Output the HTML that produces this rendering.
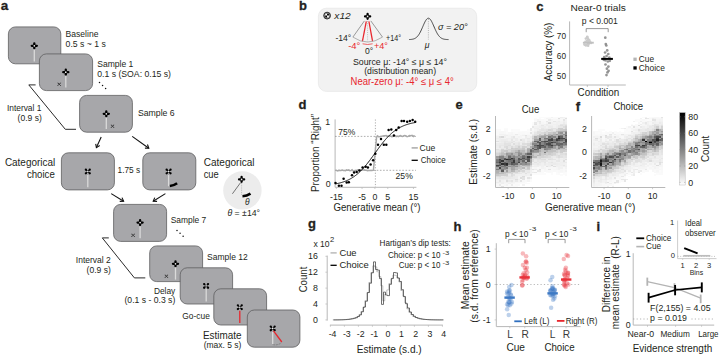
<!DOCTYPE html>
<html><head><meta charset="utf-8"><style>
html,body{margin:0;padding:0;background:#fff;width:720px;height:355px;overflow:hidden}
svg{display:block;font-family:"Liberation Sans",sans-serif}
text{stroke:#231f20;stroke-width:0;paint-order:stroke}
text[fill="#e8262d"]{stroke:#e8262d}
</style></head><body>
<svg width="720" height="355" viewBox="0 0 720 355" font-family="Liberation Sans, sans-serif" fill="#231f20"><path d="M28.8,84.9 L35.6,84.9 M28.8,84.9 L65.3,129.3 L76,129.3" stroke="#2a2a2a" stroke-width="1.0" fill="none" />
<path d="M102.3,237.9 L108.8,237.9 M102.3,237.9 L134.4,277.9 L145.3,277.9" stroke="#2a2a2a" stroke-width="1.0" fill="none" />
<rect x="8.40" y="26.90" width="52.40" height="36.90" rx="7" ry="7" fill="#a7a7aa" stroke="#5e5e60" stroke-width="0.8"/>
<path d="M31.75,45.80 L36.85,45.80 M34.30,43.35 L34.30,48.25" stroke="#000" stroke-width="2.3" stroke-linecap="round"/>
<circle cx="34.30" cy="45.80" r="0.85" fill="#f2f2f2"/>
<line x1="34.30" y1="49.60" x2="34.30" y2="61.50" stroke="#dadada" stroke-width="1.3" />
<rect x="39.40" y="53.90" width="53.20" height="36.70" rx="7" ry="7" fill="#a7a7aa" stroke="#5e5e60" stroke-width="0.8"/>
<path d="M63.25,72.20 L68.35,72.20 M65.80,69.75 L65.80,74.65" stroke="#000" stroke-width="2.3" stroke-linecap="round"/>
<circle cx="65.80" cy="72.20" r="0.85" fill="#f2f2f2"/>
<line x1="65.80" y1="75.80" x2="65.80" y2="87.50" stroke="#dadada" stroke-width="1.3" />
<path d="M57.95,82.95 L60.45,85.45 M57.95,85.45 L60.45,82.95" stroke="#222" stroke-width="0.75"/>
<circle cx="60.45" cy="85.45" r="0.45" fill="#222"/>
<circle cx="57.95" cy="85.45" r="0.45" fill="#222"/>
<circle cx="60.45" cy="82.95" r="0.45" fill="#222"/>
<circle cx="57.95" cy="82.95" r="0.45" fill="#222"/>
<rect x="79.60" y="95.40" width="52.80" height="36.80" rx="7" ry="7" fill="#a7a7aa" stroke="#5e5e60" stroke-width="0.8"/>
<path d="M103.75,113.80 L108.85,113.80 M106.30,111.35 L106.30,116.25" stroke="#000" stroke-width="2.3" stroke-linecap="round"/>
<circle cx="106.30" cy="113.80" r="0.85" fill="#f2f2f2"/>
<line x1="106.30" y1="117.40" x2="106.30" y2="129.00" stroke="#dadada" stroke-width="1.3" />
<path d="M111.25,124.95 L113.75,127.45 M111.25,127.45 L113.75,124.95" stroke="#222" stroke-width="0.75"/>
<circle cx="113.75" cy="127.45" r="0.45" fill="#222"/>
<circle cx="111.25" cy="127.45" r="0.45" fill="#222"/>
<circle cx="113.75" cy="124.95" r="0.45" fill="#222"/>
<circle cx="111.25" cy="124.95" r="0.45" fill="#222"/>
<rect x="61.40" y="152.80" width="53.00" height="37.10" rx="7" ry="7" fill="#a7a7aa" stroke="#5e5e60" stroke-width="0.8"/>
<path d="M85.85,169.65 L89.75,173.35 M85.85,173.35 L89.75,169.65" stroke="#000" stroke-width="1.15"/>
<circle cx="89.75" cy="173.35" r="1.15" fill="#000"/>
<circle cx="85.85" cy="173.35" r="1.15" fill="#000"/>
<circle cx="89.75" cy="169.65" r="1.15" fill="#000"/>
<circle cx="85.85" cy="169.65" r="1.15" fill="#000"/>
<circle cx="87.80" cy="171.50" r="0.8" fill="#f2f2f2"/>
<line x1="87.80" y1="175.00" x2="87.80" y2="187.20" stroke="#dadada" stroke-width="1.3" />
<rect x="142.80" y="152.80" width="53.00" height="37.10" rx="7" ry="7" fill="#a7a7aa" stroke="#5e5e60" stroke-width="0.8"/>
<path d="M166.65,169.65 L170.55,173.35 M166.65,173.35 L170.55,169.65" stroke="#000" stroke-width="1.15"/>
<circle cx="170.55" cy="173.35" r="1.15" fill="#000"/>
<circle cx="166.65" cy="173.35" r="1.15" fill="#000"/>
<circle cx="170.55" cy="169.65" r="1.15" fill="#000"/>
<circle cx="166.65" cy="169.65" r="1.15" fill="#000"/>
<circle cx="168.60" cy="171.50" r="0.8" fill="#f2f2f2"/>
<line x1="168.60" y1="175.00" x2="168.60" y2="186.20" stroke="#dadada" stroke-width="1.3" />
<path d="M169.86,185.94 A14.5,14.5 0 0 0 177.12,183.23" stroke="#000" stroke-width="2.6" fill="none" />
<rect x="113.60" y="204.40" width="53.00" height="37.00" rx="7" ry="7" fill="#a7a7aa" stroke="#5e5e60" stroke-width="0.8"/>
<path d="M137.55,222.60 L142.65,222.60 M140.10,220.15 L140.10,225.05" stroke="#000" stroke-width="2.3" stroke-linecap="round"/>
<circle cx="140.10" cy="222.60" r="0.85" fill="#f2f2f2"/>
<line x1="140.10" y1="226.20" x2="140.10" y2="238.20" stroke="#dadada" stroke-width="1.3" />
<path d="M131.85,234.05 L134.35,236.55 M131.85,236.55 L134.35,234.05" stroke="#222" stroke-width="0.75"/>
<circle cx="134.35" cy="236.55" r="0.45" fill="#222"/>
<circle cx="131.85" cy="236.55" r="0.45" fill="#222"/>
<circle cx="134.35" cy="234.05" r="0.45" fill="#222"/>
<circle cx="131.85" cy="234.05" r="0.45" fill="#222"/>
<rect x="149.70" y="245.90" width="52.90" height="35.70" rx="7" ry="7" fill="#a7a7aa" stroke="#5e5e60" stroke-width="0.8"/>
<path d="M172.95,263.80 L178.05,263.80 M175.50,261.35 L175.50,266.25" stroke="#000" stroke-width="2.3" stroke-linecap="round"/>
<circle cx="175.50" cy="263.80" r="0.85" fill="#f2f2f2"/>
<line x1="175.50" y1="267.30" x2="175.50" y2="279.60" stroke="#dadada" stroke-width="1.3" />
<path d="M165.15,274.95 L167.65,277.45 M165.15,277.45 L167.65,274.95" stroke="#222" stroke-width="0.75"/>
<circle cx="167.65" cy="277.45" r="0.45" fill="#222"/>
<circle cx="165.15" cy="277.45" r="0.45" fill="#222"/>
<circle cx="167.65" cy="274.95" r="0.45" fill="#222"/>
<circle cx="165.15" cy="274.95" r="0.45" fill="#222"/>
<rect x="180.20" y="267.80" width="52.40" height="36.20" rx="7" ry="7" fill="#a7a7aa" stroke="#5e5e60" stroke-width="0.8"/>
<path d="M204.15,284.05 L208.05,287.75 M204.15,287.75 L208.05,284.05" stroke="#000" stroke-width="1.15"/>
<circle cx="208.05" cy="287.75" r="1.15" fill="#000"/>
<circle cx="204.15" cy="287.75" r="1.15" fill="#000"/>
<circle cx="208.05" cy="284.05" r="1.15" fill="#000"/>
<circle cx="204.15" cy="284.05" r="1.15" fill="#000"/>
<circle cx="206.10" cy="285.90" r="0.8" fill="#f2f2f2"/>
<line x1="206.20" y1="289.10" x2="206.20" y2="301.50" stroke="#dadada" stroke-width="1.3" />
<rect x="213.80" y="288.80" width="52.80" height="36.20" rx="7" ry="7" fill="#a7a7aa" stroke="#5e5e60" stroke-width="0.8"/>
<path d="M237.85,305.35 L241.75,309.05 M237.85,309.05 L241.75,305.35" stroke="#000" stroke-width="1.15"/>
<circle cx="241.75" cy="309.05" r="1.15" fill="#000"/>
<circle cx="237.85" cy="309.05" r="1.15" fill="#000"/>
<circle cx="241.75" cy="305.35" r="1.15" fill="#000"/>
<circle cx="237.85" cy="305.35" r="1.15" fill="#000"/>
<circle cx="239.80" cy="307.20" r="0.8" fill="#f2f2f2"/>
<line x1="239.80" y1="310.70" x2="239.80" y2="323.00" stroke="#e8262d" stroke-width="1.3" />
<rect x="247.30" y="310.00" width="52.60" height="37.20" rx="7" ry="7" fill="#a7a7aa" stroke="#5e5e60" stroke-width="0.8"/>
<path d="M270.75,326.55 L274.65,330.25 M270.75,330.25 L274.65,326.55" stroke="#000" stroke-width="1.15"/>
<circle cx="274.65" cy="330.25" r="1.15" fill="#000"/>
<circle cx="270.75" cy="330.25" r="1.15" fill="#000"/>
<circle cx="274.65" cy="326.55" r="1.15" fill="#000"/>
<circle cx="270.75" cy="326.55" r="1.15" fill="#000"/>
<circle cx="272.70" cy="328.40" r="0.8" fill="#f2f2f2"/>
<line x1="272.70" y1="331.90" x2="272.70" y2="344.30" stroke="#dadada" stroke-width="1.3" />
<line x1="273.50" y1="330.80" x2="281.80" y2="342.00" stroke="#e8262d" stroke-width="1.3" />
<path d="M272.7,344.6 Q277,345.6 280.8,343.2" stroke="#333" stroke-width="0.5" fill="none" stroke-dasharray="0.8,0.8"/>
<line x1="101.20" y1="137.00" x2="96.40" y2="147.60" stroke="#111" stroke-width="1.1" />
<path d="M95.72,143.78 L96.40,147.60 L99.72,145.59" stroke="#111" stroke-width="1.1" fill="none" />
<line x1="132.20" y1="136.40" x2="148.80" y2="148.20" stroke="#111" stroke-width="1.1" />
<path d="M144.92,148.14 L148.80,148.20 L147.47,144.55" stroke="#111" stroke-width="1.1" fill="none" />
<line x1="111.20" y1="193.60" x2="123.60" y2="201.20" stroke="#111" stroke-width="1.1" />
<path d="M119.72,201.40 L123.60,201.20 L122.02,197.65" stroke="#111" stroke-width="1.1" fill="none" />
<line x1="165.40" y1="193.60" x2="153.20" y2="201.20" stroke="#111" stroke-width="1.1" />
<path d="M154.75,197.64 L153.20,201.20 L157.08,201.38" stroke="#111" stroke-width="1.1" fill="none" />
<circle cx="99.50" cy="82.50" r="0.75" fill="#111"/>
<circle cx="102.55" cy="85.45" r="0.75" fill="#111"/>
<circle cx="105.60" cy="88.40" r="0.75" fill="#111"/>
<circle cx="177.00" cy="230.40" r="0.75" fill="#111"/>
<circle cx="180.05" cy="233.35" r="0.75" fill="#111"/>
<circle cx="183.10" cy="236.30" r="0.75" fill="#111"/>
<circle cx="242.4" cy="190.4" r="19.2" fill="#ececec"/>
<path d="M239.05,179.40 L244.15,179.40 M241.60,176.95 L241.60,181.85" stroke="#000" stroke-width="2.3" stroke-linecap="round"/>
<circle cx="241.60" cy="179.40" r="0.85" fill="#f2f2f2"/>
<path d="M241.6,183 L241.6,195.6" stroke="#b0b0b0" stroke-width="0.8" fill="none" stroke-dasharray="1,0.8"/>
<line x1="240.60" y1="182.60" x2="232.40" y2="193.80" stroke="#222" stroke-width="0.6" />
<path d="M242.48,196.18 A16.8,16.8 0 0 0 250.50,193.65" stroke="#000" stroke-width="2.6" fill="none" />
<text x="245.00" y="205.00" font-size="8.4" font-style="italic" >θ</text>
<text x="0.80" y="10.10" font-size="13.5" font-weight="bold" style="stroke-width:0.3px" >a</text>
<text x="65.60" y="37.00" font-size="8.6" textLength="32.80" lengthAdjust="spacingAndGlyphs" >Baseline</text>
<text x="65.60" y="47.20" font-size="8.6" textLength="40.20" lengthAdjust="spacingAndGlyphs" >0.5 s ~ 1 s</text>
<text x="97.20" y="66.70" font-size="8.6" textLength="36.20" lengthAdjust="spacingAndGlyphs" >Sample 1</text>
<text x="97.20" y="76.60" font-size="8.6" textLength="73.80" lengthAdjust="spacingAndGlyphs" >0.1 s (SOA: 0.15 s)</text>
<text x="137.90" y="116.10" font-size="8.6" textLength="36.80" lengthAdjust="spacingAndGlyphs" >Sample 6</text>
<text x="41.40" y="111.10" font-size="8.6" text-anchor="end" textLength="34.50" lengthAdjust="spacingAndGlyphs" >Interval 1</text>
<text x="41.80" y="120.80" font-size="8.6" text-anchor="end" textLength="24.20" lengthAdjust="spacingAndGlyphs" >(0.9 s)</text>
<text x="4.90" y="166.20" font-size="10" textLength="50.30" lengthAdjust="spacingAndGlyphs" >Categorical</text>
<text x="54.80" y="177.60" font-size="10" text-anchor="end" textLength="27.90" lengthAdjust="spacingAndGlyphs" >choice</text>
<text x="117.60" y="172.70" font-size="8.6" textLength="22.60" lengthAdjust="spacingAndGlyphs" >1.75 s</text>
<text x="203.70" y="166.40" font-size="10" textLength="50.80" lengthAdjust="spacingAndGlyphs" >Categorical</text>
<text x="203.70" y="178.00" font-size="10" textLength="15.00" lengthAdjust="spacingAndGlyphs" >cue</text>
<text x="227.4" y="216.1" font-size="8.6" textLength="32.7" lengthAdjust="spacingAndGlyphs"><tspan font-style="italic">θ</tspan> = ±14°</text>
<text x="170.70" y="223.30" font-size="8.6" textLength="35.60" lengthAdjust="spacingAndGlyphs" >Sample 7</text>
<text x="110.80" y="262.70" font-size="8.6" text-anchor="end" textLength="35.00" lengthAdjust="spacingAndGlyphs" >Interval 2</text>
<text x="110.80" y="272.60" font-size="8.6" text-anchor="end" textLength="24.20" lengthAdjust="spacingAndGlyphs" >(0.9 s)</text>
<text x="207.00" y="259.60" font-size="8.6" textLength="40.70" lengthAdjust="spacingAndGlyphs" >Sample 12</text>
<text x="175.30" y="294.20" font-size="8.6" text-anchor="end" textLength="21.40" lengthAdjust="spacingAndGlyphs" >Delay</text>
<text x="175.30" y="302.80" font-size="8.6" text-anchor="end" textLength="50.80" lengthAdjust="spacingAndGlyphs" >(0.1 s - 0.3 s)</text>
<text x="182.30" y="318.50" font-size="8.6" textLength="27.50" lengthAdjust="spacingAndGlyphs" >Go-cue</text>
<text x="203.00" y="339.30" font-size="10.4" textLength="38.50" lengthAdjust="spacingAndGlyphs" >Estimate</text>
<text x="203.70" y="347.60" font-size="8.6" textLength="37.70" lengthAdjust="spacingAndGlyphs" >(max. 5 s)</text>
<text x="298.90" y="10.20" font-size="13" font-weight="bold" style="stroke-width:0.3px" >b</text>
<rect x="318.4" y="8.2" width="158.3" height="83.2" rx="8" ry="8" fill="#f2f2f2" stroke="#e2e2e2" stroke-width="0.6"/>
<circle cx="327.1" cy="15.6" r="3.4" fill="#8a8a8a" stroke="#222" stroke-width="0.9"/>
<rect x="325.35" y="13.85" width="1.75" height="1.75" fill="#fff"/>
<rect x="327.1" y="13.85" width="1.75" height="1.75" fill="#000"/>
<rect x="325.35" y="15.6" width="1.75" height="1.75" fill="#000"/>
<rect x="327.1" y="15.6" width="1.75" height="1.75" fill="#fff"/>
<text x="334.30" y="18.80" font-size="9.6" font-style="italic" textLength="16.40" lengthAdjust="spacingAndGlyphs" >x12</text>
<path d="M365.05,16.40 L370.15,16.40 M367.60,13.95 L367.60,18.85" stroke="#000" stroke-width="2.3" stroke-linecap="round"/>
<circle cx="367.60" cy="16.40" r="0.85" fill="#f2f2f2"/>
<line x1="364.40" y1="20.90" x2="352.90" y2="37.10" stroke="#8f8f8f" stroke-width="0.9" />
<line x1="370.80" y1="20.90" x2="382.50" y2="37.10" stroke="#8f8f8f" stroke-width="0.9" />
<line x1="366.30" y1="21.30" x2="362.40" y2="41.30" stroke="#e8262d" stroke-width="1.25" />
<line x1="368.90" y1="21.30" x2="372.60" y2="41.30" stroke="#e8262d" stroke-width="1.25" />
<path d="M367.6,21 L367.6,41.5" stroke="#999" stroke-width="0.6" fill="none" stroke-dasharray="1,1.2"/>
<path d="M352.9,37.1 Q367.6,47.0 382.5,37.1" stroke="#a8a8a8" stroke-width="0.9" fill="none" />
<path d="M362.6,43.8 Q367.6,45.2 372.6,43.8" stroke="#e8262d" stroke-width="0.7" fill="none" />
<text x="335.50" y="41.20" font-size="8.4" textLength="15.80" lengthAdjust="spacingAndGlyphs" >-14°</text>
<text x="386.10" y="41.20" font-size="8.4" textLength="14.90" lengthAdjust="spacingAndGlyphs" >+14°</text>
<text x="348.20" y="49.40" font-size="8.6" fill="#e8262d" textLength="12.20" lengthAdjust="spacingAndGlyphs" >-4°</text>
<text x="373.90" y="49.40" font-size="8.6" fill="#e8262d" textLength="14.00" lengthAdjust="spacingAndGlyphs" >+4°</text>
<text x="365.00" y="53.60" font-size="8.4" textLength="8.20" lengthAdjust="spacingAndGlyphs" >0°</text>
<path d="M409.00,39.55 L409.49,39.53 L409.99,39.50 L410.48,39.47 L410.98,39.43 L411.47,39.38 L411.96,39.31 L412.46,39.23 L412.95,39.12 L413.44,39.00 L413.94,38.84 L414.43,38.65 L414.93,38.42 L415.42,38.14 L415.91,37.82 L416.41,37.44 L416.90,37.00 L417.39,36.50 L417.89,35.93 L418.38,35.28 L418.88,34.56 L419.37,33.77 L419.86,32.91 L420.36,31.97 L420.85,30.98 L421.34,29.93 L421.84,28.83 L422.33,27.70 L422.82,26.56 L423.32,25.42 L423.81,24.30 L424.31,23.22 L424.80,22.19 L425.29,21.25 L425.79,20.41 L426.28,19.68 L426.77,19.08 L427.27,18.63 L427.76,18.34 L428.26,18.21 L428.75,18.24 L429.24,18.44 L429.74,18.80 L430.23,19.31 L430.73,19.97 L431.22,20.75 L431.71,21.63 L432.21,22.61 L432.70,23.66 L433.19,24.76 L433.69,25.90 L434.18,27.04 L434.68,28.18 L435.17,29.29 L435.66,30.37 L436.16,31.40 L436.65,32.37 L437.14,33.28 L437.64,34.11 L438.13,34.87 L438.62,35.56 L439.12,36.17 L439.61,36.72 L440.11,37.19 L440.60,37.61 L441.09,37.96 L441.59,38.26 L442.08,38.52 L442.57,38.73 L443.07,38.91 L443.56,39.05 L444.06,39.17 L444.55,39.27 L445.04,39.34 L445.54,39.40 L446.03,39.45 L446.52,39.49 L447.02,39.51 L447.51,39.54 L448.01,39.55 L448.50,39.57" stroke="#333" stroke-width="0.9" fill="none" />
<path d="M428.4,19 L428.4,39.5" stroke="#888" stroke-width="0.6" fill="none" stroke-dasharray="1,1.2"/>
<text x="424.70" y="47.90" font-size="8.6" font-style="italic" >μ</text>
<text x="437.90" y="29.90" font-size="9.8" font-style="italic" textLength="29.80" lengthAdjust="spacingAndGlyphs" >σ = 20°</text>
<text x="352.90" y="64.60" font-size="8.8" textLength="94.10" lengthAdjust="spacingAndGlyphs" >Source μ: -14° ≤ μ ≤ 14°</text>
<text x="364.20" y="74.20" font-size="8.8" textLength="71.90" lengthAdjust="spacingAndGlyphs" >(distribution mean)</text>
<text x="350.60" y="85.20" font-size="10" fill="#e8262d" textLength="103.10" lengthAdjust="spacingAndGlyphs" >Near-zero μ: -4° ≤ μ ≤ 4°</text>
<text x="536.20" y="10.90" font-size="13" font-weight="bold" style="stroke-width:0.3px" >c</text>
<text x="570.50" y="11.00" font-size="9.6" textLength="55.30" lengthAdjust="spacingAndGlyphs" >Near-0 trials</text>
<text x="581.80" y="24.00" font-size="8.8" textLength="36.00" lengthAdjust="spacingAndGlyphs" >p &lt; 0.001</text>
<path d="M586.2,32.2 L586.2,28.6 L608.2,28.6 L608.2,32.2" stroke="#555" stroke-width="0.6" fill="none" />
<line x1="569.60" y1="21.40" x2="569.60" y2="85.00" stroke="#b8b8b8" stroke-width="1.0" />
<line x1="569.60" y1="85.00" x2="625.80" y2="85.00" stroke="#b8b8b8" stroke-width="1.0" />
<line x1="587.30" y1="85.00" x2="587.30" y2="86.80" stroke="#b8b8b8" stroke-width="1.0" />
<line x1="608.00" y1="85.00" x2="608.00" y2="86.80" stroke="#b8b8b8" stroke-width="1.0" />
<text x="566.00" y="39.20" font-size="8.8" text-anchor="end" textLength="9.20" lengthAdjust="spacingAndGlyphs" >70</text>
<text x="566.00" y="59.10" font-size="8.8" text-anchor="end" textLength="9.20" lengthAdjust="spacingAndGlyphs" >60</text>
<text x="566.00" y="78.90" font-size="8.8" text-anchor="end" textLength="9.20" lengthAdjust="spacingAndGlyphs" >50</text>
<text transform="translate(551.60,52.00) rotate(-90)" x="0" y="0" font-size="10" text-anchor="middle" textLength="58.60" lengthAdjust="spacingAndGlyphs">Accuracy (%)</text>
<text x="577.60" y="96.30" font-size="10" textLength="41.70" lengthAdjust="spacingAndGlyphs" >Condition</text>
<circle cx="588.15" cy="45.75" r="1.3" fill="#cbcbcb"/>
<circle cx="586.51" cy="45.08" r="1.3" fill="#cbcbcb"/>
<circle cx="587.59" cy="41.82" r="1.3" fill="#cbcbcb"/>
<circle cx="591.04" cy="42.91" r="1.3" fill="#cbcbcb"/>
<circle cx="587.93" cy="44.40" r="1.3" fill="#cbcbcb"/>
<circle cx="589.80" cy="42.42" r="1.3" fill="#cbcbcb"/>
<circle cx="588.94" cy="39.97" r="1.3" fill="#cbcbcb"/>
<circle cx="587.41" cy="41.36" r="1.3" fill="#cbcbcb"/>
<circle cx="585.87" cy="38.58" r="1.3" fill="#cbcbcb"/>
<circle cx="585.40" cy="41.88" r="1.3" fill="#cbcbcb"/>
<circle cx="587.72" cy="41.67" r="1.3" fill="#cbcbcb"/>
<circle cx="588.11" cy="39.03" r="1.3" fill="#cbcbcb"/>
<circle cx="587.87" cy="43.12" r="1.3" fill="#cbcbcb"/>
<circle cx="589.20" cy="40.30" r="1.3" fill="#cbcbcb"/>
<circle cx="587.36" cy="37.26" r="1.3" fill="#cbcbcb"/>
<circle cx="587.19" cy="36.79" r="1.3" fill="#cbcbcb"/>
<circle cx="585.73" cy="45.36" r="1.3" fill="#cbcbcb"/>
<circle cx="584.48" cy="44.58" r="1.3" fill="#cbcbcb"/>
<circle cx="588.52" cy="41.69" r="1.3" fill="#cbcbcb"/>
<circle cx="588.73" cy="43.87" r="1.3" fill="#cbcbcb"/>
<circle cx="589.67" cy="41.90" r="1.3" fill="#cbcbcb"/>
<circle cx="587.05" cy="40.93" r="1.3" fill="#cbcbcb"/>
<line x1="582.90" y1="42.70" x2="593.80" y2="42.70" stroke="#c0c0c0" stroke-width="1.9" />
<circle cx="605.30" cy="37.70" r="1.35" fill="#8a8a8a" fill-opacity="0.9"/>
<circle cx="605.80" cy="44.10" r="1.35" fill="#8a8a8a" fill-opacity="0.9"/>
<circle cx="606.30" cy="45.50" r="1.35" fill="#8a8a8a" fill-opacity="0.9"/>
<circle cx="607.20" cy="50.40" r="1.35" fill="#8a8a8a" fill-opacity="0.9"/>
<circle cx="605.10" cy="52.50" r="1.35" fill="#8a8a8a" fill-opacity="0.9"/>
<circle cx="608.30" cy="54.00" r="1.35" fill="#8a8a8a" fill-opacity="0.9"/>
<circle cx="606.60" cy="56.00" r="1.35" fill="#8a8a8a" fill-opacity="0.9"/>
<circle cx="604.20" cy="57.20" r="1.35" fill="#8a8a8a" fill-opacity="0.9"/>
<circle cx="609.30" cy="57.50" r="1.35" fill="#8a8a8a" fill-opacity="0.9"/>
<circle cx="605.30" cy="60.30" r="1.35" fill="#8a8a8a" fill-opacity="0.9"/>
<circle cx="607.80" cy="61.50" r="1.35" fill="#8a8a8a" fill-opacity="0.9"/>
<circle cx="605.50" cy="64.50" r="1.35" fill="#8a8a8a" fill-opacity="0.9"/>
<circle cx="608.40" cy="66.60" r="1.35" fill="#8a8a8a" fill-opacity="0.9"/>
<circle cx="606.90" cy="68.70" r="1.35" fill="#8a8a8a" fill-opacity="0.9"/>
<circle cx="608.60" cy="70.80" r="1.35" fill="#8a8a8a" fill-opacity="0.9"/>
<circle cx="607.50" cy="72.40" r="1.35" fill="#8a8a8a" fill-opacity="0.9"/>
<circle cx="606.50" cy="75.10" r="1.35" fill="#8a8a8a" fill-opacity="0.9"/>
<circle cx="603.80" cy="59.80" r="1.35" fill="#8a8a8a" fill-opacity="0.9"/>
<circle cx="609.80" cy="60.80" r="1.35" fill="#8a8a8a" fill-opacity="0.9"/>
<line x1="601.20" y1="58.90" x2="612.90" y2="58.90" stroke="#000" stroke-width="2.0" />
<rect x="633.4" y="57.6" width="3.3" height="3.3" fill="#b5b5b5"/>
<rect x="633.4" y="66.3" width="3.3" height="3.3" fill="#000"/>
<text x="638.80" y="61.90" font-size="8.8" textLength="15.30" lengthAdjust="spacingAndGlyphs" >Cue</text>
<text x="638.80" y="70.90" font-size="8.8" textLength="26.20" lengthAdjust="spacingAndGlyphs" >Choice</text>
<text x="298.40" y="109.30" font-size="13" font-weight="bold" style="stroke-width:0.3px" >d</text>
<line x1="335.10" y1="119.40" x2="335.10" y2="187.30" stroke="#b8b8b8" stroke-width="1.0" />
<line x1="335.10" y1="187.30" x2="416.40" y2="187.30" stroke="#b8b8b8" stroke-width="1.0" />
<line x1="336.35" y1="187.30" x2="336.35" y2="189.00" stroke="#b8b8b8" stroke-width="0.7" />
<line x1="362.05" y1="187.30" x2="362.05" y2="189.00" stroke="#b8b8b8" stroke-width="0.7" />
<line x1="374.90" y1="187.30" x2="374.90" y2="189.00" stroke="#b8b8b8" stroke-width="0.7" />
<line x1="387.75" y1="187.30" x2="387.75" y2="189.00" stroke="#b8b8b8" stroke-width="0.7" />
<line x1="413.45" y1="187.30" x2="413.45" y2="189.00" stroke="#b8b8b8" stroke-width="0.7" />
<text x="330.10" y="124.70" font-size="8.8" text-anchor="end" >1</text>
<text x="330.60" y="186.50" font-size="8.8" text-anchor="end" >0</text>
<text x="336.35" y="199.90" font-size="8.8" text-anchor="middle" >-15</text>
<text x="362.05" y="199.90" font-size="8.8" text-anchor="middle" >-5</text>
<text x="374.90" y="199.90" font-size="8.8" text-anchor="middle" >0</text>
<text x="387.75" y="199.90" font-size="8.8" text-anchor="middle" >5</text>
<text x="413.45" y="199.90" font-size="8.8" text-anchor="middle" >15</text>
<text x="333.40" y="210.80" font-size="10" textLength="87.20" lengthAdjust="spacingAndGlyphs" >Generative mean (°)</text>
<text transform="translate(319.20,153.00) rotate(-90)" x="0" y="0" font-size="10" text-anchor="middle" textLength="78.00" lengthAdjust="spacingAndGlyphs">Proportion “Right”</text>
<path d="M335.1,136.4 L416,136.4" stroke="#777" stroke-width="0.6" fill="none" stroke-dasharray="1.6,1.6"/>
<path d="M335.1,170.3 L416,170.3" stroke="#777" stroke-width="0.6" fill="none" stroke-dasharray="1.6,1.6"/>
<path d="M375.4,119.5 L375.4,187" stroke="#777" stroke-width="0.6" fill="none" stroke-dasharray="1.2,1.6"/>
<text x="338.30" y="135.10" font-size="9.2" textLength="16.90" lengthAdjust="spacingAndGlyphs" >75%</text>
<text x="395.60" y="179.00" font-size="9.2" textLength="17.20" lengthAdjust="spacingAndGlyphs" >25%</text>
<path d="M335.60,170.34 L336.70,170.47 L337.80,170.91 L338.90,170.36 L340.00,170.41 L341.10,170.50 L342.20,170.02 L343.30,170.41 L344.40,170.56 L345.50,170.75 L346.60,169.91 L347.70,170.16 L348.80,169.91 L349.90,170.77 L351.00,170.63 L352.10,169.85 L353.20,170.98 L354.30,170.96 L355.40,170.58 L356.50,170.54 L357.60,169.99 L358.70,169.82 L359.80,170.43 L360.90,169.87 L362.00,170.03 L363.10,170.09 L364.20,169.84 L365.30,170.36 L366.40,170.33 L367.50,170.81 L368.60,170.42 L369.70,170.57 L370.80,170.40 L371.90,170.59 L373.00,170.35 L373.4,170.2 L376.6,137.2 L377.40,135.83 L378.50,136.70 L379.60,136.69 L380.70,136.51 L381.80,136.35 L382.90,135.88 L384.00,135.78 L385.10,135.85 L386.20,135.58 L387.30,136.42 L388.40,135.98 L389.50,136.52 L390.60,135.96 L391.70,136.65 L392.80,136.52 L393.90,135.50 L395.00,135.75 L396.10,136.59 L397.20,136.06 L398.30,136.68 L399.40,135.98 L400.50,135.59 L401.60,136.26 L402.70,136.43 L403.80,135.82 L404.90,135.60 L406.00,135.90 L407.10,136.66 L408.20,136.41 L409.30,135.64 L410.40,135.80 L411.50,135.62 L412.60,135.57 L413.70,136.46 L414.80,135.71" stroke="#a9a9a9" stroke-width="1.5" fill="none" />
<path d="M335.50,183.92 L336.50,183.72 L337.50,183.52 L338.50,183.29 L339.50,183.05 L340.50,182.78 L341.50,182.50 L342.50,182.20 L343.50,181.87 L344.50,181.51 L345.50,181.13 L346.50,180.72 L347.50,180.29 L348.50,179.82 L349.50,179.31 L350.50,178.77 L351.50,178.20 L352.50,177.59 L353.50,176.94 L354.50,176.24 L355.50,175.51 L356.50,174.73 L357.50,173.91 L358.50,173.04 L359.50,172.13 L360.50,171.17 L361.50,170.17 L362.50,169.12 L363.50,168.03 L364.50,166.90 L365.50,165.73 L366.50,164.51 L367.50,163.27 L368.50,161.99 L369.50,160.68 L370.50,159.35 L371.50,158.00 L372.50,156.63 L373.50,155.24 L374.50,153.86 L375.50,152.47 L376.50,151.08 L377.50,149.70 L378.50,148.33 L379.50,146.98 L380.50,145.65 L381.50,144.35 L382.50,143.08 L383.50,141.84 L384.50,140.64 L385.50,139.47 L386.50,138.35 L387.50,137.27 L388.50,136.23 L389.50,135.23 L390.50,134.29 L391.50,133.38 L392.50,132.53 L393.50,131.71 L394.50,130.94 L395.50,130.22 L396.50,129.53 L397.50,128.89 L398.50,128.28 L399.50,127.72 L400.50,127.18 L401.50,126.69 L402.50,126.22 L403.50,125.79 L404.50,125.39 L405.50,125.01 L406.50,124.66 L407.50,124.34 L408.50,124.04 L409.50,123.76 L410.50,123.50 L411.50,123.26 L412.50,123.04 L413.50,122.84 L414.50,122.65 L415.50,122.47" stroke="#000" stroke-width="0.9" fill="none" />
<circle cx="335.5" cy="183" r="1.25" fill="#000"/>
<circle cx="338.9" cy="185.8" r="1.25" fill="#000"/>
<circle cx="341.5" cy="185.8" r="1.25" fill="#000"/>
<circle cx="343.6" cy="178.8" r="1.25" fill="#000"/>
<circle cx="346.7" cy="182.6" r="1.25" fill="#000"/>
<circle cx="348.8" cy="182.2" r="1.25" fill="#000"/>
<circle cx="352" cy="175.2" r="1.25" fill="#000"/>
<circle cx="354.1" cy="172.5" r="1.25" fill="#000"/>
<circle cx="356.7" cy="172" r="1.25" fill="#000"/>
<circle cx="359.4" cy="170.4" r="1.25" fill="#000"/>
<circle cx="362.6" cy="167.4" r="1.25" fill="#000"/>
<circle cx="365.7" cy="166.8" r="1.25" fill="#000"/>
<circle cx="367.9" cy="167.4" r="1.25" fill="#000"/>
<circle cx="370.6" cy="164.6" r="1.25" fill="#000"/>
<circle cx="373.1" cy="160.2" r="1.25" fill="#000"/>
<circle cx="375.3" cy="153.7" r="1.25" fill="#000"/>
<circle cx="378" cy="144.8" r="1.25" fill="#000"/>
<circle cx="381" cy="139" r="1.25" fill="#000"/>
<circle cx="383.8" cy="144.8" r="1.25" fill="#000"/>
<circle cx="386.3" cy="144.8" r="1.25" fill="#000"/>
<circle cx="388.6" cy="130.1" r="1.25" fill="#000"/>
<circle cx="391.3" cy="129.4" r="1.25" fill="#000"/>
<circle cx="393.9" cy="135.4" r="1.25" fill="#000"/>
<circle cx="396.2" cy="130.1" r="1.25" fill="#000"/>
<circle cx="398.7" cy="127.6" r="1.25" fill="#000"/>
<circle cx="401.6" cy="120.9" r="1.25" fill="#000"/>
<circle cx="404" cy="120.9" r="1.25" fill="#000"/>
<circle cx="407.2" cy="121.8" r="1.25" fill="#000"/>
<circle cx="409.9" cy="120.9" r="1.25" fill="#000"/>
<circle cx="412.6" cy="120" r="1.25" fill="#000"/>
<circle cx="415.2" cy="121.8" r="1.25" fill="#000"/>
<line x1="411.60" y1="147.90" x2="417.80" y2="147.90" stroke="#a9a9a9" stroke-width="1.5" />
<line x1="411.60" y1="160.30" x2="417.80" y2="160.30" stroke="#000" stroke-width="1.3" />
<text x="419.60" y="150.80" font-size="8.8" textLength="15.80" lengthAdjust="spacingAndGlyphs" >Cue</text>
<text x="420.80" y="163.20" font-size="8.8" textLength="24.80" lengthAdjust="spacingAndGlyphs" >Choice</text>
<text x="455.60" y="109.30" font-size="13" font-weight="bold" style="stroke-width:0.3px" >e</text>
<text x="521.70" y="112.90" font-size="10" textLength="17.60" lengthAdjust="spacingAndGlyphs" >Cue</text>
<g shape-rendering="crispEdges" filter="url(#hb)"><rect x="496.40" y="129.31" width="2.42" height="1.46" fill="rgb(250,250,250)"/><rect x="496.40" y="130.72" width="2.42" height="1.46" fill="rgb(249,249,249)"/><rect x="496.40" y="132.13" width="2.42" height="1.46" fill="rgb(249,249,249)"/><rect x="496.40" y="133.54" width="2.42" height="1.46" fill="rgb(249,249,249)"/><rect x="496.40" y="134.96" width="2.42" height="1.46" fill="rgb(246,246,246)"/><rect x="496.40" y="136.37" width="2.42" height="1.46" fill="rgb(241,241,241)"/><rect x="496.40" y="137.78" width="2.42" height="1.46" fill="rgb(238,238,238)"/><rect x="496.40" y="139.19" width="2.42" height="1.46" fill="rgb(241,241,241)"/><rect x="496.40" y="140.60" width="2.42" height="1.46" fill="rgb(226,226,226)"/><rect x="496.40" y="142.02" width="2.42" height="1.46" fill="rgb(243,243,243)"/><rect x="496.40" y="143.43" width="2.42" height="1.46" fill="rgb(236,236,236)"/><rect x="496.40" y="144.84" width="2.42" height="1.46" fill="rgb(235,235,235)"/><rect x="496.40" y="146.25" width="2.42" height="1.46" fill="rgb(237,237,237)"/><rect x="496.40" y="147.66" width="2.42" height="1.46" fill="rgb(239,239,239)"/><rect x="496.40" y="149.08" width="2.42" height="1.46" fill="rgb(224,224,224)"/><rect x="496.40" y="150.49" width="2.42" height="1.46" fill="rgb(229,229,229)"/><rect x="496.40" y="151.90" width="2.42" height="1.46" fill="rgb(222,222,222)"/><rect x="496.40" y="153.31" width="2.42" height="1.46" fill="rgb(213,213,213)"/><rect x="496.40" y="154.72" width="2.42" height="1.46" fill="rgb(213,213,213)"/><rect x="496.40" y="156.14" width="2.42" height="1.46" fill="rgb(154,154,154)"/><rect x="496.40" y="157.55" width="2.42" height="1.46" fill="rgb(162,162,162)"/><rect x="496.40" y="158.96" width="2.42" height="1.46" fill="rgb(124,124,124)"/><rect x="496.40" y="160.37" width="2.42" height="1.46" fill="rgb(117,117,117)"/><rect x="496.40" y="161.78" width="2.42" height="1.46" fill="rgb(102,102,102)"/><rect x="496.40" y="163.20" width="2.42" height="1.46" fill="rgb(142,142,142)"/><rect x="496.40" y="164.61" width="2.42" height="1.46" fill="rgb(66,66,66)"/><rect x="496.40" y="166.02" width="2.42" height="1.46" fill="rgb(108,108,108)"/><rect x="496.40" y="167.43" width="2.42" height="1.46" fill="rgb(166,166,166)"/><rect x="496.40" y="168.84" width="2.42" height="1.46" fill="rgb(126,126,126)"/><rect x="496.40" y="170.26" width="2.42" height="1.46" fill="rgb(176,176,176)"/><rect x="496.40" y="171.67" width="2.42" height="1.46" fill="rgb(177,177,177)"/><rect x="496.40" y="173.08" width="2.42" height="1.46" fill="rgb(184,184,184)"/><rect x="496.40" y="174.49" width="2.42" height="1.46" fill="rgb(200,200,200)"/><rect x="496.40" y="175.90" width="2.42" height="1.46" fill="rgb(221,221,221)"/><rect x="496.40" y="177.32" width="2.42" height="1.46" fill="rgb(231,231,231)"/><rect x="496.40" y="178.73" width="2.42" height="1.46" fill="rgb(239,239,239)"/><rect x="496.40" y="180.14" width="2.42" height="1.46" fill="rgb(243,243,243)"/><rect x="496.40" y="181.55" width="2.42" height="1.46" fill="rgb(236,236,236)"/><rect x="496.40" y="182.96" width="2.42" height="1.46" fill="rgb(244,244,244)"/><rect x="496.40" y="184.38" width="2.42" height="1.46" fill="rgb(247,247,247)"/><rect x="496.40" y="185.79" width="2.42" height="1.46" fill="rgb(248,248,248)"/><rect x="498.77" y="129.31" width="2.42" height="1.46" fill="rgb(250,250,250)"/><rect x="498.77" y="130.72" width="2.42" height="1.46" fill="rgb(248,248,248)"/><rect x="498.77" y="132.13" width="2.42" height="1.46" fill="rgb(247,247,247)"/><rect x="498.77" y="133.54" width="2.42" height="1.46" fill="rgb(242,242,242)"/><rect x="498.77" y="134.96" width="2.42" height="1.46" fill="rgb(246,246,246)"/><rect x="498.77" y="136.37" width="2.42" height="1.46" fill="rgb(225,225,225)"/><rect x="498.77" y="137.78" width="2.42" height="1.46" fill="rgb(238,238,238)"/><rect x="498.77" y="139.19" width="2.42" height="1.46" fill="rgb(238,238,238)"/><rect x="498.77" y="140.60" width="2.42" height="1.46" fill="rgb(237,237,237)"/><rect x="498.77" y="142.02" width="2.42" height="1.46" fill="rgb(240,240,240)"/><rect x="498.77" y="143.43" width="2.42" height="1.46" fill="rgb(234,234,234)"/><rect x="498.77" y="144.84" width="2.42" height="1.46" fill="rgb(230,230,230)"/><rect x="498.77" y="146.25" width="2.42" height="1.46" fill="rgb(227,227,227)"/><rect x="498.77" y="147.66" width="2.42" height="1.46" fill="rgb(238,238,238)"/><rect x="498.77" y="149.08" width="2.42" height="1.46" fill="rgb(233,233,233)"/><rect x="498.77" y="150.49" width="2.42" height="1.46" fill="rgb(226,226,226)"/><rect x="498.77" y="151.90" width="2.42" height="1.46" fill="rgb(216,216,216)"/><rect x="498.77" y="153.31" width="2.42" height="1.46" fill="rgb(203,203,203)"/><rect x="498.77" y="154.72" width="2.42" height="1.46" fill="rgb(184,184,184)"/><rect x="498.77" y="156.14" width="2.42" height="1.46" fill="rgb(131,131,131)"/><rect x="498.77" y="157.55" width="2.42" height="1.46" fill="rgb(136,136,136)"/><rect x="498.77" y="158.96" width="2.42" height="1.46" fill="rgb(71,71,71)"/><rect x="498.77" y="160.37" width="2.42" height="1.46" fill="rgb(85,85,85)"/><rect x="498.77" y="161.78" width="2.42" height="1.46" fill="rgb(56,56,56)"/><rect x="498.77" y="163.20" width="2.42" height="1.46" fill="rgb(103,103,103)"/><rect x="498.77" y="164.61" width="2.42" height="1.46" fill="rgb(81,81,81)"/><rect x="498.77" y="166.02" width="2.42" height="1.46" fill="rgb(145,145,145)"/><rect x="498.77" y="167.43" width="2.42" height="1.46" fill="rgb(69,69,69)"/><rect x="498.77" y="168.84" width="2.42" height="1.46" fill="rgb(152,152,152)"/><rect x="498.77" y="170.26" width="2.42" height="1.46" fill="rgb(185,185,185)"/><rect x="498.77" y="171.67" width="2.42" height="1.46" fill="rgb(202,202,202)"/><rect x="498.77" y="173.08" width="2.42" height="1.46" fill="rgb(186,186,186)"/><rect x="498.77" y="174.49" width="2.42" height="1.46" fill="rgb(206,206,206)"/><rect x="498.77" y="175.90" width="2.42" height="1.46" fill="rgb(217,217,217)"/><rect x="498.77" y="177.32" width="2.42" height="1.46" fill="rgb(228,228,228)"/><rect x="498.77" y="178.73" width="2.42" height="1.46" fill="rgb(235,235,235)"/><rect x="498.77" y="180.14" width="2.42" height="1.46" fill="rgb(226,226,226)"/><rect x="498.77" y="181.55" width="2.42" height="1.46" fill="rgb(238,238,238)"/><rect x="498.77" y="182.96" width="2.42" height="1.46" fill="rgb(244,244,244)"/><rect x="498.77" y="184.38" width="2.42" height="1.46" fill="rgb(233,233,233)"/><rect x="498.77" y="185.79" width="2.42" height="1.46" fill="rgb(247,247,247)"/><rect x="501.13" y="130.72" width="2.42" height="1.46" fill="rgb(247,247,247)"/><rect x="501.13" y="132.13" width="2.42" height="1.46" fill="rgb(247,247,247)"/><rect x="501.13" y="133.54" width="2.42" height="1.46" fill="rgb(242,242,242)"/><rect x="501.13" y="134.96" width="2.42" height="1.46" fill="rgb(246,246,246)"/><rect x="501.13" y="136.37" width="2.42" height="1.46" fill="rgb(217,217,217)"/><rect x="501.13" y="137.78" width="2.42" height="1.46" fill="rgb(242,242,242)"/><rect x="501.13" y="139.19" width="2.42" height="1.46" fill="rgb(236,236,236)"/><rect x="501.13" y="140.60" width="2.42" height="1.46" fill="rgb(235,235,235)"/><rect x="501.13" y="142.02" width="2.42" height="1.46" fill="rgb(237,237,237)"/><rect x="501.13" y="143.43" width="2.42" height="1.46" fill="rgb(234,234,234)"/><rect x="501.13" y="144.84" width="2.42" height="1.46" fill="rgb(231,231,231)"/><rect x="501.13" y="146.25" width="2.42" height="1.46" fill="rgb(236,236,236)"/><rect x="501.13" y="147.66" width="2.42" height="1.46" fill="rgb(232,232,232)"/><rect x="501.13" y="149.08" width="2.42" height="1.46" fill="rgb(212,212,212)"/><rect x="501.13" y="150.49" width="2.42" height="1.46" fill="rgb(207,207,207)"/><rect x="501.13" y="151.90" width="2.42" height="1.46" fill="rgb(198,198,198)"/><rect x="501.13" y="153.31" width="2.42" height="1.46" fill="rgb(191,191,191)"/><rect x="501.13" y="154.72" width="2.42" height="1.46" fill="rgb(168,168,168)"/><rect x="501.13" y="156.14" width="2.42" height="1.46" fill="rgb(131,131,131)"/><rect x="501.13" y="157.55" width="2.42" height="1.46" fill="rgb(129,129,129)"/><rect x="501.13" y="158.96" width="2.42" height="1.46" fill="rgb(132,132,132)"/><rect x="501.13" y="160.37" width="2.42" height="1.46" fill="rgb(53,53,53)"/><rect x="501.13" y="161.78" width="2.42" height="1.46" fill="rgb(130,130,130)"/><rect x="501.13" y="163.20" width="2.42" height="1.46" fill="rgb(47,47,47)"/><rect x="501.13" y="164.61" width="2.42" height="1.46" fill="rgb(144,144,144)"/><rect x="501.13" y="166.02" width="2.42" height="1.46" fill="rgb(117,117,117)"/><rect x="501.13" y="167.43" width="2.42" height="1.46" fill="rgb(151,151,151)"/><rect x="501.13" y="168.84" width="2.42" height="1.46" fill="rgb(122,122,122)"/><rect x="501.13" y="170.26" width="2.42" height="1.46" fill="rgb(91,91,91)"/><rect x="501.13" y="171.67" width="2.42" height="1.46" fill="rgb(184,184,184)"/><rect x="501.13" y="173.08" width="2.42" height="1.46" fill="rgb(188,188,188)"/><rect x="501.13" y="174.49" width="2.42" height="1.46" fill="rgb(208,208,208)"/><rect x="501.13" y="175.90" width="2.42" height="1.46" fill="rgb(234,234,234)"/><rect x="501.13" y="177.32" width="2.42" height="1.46" fill="rgb(229,229,229)"/><rect x="501.13" y="178.73" width="2.42" height="1.46" fill="rgb(236,236,236)"/><rect x="501.13" y="180.14" width="2.42" height="1.46" fill="rgb(241,241,241)"/><rect x="501.13" y="181.55" width="2.42" height="1.46" fill="rgb(239,239,239)"/><rect x="501.13" y="182.96" width="2.42" height="1.46" fill="rgb(238,238,238)"/><rect x="501.13" y="184.38" width="2.42" height="1.46" fill="rgb(249,249,249)"/><rect x="501.13" y="185.79" width="2.42" height="1.46" fill="rgb(225,225,225)"/><rect x="503.50" y="127.90" width="2.42" height="1.46" fill="rgb(251,251,251)"/><rect x="503.50" y="129.31" width="2.42" height="1.46" fill="rgb(250,250,250)"/><rect x="503.50" y="130.72" width="2.42" height="1.46" fill="rgb(248,248,248)"/><rect x="503.50" y="132.13" width="2.42" height="1.46" fill="rgb(248,248,248)"/><rect x="503.50" y="133.54" width="2.42" height="1.46" fill="rgb(243,243,243)"/><rect x="503.50" y="134.96" width="2.42" height="1.46" fill="rgb(240,240,240)"/><rect x="503.50" y="136.37" width="2.42" height="1.46" fill="rgb(239,239,239)"/><rect x="503.50" y="137.78" width="2.42" height="1.46" fill="rgb(242,242,242)"/><rect x="503.50" y="139.19" width="2.42" height="1.46" fill="rgb(236,236,236)"/><rect x="503.50" y="140.60" width="2.42" height="1.46" fill="rgb(231,231,231)"/><rect x="503.50" y="142.02" width="2.42" height="1.46" fill="rgb(230,230,230)"/><rect x="503.50" y="143.43" width="2.42" height="1.46" fill="rgb(226,226,226)"/><rect x="503.50" y="144.84" width="2.42" height="1.46" fill="rgb(227,227,227)"/><rect x="503.50" y="146.25" width="2.42" height="1.46" fill="rgb(222,222,222)"/><rect x="503.50" y="147.66" width="2.42" height="1.46" fill="rgb(234,234,234)"/><rect x="503.50" y="149.08" width="2.42" height="1.46" fill="rgb(228,228,228)"/><rect x="503.50" y="150.49" width="2.42" height="1.46" fill="rgb(203,203,203)"/><rect x="503.50" y="151.90" width="2.42" height="1.46" fill="rgb(216,216,216)"/><rect x="503.50" y="153.31" width="2.42" height="1.46" fill="rgb(191,191,191)"/><rect x="503.50" y="154.72" width="2.42" height="1.46" fill="rgb(198,198,198)"/><rect x="503.50" y="156.14" width="2.42" height="1.46" fill="rgb(171,171,171)"/><rect x="503.50" y="157.55" width="2.42" height="1.46" fill="rgb(91,91,91)"/><rect x="503.50" y="158.96" width="2.42" height="1.46" fill="rgb(70,70,70)"/><rect x="503.50" y="160.37" width="2.42" height="1.46" fill="rgb(138,138,138)"/><rect x="503.50" y="161.78" width="2.42" height="1.46" fill="rgb(98,98,98)"/><rect x="503.50" y="163.20" width="2.42" height="1.46" fill="rgb(60,60,60)"/><rect x="503.50" y="164.61" width="2.42" height="1.46" fill="rgb(84,84,84)"/><rect x="503.50" y="166.02" width="2.42" height="1.46" fill="rgb(123,123,123)"/><rect x="503.50" y="167.43" width="2.42" height="1.46" fill="rgb(137,137,137)"/><rect x="503.50" y="168.84" width="2.42" height="1.46" fill="rgb(155,155,155)"/><rect x="503.50" y="170.26" width="2.42" height="1.46" fill="rgb(203,203,203)"/><rect x="503.50" y="171.67" width="2.42" height="1.46" fill="rgb(191,191,191)"/><rect x="503.50" y="173.08" width="2.42" height="1.46" fill="rgb(201,201,201)"/><rect x="503.50" y="174.49" width="2.42" height="1.46" fill="rgb(207,207,207)"/><rect x="503.50" y="175.90" width="2.42" height="1.46" fill="rgb(229,229,229)"/><rect x="503.50" y="177.32" width="2.42" height="1.46" fill="rgb(231,231,231)"/><rect x="503.50" y="178.73" width="2.42" height="1.46" fill="rgb(237,237,237)"/><rect x="503.50" y="180.14" width="2.42" height="1.46" fill="rgb(244,244,244)"/><rect x="503.50" y="181.55" width="2.42" height="1.46" fill="rgb(243,243,243)"/><rect x="503.50" y="182.96" width="2.42" height="1.46" fill="rgb(245,245,245)"/><rect x="503.50" y="184.38" width="2.42" height="1.46" fill="rgb(247,247,247)"/><rect x="503.50" y="185.79" width="2.42" height="1.46" fill="rgb(249,249,249)"/><rect x="505.87" y="127.90" width="2.42" height="1.46" fill="rgb(251,251,251)"/><rect x="505.87" y="129.31" width="2.42" height="1.46" fill="rgb(250,250,250)"/><rect x="505.87" y="130.72" width="2.42" height="1.46" fill="rgb(250,250,250)"/><rect x="505.87" y="132.13" width="2.42" height="1.46" fill="rgb(250,250,250)"/><rect x="505.87" y="133.54" width="2.42" height="1.46" fill="rgb(246,246,246)"/><rect x="505.87" y="134.96" width="2.42" height="1.46" fill="rgb(239,239,239)"/><rect x="505.87" y="136.37" width="2.42" height="1.46" fill="rgb(245,245,245)"/><rect x="505.87" y="137.78" width="2.42" height="1.46" fill="rgb(238,238,238)"/><rect x="505.87" y="139.19" width="2.42" height="1.46" fill="rgb(237,237,237)"/><rect x="505.87" y="140.60" width="2.42" height="1.46" fill="rgb(232,232,232)"/><rect x="505.87" y="142.02" width="2.42" height="1.46" fill="rgb(234,234,234)"/><rect x="505.87" y="143.43" width="2.42" height="1.46" fill="rgb(227,227,227)"/><rect x="505.87" y="144.84" width="2.42" height="1.46" fill="rgb(227,227,227)"/><rect x="505.87" y="146.25" width="2.42" height="1.46" fill="rgb(218,218,218)"/><rect x="505.87" y="147.66" width="2.42" height="1.46" fill="rgb(216,216,216)"/><rect x="505.87" y="149.08" width="2.42" height="1.46" fill="rgb(221,221,221)"/><rect x="505.87" y="150.49" width="2.42" height="1.46" fill="rgb(200,200,200)"/><rect x="505.87" y="151.90" width="2.42" height="1.46" fill="rgb(191,191,191)"/><rect x="505.87" y="153.31" width="2.42" height="1.46" fill="rgb(156,156,156)"/><rect x="505.87" y="154.72" width="2.42" height="1.46" fill="rgb(164,164,164)"/><rect x="505.87" y="156.14" width="2.42" height="1.46" fill="rgb(169,169,169)"/><rect x="505.87" y="157.55" width="2.42" height="1.46" fill="rgb(143,143,143)"/><rect x="505.87" y="158.96" width="2.42" height="1.46" fill="rgb(47,47,47)"/><rect x="505.87" y="160.37" width="2.42" height="1.46" fill="rgb(124,124,124)"/><rect x="505.87" y="161.78" width="2.42" height="1.46" fill="rgb(120,120,120)"/><rect x="505.87" y="163.20" width="2.42" height="1.46" fill="rgb(42,42,42)"/><rect x="505.87" y="164.61" width="2.42" height="1.46" fill="rgb(65,65,65)"/><rect x="505.87" y="166.02" width="2.42" height="1.46" fill="rgb(150,150,150)"/><rect x="505.87" y="167.43" width="2.42" height="1.46" fill="rgb(122,122,122)"/><rect x="505.87" y="168.84" width="2.42" height="1.46" fill="rgb(175,175,175)"/><rect x="505.87" y="170.26" width="2.42" height="1.46" fill="rgb(157,157,157)"/><rect x="505.87" y="171.67" width="2.42" height="1.46" fill="rgb(186,186,186)"/><rect x="505.87" y="173.08" width="2.42" height="1.46" fill="rgb(214,214,214)"/><rect x="505.87" y="174.49" width="2.42" height="1.46" fill="rgb(208,208,208)"/><rect x="505.87" y="175.90" width="2.42" height="1.46" fill="rgb(221,221,221)"/><rect x="505.87" y="177.32" width="2.42" height="1.46" fill="rgb(232,232,232)"/><rect x="505.87" y="178.73" width="2.42" height="1.46" fill="rgb(233,233,233)"/><rect x="505.87" y="180.14" width="2.42" height="1.46" fill="rgb(220,220,220)"/><rect x="505.87" y="181.55" width="2.42" height="1.46" fill="rgb(240,240,240)"/><rect x="505.87" y="182.96" width="2.42" height="1.46" fill="rgb(246,246,246)"/><rect x="505.87" y="184.38" width="2.42" height="1.46" fill="rgb(243,243,243)"/><rect x="505.87" y="185.79" width="2.42" height="1.46" fill="rgb(249,249,249)"/><rect x="508.23" y="132.13" width="2.42" height="1.46" fill="rgb(247,247,247)"/><rect x="508.23" y="133.54" width="2.42" height="1.46" fill="rgb(246,246,246)"/><rect x="508.23" y="134.96" width="2.42" height="1.46" fill="rgb(244,244,244)"/><rect x="508.23" y="136.37" width="2.42" height="1.46" fill="rgb(244,244,244)"/><rect x="508.23" y="137.78" width="2.42" height="1.46" fill="rgb(239,239,239)"/><rect x="508.23" y="139.19" width="2.42" height="1.46" fill="rgb(241,241,241)"/><rect x="508.23" y="140.60" width="2.42" height="1.46" fill="rgb(235,235,235)"/><rect x="508.23" y="142.02" width="2.42" height="1.46" fill="rgb(232,232,232)"/><rect x="508.23" y="143.43" width="2.42" height="1.46" fill="rgb(227,227,227)"/><rect x="508.23" y="144.84" width="2.42" height="1.46" fill="rgb(222,222,222)"/><rect x="508.23" y="146.25" width="2.42" height="1.46" fill="rgb(230,230,230)"/><rect x="508.23" y="147.66" width="2.42" height="1.46" fill="rgb(231,231,231)"/><rect x="508.23" y="149.08" width="2.42" height="1.46" fill="rgb(214,214,214)"/><rect x="508.23" y="150.49" width="2.42" height="1.46" fill="rgb(216,216,216)"/><rect x="508.23" y="151.90" width="2.42" height="1.46" fill="rgb(192,192,192)"/><rect x="508.23" y="153.31" width="2.42" height="1.46" fill="rgb(166,166,166)"/><rect x="508.23" y="154.72" width="2.42" height="1.46" fill="rgb(138,138,138)"/><rect x="508.23" y="156.14" width="2.42" height="1.46" fill="rgb(107,107,107)"/><rect x="508.23" y="157.55" width="2.42" height="1.46" fill="rgb(108,108,108)"/><rect x="508.23" y="158.96" width="2.42" height="1.46" fill="rgb(65,65,65)"/><rect x="508.23" y="160.37" width="2.42" height="1.46" fill="rgb(111,111,111)"/><rect x="508.23" y="161.78" width="2.42" height="1.46" fill="rgb(124,124,124)"/><rect x="508.23" y="163.20" width="2.42" height="1.46" fill="rgb(120,120,120)"/><rect x="508.23" y="164.61" width="2.42" height="1.46" fill="rgb(168,168,168)"/><rect x="508.23" y="166.02" width="2.42" height="1.46" fill="rgb(143,143,143)"/><rect x="508.23" y="167.43" width="2.42" height="1.46" fill="rgb(189,189,189)"/><rect x="508.23" y="168.84" width="2.42" height="1.46" fill="rgb(198,198,198)"/><rect x="508.23" y="170.26" width="2.42" height="1.46" fill="rgb(203,203,203)"/><rect x="508.23" y="171.67" width="2.42" height="1.46" fill="rgb(201,201,201)"/><rect x="508.23" y="173.08" width="2.42" height="1.46" fill="rgb(222,222,222)"/><rect x="508.23" y="174.49" width="2.42" height="1.46" fill="rgb(235,235,235)"/><rect x="508.23" y="175.90" width="2.42" height="1.46" fill="rgb(230,230,230)"/><rect x="508.23" y="177.32" width="2.42" height="1.46" fill="rgb(232,232,232)"/><rect x="508.23" y="178.73" width="2.42" height="1.46" fill="rgb(240,240,240)"/><rect x="508.23" y="180.14" width="2.42" height="1.46" fill="rgb(234,234,234)"/><rect x="508.23" y="181.55" width="2.42" height="1.46" fill="rgb(243,243,243)"/><rect x="508.23" y="182.96" width="2.42" height="1.46" fill="rgb(240,240,240)"/><rect x="508.23" y="184.38" width="2.42" height="1.46" fill="rgb(250,250,250)"/><rect x="508.23" y="185.79" width="2.42" height="1.46" fill="rgb(249,249,249)"/><rect x="510.60" y="129.31" width="2.42" height="1.46" fill="rgb(250,250,250)"/><rect x="510.60" y="130.72" width="2.42" height="1.46" fill="rgb(251,251,251)"/><rect x="510.60" y="132.13" width="2.42" height="1.46" fill="rgb(246,246,246)"/><rect x="510.60" y="133.54" width="2.42" height="1.46" fill="rgb(245,245,245)"/><rect x="510.60" y="134.96" width="2.42" height="1.46" fill="rgb(246,246,246)"/><rect x="510.60" y="136.37" width="2.42" height="1.46" fill="rgb(237,237,237)"/><rect x="510.60" y="137.78" width="2.42" height="1.46" fill="rgb(236,236,236)"/><rect x="510.60" y="139.19" width="2.42" height="1.46" fill="rgb(230,230,230)"/><rect x="510.60" y="140.60" width="2.42" height="1.46" fill="rgb(233,233,233)"/><rect x="510.60" y="142.02" width="2.42" height="1.46" fill="rgb(226,226,226)"/><rect x="510.60" y="143.43" width="2.42" height="1.46" fill="rgb(237,237,237)"/><rect x="510.60" y="144.84" width="2.42" height="1.46" fill="rgb(233,233,233)"/><rect x="510.60" y="146.25" width="2.42" height="1.46" fill="rgb(218,218,218)"/><rect x="510.60" y="147.66" width="2.42" height="1.46" fill="rgb(203,203,203)"/><rect x="510.60" y="149.08" width="2.42" height="1.46" fill="rgb(210,210,210)"/><rect x="510.60" y="150.49" width="2.42" height="1.46" fill="rgb(202,202,202)"/><rect x="510.60" y="151.90" width="2.42" height="1.46" fill="rgb(187,187,187)"/><rect x="510.60" y="153.31" width="2.42" height="1.46" fill="rgb(147,147,147)"/><rect x="510.60" y="154.72" width="2.42" height="1.46" fill="rgb(158,158,158)"/><rect x="510.60" y="156.14" width="2.42" height="1.46" fill="rgb(146,146,146)"/><rect x="510.60" y="157.55" width="2.42" height="1.46" fill="rgb(57,57,57)"/><rect x="510.60" y="158.96" width="2.42" height="1.46" fill="rgb(97,97,97)"/><rect x="510.60" y="160.37" width="2.42" height="1.46" fill="rgb(109,109,109)"/><rect x="510.60" y="161.78" width="2.42" height="1.46" fill="rgb(76,76,76)"/><rect x="510.60" y="163.20" width="2.42" height="1.46" fill="rgb(87,87,87)"/><rect x="510.60" y="164.61" width="2.42" height="1.46" fill="rgb(151,151,151)"/><rect x="510.60" y="166.02" width="2.42" height="1.46" fill="rgb(152,152,152)"/><rect x="510.60" y="167.43" width="2.42" height="1.46" fill="rgb(166,166,166)"/><rect x="510.60" y="168.84" width="2.42" height="1.46" fill="rgb(163,163,163)"/><rect x="510.60" y="170.26" width="2.42" height="1.46" fill="rgb(179,179,179)"/><rect x="510.60" y="171.67" width="2.42" height="1.46" fill="rgb(212,212,212)"/><rect x="510.60" y="173.08" width="2.42" height="1.46" fill="rgb(211,211,211)"/><rect x="510.60" y="174.49" width="2.42" height="1.46" fill="rgb(220,220,220)"/><rect x="510.60" y="175.90" width="2.42" height="1.46" fill="rgb(225,225,225)"/><rect x="510.60" y="177.32" width="2.42" height="1.46" fill="rgb(234,234,234)"/><rect x="510.60" y="178.73" width="2.42" height="1.46" fill="rgb(240,240,240)"/><rect x="510.60" y="180.14" width="2.42" height="1.46" fill="rgb(228,228,228)"/><rect x="510.60" y="181.55" width="2.42" height="1.46" fill="rgb(239,239,239)"/><rect x="510.60" y="182.96" width="2.42" height="1.46" fill="rgb(245,245,245)"/><rect x="510.60" y="184.38" width="2.42" height="1.46" fill="rgb(236,236,236)"/><rect x="510.60" y="185.79" width="2.42" height="1.46" fill="rgb(249,249,249)"/><rect x="512.97" y="129.31" width="2.42" height="1.46" fill="rgb(251,251,251)"/><rect x="512.97" y="130.72" width="2.42" height="1.46" fill="rgb(251,251,251)"/><rect x="512.97" y="132.13" width="2.42" height="1.46" fill="rgb(249,249,249)"/><rect x="512.97" y="133.54" width="2.42" height="1.46" fill="rgb(247,247,247)"/><rect x="512.97" y="134.96" width="2.42" height="1.46" fill="rgb(246,246,246)"/><rect x="512.97" y="136.37" width="2.42" height="1.46" fill="rgb(230,230,230)"/><rect x="512.97" y="137.78" width="2.42" height="1.46" fill="rgb(236,236,236)"/><rect x="512.97" y="139.19" width="2.42" height="1.46" fill="rgb(242,242,242)"/><rect x="512.97" y="140.60" width="2.42" height="1.46" fill="rgb(228,228,228)"/><rect x="512.97" y="142.02" width="2.42" height="1.46" fill="rgb(237,237,237)"/><rect x="512.97" y="143.43" width="2.42" height="1.46" fill="rgb(222,222,222)"/><rect x="512.97" y="144.84" width="2.42" height="1.46" fill="rgb(234,234,234)"/><rect x="512.97" y="146.25" width="2.42" height="1.46" fill="rgb(228,228,228)"/><rect x="512.97" y="147.66" width="2.42" height="1.46" fill="rgb(210,210,210)"/><rect x="512.97" y="149.08" width="2.42" height="1.46" fill="rgb(209,209,209)"/><rect x="512.97" y="150.49" width="2.42" height="1.46" fill="rgb(200,200,200)"/><rect x="512.97" y="151.90" width="2.42" height="1.46" fill="rgb(194,194,194)"/><rect x="512.97" y="153.31" width="2.42" height="1.46" fill="rgb(181,181,181)"/><rect x="512.97" y="154.72" width="2.42" height="1.46" fill="rgb(152,152,152)"/><rect x="512.97" y="156.14" width="2.42" height="1.46" fill="rgb(130,130,130)"/><rect x="512.97" y="157.55" width="2.42" height="1.46" fill="rgb(96,96,96)"/><rect x="512.97" y="158.96" width="2.42" height="1.46" fill="rgb(92,92,92)"/><rect x="512.97" y="160.37" width="2.42" height="1.46" fill="rgb(58,58,58)"/><rect x="512.97" y="161.78" width="2.42" height="1.46" fill="rgb(61,61,61)"/><rect x="512.97" y="163.20" width="2.42" height="1.46" fill="rgb(99,99,99)"/><rect x="512.97" y="164.61" width="2.42" height="1.46" fill="rgb(133,133,133)"/><rect x="512.97" y="166.02" width="2.42" height="1.46" fill="rgb(155,155,155)"/><rect x="512.97" y="167.43" width="2.42" height="1.46" fill="rgb(169,169,169)"/><rect x="512.97" y="168.84" width="2.42" height="1.46" fill="rgb(166,166,166)"/><rect x="512.97" y="170.26" width="2.42" height="1.46" fill="rgb(183,183,183)"/><rect x="512.97" y="171.67" width="2.42" height="1.46" fill="rgb(214,214,214)"/><rect x="512.97" y="173.08" width="2.42" height="1.46" fill="rgb(232,232,232)"/><rect x="512.97" y="174.49" width="2.42" height="1.46" fill="rgb(225,225,225)"/><rect x="512.97" y="175.90" width="2.42" height="1.46" fill="rgb(235,235,235)"/><rect x="512.97" y="177.32" width="2.42" height="1.46" fill="rgb(235,235,235)"/><rect x="512.97" y="178.73" width="2.42" height="1.46" fill="rgb(239,239,239)"/><rect x="512.97" y="180.14" width="2.42" height="1.46" fill="rgb(242,242,242)"/><rect x="512.97" y="181.55" width="2.42" height="1.46" fill="rgb(243,243,243)"/><rect x="512.97" y="182.96" width="2.42" height="1.46" fill="rgb(246,246,246)"/><rect x="512.97" y="184.38" width="2.42" height="1.46" fill="rgb(251,251,251)"/><rect x="512.97" y="185.79" width="2.42" height="1.46" fill="rgb(249,249,249)"/><rect x="515.33" y="129.31" width="2.42" height="1.46" fill="rgb(251,251,251)"/><rect x="515.33" y="130.72" width="2.42" height="1.46" fill="rgb(251,251,251)"/><rect x="515.33" y="132.13" width="2.42" height="1.46" fill="rgb(250,250,250)"/><rect x="515.33" y="133.54" width="2.42" height="1.46" fill="rgb(235,235,235)"/><rect x="515.33" y="134.96" width="2.42" height="1.46" fill="rgb(245,245,245)"/><rect x="515.33" y="136.37" width="2.42" height="1.46" fill="rgb(245,245,245)"/><rect x="515.33" y="137.78" width="2.42" height="1.46" fill="rgb(236,236,236)"/><rect x="515.33" y="139.19" width="2.42" height="1.46" fill="rgb(236,236,236)"/><rect x="515.33" y="140.60" width="2.42" height="1.46" fill="rgb(240,240,240)"/><rect x="515.33" y="142.02" width="2.42" height="1.46" fill="rgb(235,235,235)"/><rect x="515.33" y="143.43" width="2.42" height="1.46" fill="rgb(233,233,233)"/><rect x="515.33" y="144.84" width="2.42" height="1.46" fill="rgb(224,224,224)"/><rect x="515.33" y="146.25" width="2.42" height="1.46" fill="rgb(222,222,222)"/><rect x="515.33" y="147.66" width="2.42" height="1.46" fill="rgb(205,205,205)"/><rect x="515.33" y="149.08" width="2.42" height="1.46" fill="rgb(206,206,206)"/><rect x="515.33" y="150.49" width="2.42" height="1.46" fill="rgb(189,189,189)"/><rect x="515.33" y="151.90" width="2.42" height="1.46" fill="rgb(163,163,163)"/><rect x="515.33" y="153.31" width="2.42" height="1.46" fill="rgb(181,181,181)"/><rect x="515.33" y="154.72" width="2.42" height="1.46" fill="rgb(182,182,182)"/><rect x="515.33" y="156.14" width="2.42" height="1.46" fill="rgb(149,149,149)"/><rect x="515.33" y="157.55" width="2.42" height="1.46" fill="rgb(154,154,154)"/><rect x="515.33" y="158.96" width="2.42" height="1.46" fill="rgb(144,144,144)"/><rect x="515.33" y="160.37" width="2.42" height="1.46" fill="rgb(134,134,134)"/><rect x="515.33" y="161.78" width="2.42" height="1.46" fill="rgb(127,127,127)"/><rect x="515.33" y="163.20" width="2.42" height="1.46" fill="rgb(103,103,103)"/><rect x="515.33" y="164.61" width="2.42" height="1.46" fill="rgb(164,164,164)"/><rect x="515.33" y="166.02" width="2.42" height="1.46" fill="rgb(145,145,145)"/><rect x="515.33" y="167.43" width="2.42" height="1.46" fill="rgb(189,189,189)"/><rect x="515.33" y="168.84" width="2.42" height="1.46" fill="rgb(186,186,186)"/><rect x="515.33" y="170.26" width="2.42" height="1.46" fill="rgb(211,211,211)"/><rect x="515.33" y="171.67" width="2.42" height="1.46" fill="rgb(213,213,213)"/><rect x="515.33" y="173.08" width="2.42" height="1.46" fill="rgb(226,226,226)"/><rect x="515.33" y="174.49" width="2.42" height="1.46" fill="rgb(239,239,239)"/><rect x="515.33" y="175.90" width="2.42" height="1.46" fill="rgb(237,237,237)"/><rect x="515.33" y="177.32" width="2.42" height="1.46" fill="rgb(237,237,237)"/><rect x="515.33" y="178.73" width="2.42" height="1.46" fill="rgb(222,222,222)"/><rect x="515.33" y="180.14" width="2.42" height="1.46" fill="rgb(233,233,233)"/><rect x="515.33" y="181.55" width="2.42" height="1.46" fill="rgb(247,247,247)"/><rect x="515.33" y="182.96" width="2.42" height="1.46" fill="rgb(250,250,250)"/><rect x="515.33" y="184.38" width="2.42" height="1.46" fill="rgb(249,249,249)"/><rect x="515.33" y="185.79" width="2.42" height="1.46" fill="rgb(250,250,250)"/><rect x="517.70" y="129.31" width="2.42" height="1.46" fill="rgb(251,251,251)"/><rect x="517.70" y="130.72" width="2.42" height="1.46" fill="rgb(250,250,250)"/><rect x="517.70" y="132.13" width="2.42" height="1.46" fill="rgb(248,248,248)"/><rect x="517.70" y="133.54" width="2.42" height="1.46" fill="rgb(246,246,246)"/><rect x="517.70" y="134.96" width="2.42" height="1.46" fill="rgb(248,248,248)"/><rect x="517.70" y="136.37" width="2.42" height="1.46" fill="rgb(242,242,242)"/><rect x="517.70" y="137.78" width="2.42" height="1.46" fill="rgb(244,244,244)"/><rect x="517.70" y="139.19" width="2.42" height="1.46" fill="rgb(242,242,242)"/><rect x="517.70" y="140.60" width="2.42" height="1.46" fill="rgb(238,238,238)"/><rect x="517.70" y="142.02" width="2.42" height="1.46" fill="rgb(231,231,231)"/><rect x="517.70" y="143.43" width="2.42" height="1.46" fill="rgb(227,227,227)"/><rect x="517.70" y="144.84" width="2.42" height="1.46" fill="rgb(222,222,222)"/><rect x="517.70" y="146.25" width="2.42" height="1.46" fill="rgb(208,208,208)"/><rect x="517.70" y="147.66" width="2.42" height="1.46" fill="rgb(209,209,209)"/><rect x="517.70" y="149.08" width="2.42" height="1.46" fill="rgb(203,203,203)"/><rect x="517.70" y="150.49" width="2.42" height="1.46" fill="rgb(165,165,165)"/><rect x="517.70" y="151.90" width="2.42" height="1.46" fill="rgb(151,151,151)"/><rect x="517.70" y="153.31" width="2.42" height="1.46" fill="rgb(144,144,144)"/><rect x="517.70" y="154.72" width="2.42" height="1.46" fill="rgb(130,130,130)"/><rect x="517.70" y="156.14" width="2.42" height="1.46" fill="rgb(153,153,153)"/><rect x="517.70" y="157.55" width="2.42" height="1.46" fill="rgb(89,89,89)"/><rect x="517.70" y="158.96" width="2.42" height="1.46" fill="rgb(88,88,88)"/><rect x="517.70" y="160.37" width="2.42" height="1.46" fill="rgb(107,107,107)"/><rect x="517.70" y="161.78" width="2.42" height="1.46" fill="rgb(70,70,70)"/><rect x="517.70" y="163.20" width="2.42" height="1.46" fill="rgb(164,164,164)"/><rect x="517.70" y="164.61" width="2.42" height="1.46" fill="rgb(178,178,178)"/><rect x="517.70" y="166.02" width="2.42" height="1.46" fill="rgb(184,184,184)"/><rect x="517.70" y="167.43" width="2.42" height="1.46" fill="rgb(196,196,196)"/><rect x="517.70" y="168.84" width="2.42" height="1.46" fill="rgb(213,213,213)"/><rect x="517.70" y="170.26" width="2.42" height="1.46" fill="rgb(203,203,203)"/><rect x="517.70" y="171.67" width="2.42" height="1.46" fill="rgb(230,230,230)"/><rect x="517.70" y="173.08" width="2.42" height="1.46" fill="rgb(230,230,230)"/><rect x="517.70" y="174.49" width="2.42" height="1.46" fill="rgb(240,240,240)"/><rect x="517.70" y="175.90" width="2.42" height="1.46" fill="rgb(243,243,243)"/><rect x="517.70" y="177.32" width="2.42" height="1.46" fill="rgb(245,245,245)"/><rect x="517.70" y="178.73" width="2.42" height="1.46" fill="rgb(241,241,241)"/><rect x="517.70" y="180.14" width="2.42" height="1.46" fill="rgb(245,245,245)"/><rect x="517.70" y="181.55" width="2.42" height="1.46" fill="rgb(247,247,247)"/><rect x="517.70" y="182.96" width="2.42" height="1.46" fill="rgb(251,251,251)"/><rect x="517.70" y="184.38" width="2.42" height="1.46" fill="rgb(249,249,249)"/><rect x="520.07" y="130.72" width="2.42" height="1.46" fill="rgb(251,251,251)"/><rect x="520.07" y="132.13" width="2.42" height="1.46" fill="rgb(249,249,249)"/><rect x="520.07" y="133.54" width="2.42" height="1.46" fill="rgb(249,249,249)"/><rect x="520.07" y="134.96" width="2.42" height="1.46" fill="rgb(245,245,245)"/><rect x="520.07" y="136.37" width="2.42" height="1.46" fill="rgb(245,245,245)"/><rect x="520.07" y="137.78" width="2.42" height="1.46" fill="rgb(245,245,245)"/><rect x="520.07" y="139.19" width="2.42" height="1.46" fill="rgb(222,222,222)"/><rect x="520.07" y="140.60" width="2.42" height="1.46" fill="rgb(242,242,242)"/><rect x="520.07" y="142.02" width="2.42" height="1.46" fill="rgb(237,237,237)"/><rect x="520.07" y="143.43" width="2.42" height="1.46" fill="rgb(238,238,238)"/><rect x="520.07" y="144.84" width="2.42" height="1.46" fill="rgb(228,228,228)"/><rect x="520.07" y="146.25" width="2.42" height="1.46" fill="rgb(224,224,224)"/><rect x="520.07" y="147.66" width="2.42" height="1.46" fill="rgb(211,211,211)"/><rect x="520.07" y="149.08" width="2.42" height="1.46" fill="rgb(204,204,204)"/><rect x="520.07" y="150.49" width="2.42" height="1.46" fill="rgb(189,189,189)"/><rect x="520.07" y="151.90" width="2.42" height="1.46" fill="rgb(172,172,172)"/><rect x="520.07" y="153.31" width="2.42" height="1.46" fill="rgb(145,145,145)"/><rect x="520.07" y="154.72" width="2.42" height="1.46" fill="rgb(169,169,169)"/><rect x="520.07" y="156.14" width="2.42" height="1.46" fill="rgb(140,140,140)"/><rect x="520.07" y="157.55" width="2.42" height="1.46" fill="rgb(131,131,131)"/><rect x="520.07" y="158.96" width="2.42" height="1.46" fill="rgb(82,82,82)"/><rect x="520.07" y="160.37" width="2.42" height="1.46" fill="rgb(145,145,145)"/><rect x="520.07" y="161.78" width="2.42" height="1.46" fill="rgb(161,161,161)"/><rect x="520.07" y="163.20" width="2.42" height="1.46" fill="rgb(136,136,136)"/><rect x="520.07" y="164.61" width="2.42" height="1.46" fill="rgb(198,198,198)"/><rect x="520.07" y="166.02" width="2.42" height="1.46" fill="rgb(192,192,192)"/><rect x="520.07" y="167.43" width="2.42" height="1.46" fill="rgb(200,200,200)"/><rect x="520.07" y="168.84" width="2.42" height="1.46" fill="rgb(202,202,202)"/><rect x="520.07" y="170.26" width="2.42" height="1.46" fill="rgb(219,219,219)"/><rect x="520.07" y="171.67" width="2.42" height="1.46" fill="rgb(236,236,236)"/><rect x="520.07" y="173.08" width="2.42" height="1.46" fill="rgb(231,231,231)"/><rect x="520.07" y="174.49" width="2.42" height="1.46" fill="rgb(240,240,240)"/><rect x="520.07" y="175.90" width="2.42" height="1.46" fill="rgb(241,241,241)"/><rect x="520.07" y="177.32" width="2.42" height="1.46" fill="rgb(221,221,221)"/><rect x="520.07" y="178.73" width="2.42" height="1.46" fill="rgb(248,248,248)"/><rect x="520.07" y="180.14" width="2.42" height="1.46" fill="rgb(227,227,227)"/><rect x="520.07" y="181.55" width="2.42" height="1.46" fill="rgb(248,248,248)"/><rect x="520.07" y="182.96" width="2.42" height="1.46" fill="rgb(250,250,250)"/><rect x="522.43" y="130.72" width="2.42" height="1.46" fill="rgb(250,250,250)"/><rect x="522.43" y="132.13" width="2.42" height="1.46" fill="rgb(249,249,249)"/><rect x="522.43" y="133.54" width="2.42" height="1.46" fill="rgb(247,247,247)"/><rect x="522.43" y="134.96" width="2.42" height="1.46" fill="rgb(241,241,241)"/><rect x="522.43" y="136.37" width="2.42" height="1.46" fill="rgb(248,248,248)"/><rect x="522.43" y="137.78" width="2.42" height="1.46" fill="rgb(241,241,241)"/><rect x="522.43" y="139.19" width="2.42" height="1.46" fill="rgb(234,234,234)"/><rect x="522.43" y="140.60" width="2.42" height="1.46" fill="rgb(234,234,234)"/><rect x="522.43" y="142.02" width="2.42" height="1.46" fill="rgb(232,232,232)"/><rect x="522.43" y="143.43" width="2.42" height="1.46" fill="rgb(221,221,221)"/><rect x="522.43" y="144.84" width="2.42" height="1.46" fill="rgb(227,227,227)"/><rect x="522.43" y="146.25" width="2.42" height="1.46" fill="rgb(208,208,208)"/><rect x="522.43" y="147.66" width="2.42" height="1.46" fill="rgb(200,200,200)"/><rect x="522.43" y="149.08" width="2.42" height="1.46" fill="rgb(198,198,198)"/><rect x="522.43" y="150.49" width="2.42" height="1.46" fill="rgb(184,184,184)"/><rect x="522.43" y="151.90" width="2.42" height="1.46" fill="rgb(187,187,187)"/><rect x="522.43" y="153.31" width="2.42" height="1.46" fill="rgb(176,176,176)"/><rect x="522.43" y="154.72" width="2.42" height="1.46" fill="rgb(125,125,125)"/><rect x="522.43" y="156.14" width="2.42" height="1.46" fill="rgb(109,109,109)"/><rect x="522.43" y="157.55" width="2.42" height="1.46" fill="rgb(83,83,83)"/><rect x="522.43" y="158.96" width="2.42" height="1.46" fill="rgb(122,122,122)"/><rect x="522.43" y="160.37" width="2.42" height="1.46" fill="rgb(103,103,103)"/><rect x="522.43" y="161.78" width="2.42" height="1.46" fill="rgb(136,136,136)"/><rect x="522.43" y="163.20" width="2.42" height="1.46" fill="rgb(146,146,146)"/><rect x="522.43" y="164.61" width="2.42" height="1.46" fill="rgb(169,169,169)"/><rect x="522.43" y="166.02" width="2.42" height="1.46" fill="rgb(207,207,207)"/><rect x="522.43" y="167.43" width="2.42" height="1.46" fill="rgb(186,186,186)"/><rect x="522.43" y="168.84" width="2.42" height="1.46" fill="rgb(227,227,227)"/><rect x="522.43" y="170.26" width="2.42" height="1.46" fill="rgb(214,214,214)"/><rect x="522.43" y="171.67" width="2.42" height="1.46" fill="rgb(227,227,227)"/><rect x="522.43" y="173.08" width="2.42" height="1.46" fill="rgb(239,239,239)"/><rect x="522.43" y="174.49" width="2.42" height="1.46" fill="rgb(240,240,240)"/><rect x="522.43" y="175.90" width="2.42" height="1.46" fill="rgb(219,219,219)"/><rect x="522.43" y="177.32" width="2.42" height="1.46" fill="rgb(227,227,227)"/><rect x="522.43" y="178.73" width="2.42" height="1.46" fill="rgb(226,226,226)"/><rect x="522.43" y="180.14" width="2.42" height="1.46" fill="rgb(247,247,247)"/><rect x="522.43" y="181.55" width="2.42" height="1.46" fill="rgb(248,248,248)"/><rect x="522.43" y="182.96" width="2.42" height="1.46" fill="rgb(251,251,251)"/><rect x="522.43" y="184.38" width="2.42" height="1.46" fill="rgb(243,243,243)"/><rect x="524.80" y="130.72" width="2.42" height="1.46" fill="rgb(250,250,250)"/><rect x="524.80" y="132.13" width="2.42" height="1.46" fill="rgb(250,250,250)"/><rect x="524.80" y="133.54" width="2.42" height="1.46" fill="rgb(249,249,249)"/><rect x="524.80" y="134.96" width="2.42" height="1.46" fill="rgb(228,228,228)"/><rect x="524.80" y="136.37" width="2.42" height="1.46" fill="rgb(237,237,237)"/><rect x="524.80" y="137.78" width="2.42" height="1.46" fill="rgb(238,238,238)"/><rect x="524.80" y="139.19" width="2.42" height="1.46" fill="rgb(242,242,242)"/><rect x="524.80" y="140.60" width="2.42" height="1.46" fill="rgb(241,241,241)"/><rect x="524.80" y="142.02" width="2.42" height="1.46" fill="rgb(240,240,240)"/><rect x="524.80" y="143.43" width="2.42" height="1.46" fill="rgb(222,222,222)"/><rect x="524.80" y="144.84" width="2.42" height="1.46" fill="rgb(232,232,232)"/><rect x="524.80" y="146.25" width="2.42" height="1.46" fill="rgb(211,211,211)"/><rect x="524.80" y="147.66" width="2.42" height="1.46" fill="rgb(224,224,224)"/><rect x="524.80" y="149.08" width="2.42" height="1.46" fill="rgb(214,214,214)"/><rect x="524.80" y="150.49" width="2.42" height="1.46" fill="rgb(207,207,207)"/><rect x="524.80" y="151.90" width="2.42" height="1.46" fill="rgb(194,194,194)"/><rect x="524.80" y="153.31" width="2.42" height="1.46" fill="rgb(133,133,133)"/><rect x="524.80" y="154.72" width="2.42" height="1.46" fill="rgb(151,151,151)"/><rect x="524.80" y="156.14" width="2.42" height="1.46" fill="rgb(127,127,127)"/><rect x="524.80" y="157.55" width="2.42" height="1.46" fill="rgb(125,125,125)"/><rect x="524.80" y="158.96" width="2.42" height="1.46" fill="rgb(102,102,102)"/><rect x="524.80" y="160.37" width="2.42" height="1.46" fill="rgb(176,176,176)"/><rect x="524.80" y="161.78" width="2.42" height="1.46" fill="rgb(96,96,96)"/><rect x="524.80" y="163.20" width="2.42" height="1.46" fill="rgb(136,136,136)"/><rect x="524.80" y="164.61" width="2.42" height="1.46" fill="rgb(178,178,178)"/><rect x="524.80" y="166.02" width="2.42" height="1.46" fill="rgb(199,199,199)"/><rect x="524.80" y="167.43" width="2.42" height="1.46" fill="rgb(220,220,220)"/><rect x="524.80" y="168.84" width="2.42" height="1.46" fill="rgb(214,214,214)"/><rect x="524.80" y="170.26" width="2.42" height="1.46" fill="rgb(234,234,234)"/><rect x="524.80" y="171.67" width="2.42" height="1.46" fill="rgb(236,236,236)"/><rect x="524.80" y="173.08" width="2.42" height="1.46" fill="rgb(224,224,224)"/><rect x="524.80" y="174.49" width="2.42" height="1.46" fill="rgb(238,238,238)"/><rect x="524.80" y="175.90" width="2.42" height="1.46" fill="rgb(245,245,245)"/><rect x="524.80" y="177.32" width="2.42" height="1.46" fill="rgb(248,248,248)"/><rect x="524.80" y="178.73" width="2.42" height="1.46" fill="rgb(250,250,250)"/><rect x="524.80" y="180.14" width="2.42" height="1.46" fill="rgb(248,248,248)"/><rect x="524.80" y="181.55" width="2.42" height="1.46" fill="rgb(251,251,251)"/><rect x="524.80" y="182.96" width="2.42" height="1.46" fill="rgb(250,250,250)"/><rect x="527.17" y="129.31" width="2.42" height="1.46" fill="rgb(251,251,251)"/><rect x="527.17" y="130.72" width="2.42" height="1.46" fill="rgb(251,251,251)"/><rect x="527.17" y="132.13" width="2.42" height="1.46" fill="rgb(249,249,249)"/><rect x="527.17" y="133.54" width="2.42" height="1.46" fill="rgb(248,248,248)"/><rect x="527.17" y="134.96" width="2.42" height="1.46" fill="rgb(243,243,243)"/><rect x="527.17" y="136.37" width="2.42" height="1.46" fill="rgb(243,243,243)"/><rect x="527.17" y="137.78" width="2.42" height="1.46" fill="rgb(232,232,232)"/><rect x="527.17" y="139.19" width="2.42" height="1.46" fill="rgb(236,236,236)"/><rect x="527.17" y="140.60" width="2.42" height="1.46" fill="rgb(230,230,230)"/><rect x="527.17" y="142.02" width="2.42" height="1.46" fill="rgb(233,233,233)"/><rect x="527.17" y="143.43" width="2.42" height="1.46" fill="rgb(217,217,217)"/><rect x="527.17" y="144.84" width="2.42" height="1.46" fill="rgb(213,213,213)"/><rect x="527.17" y="146.25" width="2.42" height="1.46" fill="rgb(222,222,222)"/><rect x="527.17" y="147.66" width="2.42" height="1.46" fill="rgb(182,182,182)"/><rect x="527.17" y="149.08" width="2.42" height="1.46" fill="rgb(172,172,172)"/><rect x="527.17" y="150.49" width="2.42" height="1.46" fill="rgb(170,170,170)"/><rect x="527.17" y="151.90" width="2.42" height="1.46" fill="rgb(153,153,153)"/><rect x="527.17" y="153.31" width="2.42" height="1.46" fill="rgb(100,100,100)"/><rect x="527.17" y="154.72" width="2.42" height="1.46" fill="rgb(153,153,153)"/><rect x="527.17" y="156.14" width="2.42" height="1.46" fill="rgb(58,58,58)"/><rect x="527.17" y="157.55" width="2.42" height="1.46" fill="rgb(95,95,95)"/><rect x="527.17" y="158.96" width="2.42" height="1.46" fill="rgb(86,86,86)"/><rect x="527.17" y="160.37" width="2.42" height="1.46" fill="rgb(86,86,86)"/><rect x="527.17" y="161.78" width="2.42" height="1.46" fill="rgb(170,170,170)"/><rect x="527.17" y="163.20" width="2.42" height="1.46" fill="rgb(152,152,152)"/><rect x="527.17" y="164.61" width="2.42" height="1.46" fill="rgb(175,175,175)"/><rect x="527.17" y="166.02" width="2.42" height="1.46" fill="rgb(196,196,196)"/><rect x="527.17" y="167.43" width="2.42" height="1.46" fill="rgb(201,201,201)"/><rect x="527.17" y="168.84" width="2.42" height="1.46" fill="rgb(209,209,209)"/><rect x="527.17" y="170.26" width="2.42" height="1.46" fill="rgb(233,233,233)"/><rect x="527.17" y="171.67" width="2.42" height="1.46" fill="rgb(230,230,230)"/><rect x="527.17" y="173.08" width="2.42" height="1.46" fill="rgb(238,238,238)"/><rect x="527.17" y="174.49" width="2.42" height="1.46" fill="rgb(240,240,240)"/><rect x="527.17" y="175.90" width="2.42" height="1.46" fill="rgb(246,246,246)"/><rect x="527.17" y="177.32" width="2.42" height="1.46" fill="rgb(227,227,227)"/><rect x="527.17" y="178.73" width="2.42" height="1.46" fill="rgb(245,245,245)"/><rect x="527.17" y="180.14" width="2.42" height="1.46" fill="rgb(243,243,243)"/><rect x="527.17" y="182.96" width="2.42" height="1.46" fill="rgb(250,250,250)"/><rect x="529.53" y="127.90" width="2.42" height="1.46" fill="rgb(234,234,234)"/><rect x="529.53" y="129.31" width="2.42" height="1.46" fill="rgb(233,233,233)"/><rect x="529.53" y="130.72" width="2.42" height="1.46" fill="rgb(249,249,249)"/><rect x="529.53" y="132.13" width="2.42" height="1.46" fill="rgb(228,228,228)"/><rect x="529.53" y="133.54" width="2.42" height="1.46" fill="rgb(246,246,246)"/><rect x="529.53" y="134.96" width="2.42" height="1.46" fill="rgb(245,245,245)"/><rect x="529.53" y="136.37" width="2.42" height="1.46" fill="rgb(237,237,237)"/><rect x="529.53" y="137.78" width="2.42" height="1.46" fill="rgb(239,239,239)"/><rect x="529.53" y="139.19" width="2.42" height="1.46" fill="rgb(239,239,239)"/><rect x="529.53" y="140.60" width="2.42" height="1.46" fill="rgb(233,233,233)"/><rect x="529.53" y="142.02" width="2.42" height="1.46" fill="rgb(214,214,214)"/><rect x="529.53" y="143.43" width="2.42" height="1.46" fill="rgb(198,198,198)"/><rect x="529.53" y="144.84" width="2.42" height="1.46" fill="rgb(213,213,213)"/><rect x="529.53" y="146.25" width="2.42" height="1.46" fill="rgb(177,177,177)"/><rect x="529.53" y="147.66" width="2.42" height="1.46" fill="rgb(187,187,187)"/><rect x="529.53" y="149.08" width="2.42" height="1.46" fill="rgb(119,119,119)"/><rect x="529.53" y="150.49" width="2.42" height="1.46" fill="rgb(100,100,100)"/><rect x="529.53" y="151.90" width="2.42" height="1.46" fill="rgb(122,122,122)"/><rect x="529.53" y="153.31" width="2.42" height="1.46" fill="rgb(91,91,91)"/><rect x="529.53" y="154.72" width="2.42" height="1.46" fill="rgb(157,157,157)"/><rect x="529.53" y="156.14" width="2.42" height="1.46" fill="rgb(98,98,98)"/><rect x="529.53" y="157.55" width="2.42" height="1.46" fill="rgb(139,139,139)"/><rect x="529.53" y="158.96" width="2.42" height="1.46" fill="rgb(172,172,172)"/><rect x="529.53" y="160.37" width="2.42" height="1.46" fill="rgb(165,165,165)"/><rect x="529.53" y="161.78" width="2.42" height="1.46" fill="rgb(169,169,169)"/><rect x="529.53" y="163.20" width="2.42" height="1.46" fill="rgb(183,183,183)"/><rect x="529.53" y="164.61" width="2.42" height="1.46" fill="rgb(210,210,210)"/><rect x="529.53" y="166.02" width="2.42" height="1.46" fill="rgb(221,221,221)"/><rect x="529.53" y="167.43" width="2.42" height="1.46" fill="rgb(235,235,235)"/><rect x="529.53" y="168.84" width="2.42" height="1.46" fill="rgb(236,236,236)"/><rect x="529.53" y="170.26" width="2.42" height="1.46" fill="rgb(240,240,240)"/><rect x="529.53" y="171.67" width="2.42" height="1.46" fill="rgb(241,241,241)"/><rect x="529.53" y="173.08" width="2.42" height="1.46" fill="rgb(241,241,241)"/><rect x="529.53" y="174.49" width="2.42" height="1.46" fill="rgb(224,224,224)"/><rect x="529.53" y="175.90" width="2.42" height="1.46" fill="rgb(250,250,250)"/><rect x="529.53" y="177.32" width="2.42" height="1.46" fill="rgb(239,239,239)"/><rect x="529.53" y="178.73" width="2.42" height="1.46" fill="rgb(250,250,250)"/><rect x="529.53" y="180.14" width="2.42" height="1.46" fill="rgb(251,251,251)"/><rect x="531.90" y="122.25" width="2.42" height="1.46" fill="rgb(251,251,251)"/><rect x="531.90" y="123.66" width="2.42" height="1.46" fill="rgb(250,250,250)"/><rect x="531.90" y="125.07" width="2.42" height="1.46" fill="rgb(249,249,249)"/><rect x="531.90" y="126.48" width="2.42" height="1.46" fill="rgb(231,231,231)"/><rect x="531.90" y="127.90" width="2.42" height="1.46" fill="rgb(247,247,247)"/><rect x="531.90" y="129.31" width="2.42" height="1.46" fill="rgb(248,248,248)"/><rect x="531.90" y="130.72" width="2.42" height="1.46" fill="rgb(244,244,244)"/><rect x="531.90" y="132.13" width="2.42" height="1.46" fill="rgb(243,243,243)"/><rect x="531.90" y="133.54" width="2.42" height="1.46" fill="rgb(236,236,236)"/><rect x="531.90" y="134.96" width="2.42" height="1.46" fill="rgb(227,227,227)"/><rect x="531.90" y="136.37" width="2.42" height="1.46" fill="rgb(215,215,215)"/><rect x="531.90" y="137.78" width="2.42" height="1.46" fill="rgb(203,203,203)"/><rect x="531.90" y="139.19" width="2.42" height="1.46" fill="rgb(217,217,217)"/><rect x="531.90" y="140.60" width="2.42" height="1.46" fill="rgb(182,182,182)"/><rect x="531.90" y="142.02" width="2.42" height="1.46" fill="rgb(164,164,164)"/><rect x="531.90" y="143.43" width="2.42" height="1.46" fill="rgb(137,137,137)"/><rect x="531.90" y="144.84" width="2.42" height="1.46" fill="rgb(170,170,170)"/><rect x="531.90" y="146.25" width="2.42" height="1.46" fill="rgb(154,154,154)"/><rect x="531.90" y="147.66" width="2.42" height="1.46" fill="rgb(94,94,94)"/><rect x="531.90" y="149.08" width="2.42" height="1.46" fill="rgb(150,150,150)"/><rect x="531.90" y="150.49" width="2.42" height="1.46" fill="rgb(128,128,128)"/><rect x="531.90" y="151.90" width="2.42" height="1.46" fill="rgb(152,152,152)"/><rect x="531.90" y="153.31" width="2.42" height="1.46" fill="rgb(189,189,189)"/><rect x="531.90" y="154.72" width="2.42" height="1.46" fill="rgb(180,180,180)"/><rect x="531.90" y="156.14" width="2.42" height="1.46" fill="rgb(185,185,185)"/><rect x="531.90" y="157.55" width="2.42" height="1.46" fill="rgb(222,222,222)"/><rect x="531.90" y="158.96" width="2.42" height="1.46" fill="rgb(217,217,217)"/><rect x="531.90" y="160.37" width="2.42" height="1.46" fill="rgb(223,223,223)"/><rect x="531.90" y="161.78" width="2.42" height="1.46" fill="rgb(238,238,238)"/><rect x="531.90" y="163.20" width="2.42" height="1.46" fill="rgb(234,234,234)"/><rect x="531.90" y="164.61" width="2.42" height="1.46" fill="rgb(244,244,244)"/><rect x="531.90" y="166.02" width="2.42" height="1.46" fill="rgb(239,239,239)"/><rect x="531.90" y="167.43" width="2.42" height="1.46" fill="rgb(248,248,248)"/><rect x="531.90" y="168.84" width="2.42" height="1.46" fill="rgb(228,228,228)"/><rect x="531.90" y="170.26" width="2.42" height="1.46" fill="rgb(247,247,247)"/><rect x="531.90" y="171.67" width="2.42" height="1.46" fill="rgb(235,235,235)"/><rect x="531.90" y="173.08" width="2.42" height="1.46" fill="rgb(251,251,251)"/><rect x="534.27" y="118.01" width="2.42" height="1.46" fill="rgb(251,251,251)"/><rect x="534.27" y="119.42" width="2.42" height="1.46" fill="rgb(249,249,249)"/><rect x="534.27" y="120.84" width="2.42" height="1.46" fill="rgb(250,250,250)"/><rect x="534.27" y="122.25" width="2.42" height="1.46" fill="rgb(231,231,231)"/><rect x="534.27" y="123.66" width="2.42" height="1.46" fill="rgb(228,228,228)"/><rect x="534.27" y="125.07" width="2.42" height="1.46" fill="rgb(246,246,246)"/><rect x="534.27" y="126.48" width="2.42" height="1.46" fill="rgb(242,242,242)"/><rect x="534.27" y="127.90" width="2.42" height="1.46" fill="rgb(239,239,239)"/><rect x="534.27" y="129.31" width="2.42" height="1.46" fill="rgb(243,243,243)"/><rect x="534.27" y="130.72" width="2.42" height="1.46" fill="rgb(238,238,238)"/><rect x="534.27" y="132.13" width="2.42" height="1.46" fill="rgb(231,231,231)"/><rect x="534.27" y="133.54" width="2.42" height="1.46" fill="rgb(227,227,227)"/><rect x="534.27" y="134.96" width="2.42" height="1.46" fill="rgb(219,219,219)"/><rect x="534.27" y="136.37" width="2.42" height="1.46" fill="rgb(179,179,179)"/><rect x="534.27" y="137.78" width="2.42" height="1.46" fill="rgb(180,180,180)"/><rect x="534.27" y="139.19" width="2.42" height="1.46" fill="rgb(160,160,160)"/><rect x="534.27" y="140.60" width="2.42" height="1.46" fill="rgb(107,107,107)"/><rect x="534.27" y="142.02" width="2.42" height="1.46" fill="rgb(161,161,161)"/><rect x="534.27" y="143.43" width="2.42" height="1.46" fill="rgb(134,134,134)"/><rect x="534.27" y="144.84" width="2.42" height="1.46" fill="rgb(100,100,100)"/><rect x="534.27" y="146.25" width="2.42" height="1.46" fill="rgb(125,125,125)"/><rect x="534.27" y="147.66" width="2.42" height="1.46" fill="rgb(151,151,151)"/><rect x="534.27" y="149.08" width="2.42" height="1.46" fill="rgb(92,92,92)"/><rect x="534.27" y="150.49" width="2.42" height="1.46" fill="rgb(146,146,146)"/><rect x="534.27" y="151.90" width="2.42" height="1.46" fill="rgb(157,157,157)"/><rect x="534.27" y="153.31" width="2.42" height="1.46" fill="rgb(203,203,203)"/><rect x="534.27" y="154.72" width="2.42" height="1.46" fill="rgb(205,205,205)"/><rect x="534.27" y="156.14" width="2.42" height="1.46" fill="rgb(188,188,188)"/><rect x="534.27" y="157.55" width="2.42" height="1.46" fill="rgb(219,219,219)"/><rect x="534.27" y="158.96" width="2.42" height="1.46" fill="rgb(231,231,231)"/><rect x="534.27" y="160.37" width="2.42" height="1.46" fill="rgb(236,236,236)"/><rect x="534.27" y="161.78" width="2.42" height="1.46" fill="rgb(227,227,227)"/><rect x="534.27" y="163.20" width="2.42" height="1.46" fill="rgb(236,236,236)"/><rect x="534.27" y="164.61" width="2.42" height="1.46" fill="rgb(240,240,240)"/><rect x="534.27" y="166.02" width="2.42" height="1.46" fill="rgb(239,239,239)"/><rect x="534.27" y="167.43" width="2.42" height="1.46" fill="rgb(246,246,246)"/><rect x="534.27" y="168.84" width="2.42" height="1.46" fill="rgb(237,237,237)"/><rect x="534.27" y="170.26" width="2.42" height="1.46" fill="rgb(250,250,250)"/><rect x="534.27" y="171.67" width="2.42" height="1.46" fill="rgb(230,230,230)"/><rect x="534.27" y="173.08" width="2.42" height="1.46" fill="rgb(251,251,251)"/><rect x="536.63" y="119.42" width="2.42" height="1.46" fill="rgb(244,244,244)"/><rect x="536.63" y="120.84" width="2.42" height="1.46" fill="rgb(237,237,237)"/><rect x="536.63" y="122.25" width="2.42" height="1.46" fill="rgb(246,246,246)"/><rect x="536.63" y="123.66" width="2.42" height="1.46" fill="rgb(247,247,247)"/><rect x="536.63" y="125.07" width="2.42" height="1.46" fill="rgb(244,244,244)"/><rect x="536.63" y="126.48" width="2.42" height="1.46" fill="rgb(242,242,242)"/><rect x="536.63" y="127.90" width="2.42" height="1.46" fill="rgb(237,237,237)"/><rect x="536.63" y="129.31" width="2.42" height="1.46" fill="rgb(238,238,238)"/><rect x="536.63" y="130.72" width="2.42" height="1.46" fill="rgb(224,224,224)"/><rect x="536.63" y="132.13" width="2.42" height="1.46" fill="rgb(222,222,222)"/><rect x="536.63" y="133.54" width="2.42" height="1.46" fill="rgb(228,228,228)"/><rect x="536.63" y="134.96" width="2.42" height="1.46" fill="rgb(203,203,203)"/><rect x="536.63" y="136.37" width="2.42" height="1.46" fill="rgb(195,195,195)"/><rect x="536.63" y="137.78" width="2.42" height="1.46" fill="rgb(191,191,191)"/><rect x="536.63" y="139.19" width="2.42" height="1.46" fill="rgb(159,159,159)"/><rect x="536.63" y="140.60" width="2.42" height="1.46" fill="rgb(101,101,101)"/><rect x="536.63" y="142.02" width="2.42" height="1.46" fill="rgb(90,90,90)"/><rect x="536.63" y="143.43" width="2.42" height="1.46" fill="rgb(149,149,149)"/><rect x="536.63" y="144.84" width="2.42" height="1.46" fill="rgb(67,67,67)"/><rect x="536.63" y="146.25" width="2.42" height="1.46" fill="rgb(99,99,99)"/><rect x="536.63" y="147.66" width="2.42" height="1.46" fill="rgb(95,95,95)"/><rect x="536.63" y="149.08" width="2.42" height="1.46" fill="rgb(113,113,113)"/><rect x="536.63" y="150.49" width="2.42" height="1.46" fill="rgb(141,141,141)"/><rect x="536.63" y="151.90" width="2.42" height="1.46" fill="rgb(164,164,164)"/><rect x="536.63" y="153.31" width="2.42" height="1.46" fill="rgb(208,208,208)"/><rect x="536.63" y="154.72" width="2.42" height="1.46" fill="rgb(184,184,184)"/><rect x="536.63" y="156.14" width="2.42" height="1.46" fill="rgb(216,216,216)"/><rect x="536.63" y="157.55" width="2.42" height="1.46" fill="rgb(222,222,222)"/><rect x="536.63" y="158.96" width="2.42" height="1.46" fill="rgb(225,225,225)"/><rect x="536.63" y="160.37" width="2.42" height="1.46" fill="rgb(230,230,230)"/><rect x="536.63" y="161.78" width="2.42" height="1.46" fill="rgb(236,236,236)"/><rect x="536.63" y="163.20" width="2.42" height="1.46" fill="rgb(232,232,232)"/><rect x="536.63" y="164.61" width="2.42" height="1.46" fill="rgb(237,237,237)"/><rect x="536.63" y="166.02" width="2.42" height="1.46" fill="rgb(239,239,239)"/><rect x="536.63" y="167.43" width="2.42" height="1.46" fill="rgb(249,249,249)"/><rect x="536.63" y="168.84" width="2.42" height="1.46" fill="rgb(245,245,245)"/><rect x="536.63" y="170.26" width="2.42" height="1.46" fill="rgb(232,232,232)"/><rect x="536.63" y="171.67" width="2.42" height="1.46" fill="rgb(251,251,251)"/><rect x="536.63" y="173.08" width="2.42" height="1.46" fill="rgb(251,251,251)"/><rect x="539.00" y="116.60" width="2.42" height="1.46" fill="rgb(251,251,251)"/><rect x="539.00" y="118.01" width="2.42" height="1.46" fill="rgb(251,251,251)"/><rect x="539.00" y="119.42" width="2.42" height="1.46" fill="rgb(248,248,248)"/><rect x="539.00" y="120.84" width="2.42" height="1.46" fill="rgb(231,231,231)"/><rect x="539.00" y="122.25" width="2.42" height="1.46" fill="rgb(236,236,236)"/><rect x="539.00" y="123.66" width="2.42" height="1.46" fill="rgb(243,243,243)"/><rect x="539.00" y="125.07" width="2.42" height="1.46" fill="rgb(241,241,241)"/><rect x="539.00" y="126.48" width="2.42" height="1.46" fill="rgb(239,239,239)"/><rect x="539.00" y="127.90" width="2.42" height="1.46" fill="rgb(243,243,243)"/><rect x="539.00" y="129.31" width="2.42" height="1.46" fill="rgb(232,232,232)"/><rect x="539.00" y="130.72" width="2.42" height="1.46" fill="rgb(225,225,225)"/><rect x="539.00" y="132.13" width="2.42" height="1.46" fill="rgb(222,222,222)"/><rect x="539.00" y="133.54" width="2.42" height="1.46" fill="rgb(205,205,205)"/><rect x="539.00" y="134.96" width="2.42" height="1.46" fill="rgb(192,192,192)"/><rect x="539.00" y="136.37" width="2.42" height="1.46" fill="rgb(173,173,173)"/><rect x="539.00" y="137.78" width="2.42" height="1.46" fill="rgb(88,88,88)"/><rect x="539.00" y="139.19" width="2.42" height="1.46" fill="rgb(99,99,99)"/><rect x="539.00" y="140.60" width="2.42" height="1.46" fill="rgb(162,162,162)"/><rect x="539.00" y="142.02" width="2.42" height="1.46" fill="rgb(79,79,79)"/><rect x="539.00" y="143.43" width="2.42" height="1.46" fill="rgb(89,89,89)"/><rect x="539.00" y="144.84" width="2.42" height="1.46" fill="rgb(75,75,75)"/><rect x="539.00" y="146.25" width="2.42" height="1.46" fill="rgb(77,77,77)"/><rect x="539.00" y="147.66" width="2.42" height="1.46" fill="rgb(83,83,83)"/><rect x="539.00" y="149.08" width="2.42" height="1.46" fill="rgb(180,180,180)"/><rect x="539.00" y="150.49" width="2.42" height="1.46" fill="rgb(170,170,170)"/><rect x="539.00" y="151.90" width="2.42" height="1.46" fill="rgb(191,191,191)"/><rect x="539.00" y="153.31" width="2.42" height="1.46" fill="rgb(185,185,185)"/><rect x="539.00" y="154.72" width="2.42" height="1.46" fill="rgb(188,188,188)"/><rect x="539.00" y="156.14" width="2.42" height="1.46" fill="rgb(213,213,213)"/><rect x="539.00" y="157.55" width="2.42" height="1.46" fill="rgb(217,217,217)"/><rect x="539.00" y="158.96" width="2.42" height="1.46" fill="rgb(226,226,226)"/><rect x="539.00" y="160.37" width="2.42" height="1.46" fill="rgb(233,233,233)"/><rect x="539.00" y="161.78" width="2.42" height="1.46" fill="rgb(230,230,230)"/><rect x="539.00" y="163.20" width="2.42" height="1.46" fill="rgb(236,236,236)"/><rect x="539.00" y="164.61" width="2.42" height="1.46" fill="rgb(239,239,239)"/><rect x="539.00" y="166.02" width="2.42" height="1.46" fill="rgb(245,245,245)"/><rect x="539.00" y="167.43" width="2.42" height="1.46" fill="rgb(247,247,247)"/><rect x="539.00" y="168.84" width="2.42" height="1.46" fill="rgb(223,223,223)"/><rect x="539.00" y="170.26" width="2.42" height="1.46" fill="rgb(232,232,232)"/><rect x="539.00" y="171.67" width="2.42" height="1.46" fill="rgb(249,249,249)"/><rect x="539.00" y="173.08" width="2.42" height="1.46" fill="rgb(251,251,251)"/><rect x="541.37" y="116.60" width="2.42" height="1.46" fill="rgb(251,251,251)"/><rect x="541.37" y="119.42" width="2.42" height="1.46" fill="rgb(249,249,249)"/><rect x="541.37" y="120.84" width="2.42" height="1.46" fill="rgb(248,248,248)"/><rect x="541.37" y="122.25" width="2.42" height="1.46" fill="rgb(246,246,246)"/><rect x="541.37" y="123.66" width="2.42" height="1.46" fill="rgb(242,242,242)"/><rect x="541.37" y="125.07" width="2.42" height="1.46" fill="rgb(231,231,231)"/><rect x="541.37" y="126.48" width="2.42" height="1.46" fill="rgb(237,237,237)"/><rect x="541.37" y="127.90" width="2.42" height="1.46" fill="rgb(231,231,231)"/><rect x="541.37" y="129.31" width="2.42" height="1.46" fill="rgb(228,228,228)"/><rect x="541.37" y="130.72" width="2.42" height="1.46" fill="rgb(234,234,234)"/><rect x="541.37" y="132.13" width="2.42" height="1.46" fill="rgb(219,219,219)"/><rect x="541.37" y="133.54" width="2.42" height="1.46" fill="rgb(222,222,222)"/><rect x="541.37" y="134.96" width="2.42" height="1.46" fill="rgb(186,186,186)"/><rect x="541.37" y="136.37" width="2.42" height="1.46" fill="rgb(161,161,161)"/><rect x="541.37" y="137.78" width="2.42" height="1.46" fill="rgb(182,182,182)"/><rect x="541.37" y="139.19" width="2.42" height="1.46" fill="rgb(174,174,174)"/><rect x="541.37" y="140.60" width="2.42" height="1.46" fill="rgb(94,94,94)"/><rect x="541.37" y="142.02" width="2.42" height="1.46" fill="rgb(132,132,132)"/><rect x="541.37" y="143.43" width="2.42" height="1.46" fill="rgb(135,135,135)"/><rect x="541.37" y="144.84" width="2.42" height="1.46" fill="rgb(75,75,75)"/><rect x="541.37" y="146.25" width="2.42" height="1.46" fill="rgb(104,104,104)"/><rect x="541.37" y="147.66" width="2.42" height="1.46" fill="rgb(175,175,175)"/><rect x="541.37" y="149.08" width="2.42" height="1.46" fill="rgb(186,186,186)"/><rect x="541.37" y="150.49" width="2.42" height="1.46" fill="rgb(192,192,192)"/><rect x="541.37" y="151.90" width="2.42" height="1.46" fill="rgb(200,200,200)"/><rect x="541.37" y="153.31" width="2.42" height="1.46" fill="rgb(203,203,203)"/><rect x="541.37" y="154.72" width="2.42" height="1.46" fill="rgb(208,208,208)"/><rect x="541.37" y="156.14" width="2.42" height="1.46" fill="rgb(211,211,211)"/><rect x="541.37" y="157.55" width="2.42" height="1.46" fill="rgb(229,229,229)"/><rect x="541.37" y="158.96" width="2.42" height="1.46" fill="rgb(223,223,223)"/><rect x="541.37" y="160.37" width="2.42" height="1.46" fill="rgb(230,230,230)"/><rect x="541.37" y="161.78" width="2.42" height="1.46" fill="rgb(237,237,237)"/><rect x="541.37" y="163.20" width="2.42" height="1.46" fill="rgb(240,240,240)"/><rect x="541.37" y="164.61" width="2.42" height="1.46" fill="rgb(240,240,240)"/><rect x="541.37" y="166.02" width="2.42" height="1.46" fill="rgb(240,240,240)"/><rect x="541.37" y="167.43" width="2.42" height="1.46" fill="rgb(242,242,242)"/><rect x="541.37" y="168.84" width="2.42" height="1.46" fill="rgb(248,248,248)"/><rect x="541.37" y="170.26" width="2.42" height="1.46" fill="rgb(250,250,250)"/><rect x="541.37" y="171.67" width="2.42" height="1.46" fill="rgb(250,250,250)"/><rect x="541.37" y="173.08" width="2.42" height="1.46" fill="rgb(251,251,251)"/><rect x="543.73" y="116.60" width="2.42" height="1.46" fill="rgb(251,251,251)"/><rect x="543.73" y="118.01" width="2.42" height="1.46" fill="rgb(251,251,251)"/><rect x="543.73" y="119.42" width="2.42" height="1.46" fill="rgb(250,250,250)"/><rect x="543.73" y="120.84" width="2.42" height="1.46" fill="rgb(248,248,248)"/><rect x="543.73" y="122.25" width="2.42" height="1.46" fill="rgb(248,248,248)"/><rect x="543.73" y="123.66" width="2.42" height="1.46" fill="rgb(240,240,240)"/><rect x="543.73" y="125.07" width="2.42" height="1.46" fill="rgb(242,242,242)"/><rect x="543.73" y="126.48" width="2.42" height="1.46" fill="rgb(237,237,237)"/><rect x="543.73" y="127.90" width="2.42" height="1.46" fill="rgb(236,236,236)"/><rect x="543.73" y="129.31" width="2.42" height="1.46" fill="rgb(230,230,230)"/><rect x="543.73" y="130.72" width="2.42" height="1.46" fill="rgb(228,228,228)"/><rect x="543.73" y="132.13" width="2.42" height="1.46" fill="rgb(210,210,210)"/><rect x="543.73" y="133.54" width="2.42" height="1.46" fill="rgb(184,184,184)"/><rect x="543.73" y="134.96" width="2.42" height="1.46" fill="rgb(172,172,172)"/><rect x="543.73" y="136.37" width="2.42" height="1.46" fill="rgb(157,157,157)"/><rect x="543.73" y="137.78" width="2.42" height="1.46" fill="rgb(121,121,121)"/><rect x="543.73" y="139.19" width="2.42" height="1.46" fill="rgb(143,143,143)"/><rect x="543.73" y="140.60" width="2.42" height="1.46" fill="rgb(77,77,77)"/><rect x="543.73" y="142.02" width="2.42" height="1.46" fill="rgb(108,108,108)"/><rect x="543.73" y="143.43" width="2.42" height="1.46" fill="rgb(112,112,112)"/><rect x="543.73" y="144.84" width="2.42" height="1.46" fill="rgb(115,115,115)"/><rect x="543.73" y="146.25" width="2.42" height="1.46" fill="rgb(94,94,94)"/><rect x="543.73" y="147.66" width="2.42" height="1.46" fill="rgb(139,139,139)"/><rect x="543.73" y="149.08" width="2.42" height="1.46" fill="rgb(122,122,122)"/><rect x="543.73" y="150.49" width="2.42" height="1.46" fill="rgb(185,185,185)"/><rect x="543.73" y="151.90" width="2.42" height="1.46" fill="rgb(121,121,121)"/><rect x="543.73" y="153.31" width="2.42" height="1.46" fill="rgb(194,194,194)"/><rect x="543.73" y="154.72" width="2.42" height="1.46" fill="rgb(218,218,218)"/><rect x="543.73" y="156.14" width="2.42" height="1.46" fill="rgb(214,214,214)"/><rect x="543.73" y="157.55" width="2.42" height="1.46" fill="rgb(230,230,230)"/><rect x="543.73" y="158.96" width="2.42" height="1.46" fill="rgb(221,221,221)"/><rect x="543.73" y="160.37" width="2.42" height="1.46" fill="rgb(231,231,231)"/><rect x="543.73" y="161.78" width="2.42" height="1.46" fill="rgb(229,229,229)"/><rect x="543.73" y="163.20" width="2.42" height="1.46" fill="rgb(234,234,234)"/><rect x="543.73" y="164.61" width="2.42" height="1.46" fill="rgb(238,238,238)"/><rect x="543.73" y="166.02" width="2.42" height="1.46" fill="rgb(246,246,246)"/><rect x="543.73" y="167.43" width="2.42" height="1.46" fill="rgb(244,244,244)"/><rect x="543.73" y="168.84" width="2.42" height="1.46" fill="rgb(245,245,245)"/><rect x="543.73" y="170.26" width="2.42" height="1.46" fill="rgb(247,247,247)"/><rect x="543.73" y="173.08" width="2.42" height="1.46" fill="rgb(251,251,251)"/><rect x="546.10" y="116.60" width="2.42" height="1.46" fill="rgb(251,251,251)"/><rect x="546.10" y="118.01" width="2.42" height="1.46" fill="rgb(244,244,244)"/><rect x="546.10" y="119.42" width="2.42" height="1.46" fill="rgb(250,250,250)"/><rect x="546.10" y="120.84" width="2.42" height="1.46" fill="rgb(231,231,231)"/><rect x="546.10" y="122.25" width="2.42" height="1.46" fill="rgb(243,243,243)"/><rect x="546.10" y="123.66" width="2.42" height="1.46" fill="rgb(235,235,235)"/><rect x="546.10" y="125.07" width="2.42" height="1.46" fill="rgb(237,237,237)"/><rect x="546.10" y="126.48" width="2.42" height="1.46" fill="rgb(242,242,242)"/><rect x="546.10" y="127.90" width="2.42" height="1.46" fill="rgb(237,237,237)"/><rect x="546.10" y="129.31" width="2.42" height="1.46" fill="rgb(226,226,226)"/><rect x="546.10" y="130.72" width="2.42" height="1.46" fill="rgb(216,216,216)"/><rect x="546.10" y="132.13" width="2.42" height="1.46" fill="rgb(218,218,218)"/><rect x="546.10" y="133.54" width="2.42" height="1.46" fill="rgb(213,213,213)"/><rect x="546.10" y="134.96" width="2.42" height="1.46" fill="rgb(168,168,168)"/><rect x="546.10" y="136.37" width="2.42" height="1.46" fill="rgb(194,194,194)"/><rect x="546.10" y="137.78" width="2.42" height="1.46" fill="rgb(114,114,114)"/><rect x="546.10" y="139.19" width="2.42" height="1.46" fill="rgb(151,151,151)"/><rect x="546.10" y="140.60" width="2.42" height="1.46" fill="rgb(73,73,73)"/><rect x="546.10" y="142.02" width="2.42" height="1.46" fill="rgb(139,139,139)"/><rect x="546.10" y="143.43" width="2.42" height="1.46" fill="rgb(79,79,79)"/><rect x="546.10" y="144.84" width="2.42" height="1.46" fill="rgb(117,117,117)"/><rect x="546.10" y="146.25" width="2.42" height="1.46" fill="rgb(139,139,139)"/><rect x="546.10" y="147.66" width="2.42" height="1.46" fill="rgb(140,140,140)"/><rect x="546.10" y="149.08" width="2.42" height="1.46" fill="rgb(138,138,138)"/><rect x="546.10" y="150.49" width="2.42" height="1.46" fill="rgb(173,173,173)"/><rect x="546.10" y="151.90" width="2.42" height="1.46" fill="rgb(201,201,201)"/><rect x="546.10" y="153.31" width="2.42" height="1.46" fill="rgb(208,208,208)"/><rect x="546.10" y="154.72" width="2.42" height="1.46" fill="rgb(211,211,211)"/><rect x="546.10" y="156.14" width="2.42" height="1.46" fill="rgb(217,217,217)"/><rect x="546.10" y="157.55" width="2.42" height="1.46" fill="rgb(231,231,231)"/><rect x="546.10" y="158.96" width="2.42" height="1.46" fill="rgb(237,237,237)"/><rect x="546.10" y="160.37" width="2.42" height="1.46" fill="rgb(233,233,233)"/><rect x="546.10" y="161.78" width="2.42" height="1.46" fill="rgb(242,242,242)"/><rect x="546.10" y="163.20" width="2.42" height="1.46" fill="rgb(239,239,239)"/><rect x="546.10" y="164.61" width="2.42" height="1.46" fill="rgb(240,240,240)"/><rect x="546.10" y="166.02" width="2.42" height="1.46" fill="rgb(226,226,226)"/><rect x="546.10" y="167.43" width="2.42" height="1.46" fill="rgb(248,248,248)"/><rect x="546.10" y="168.84" width="2.42" height="1.46" fill="rgb(247,247,247)"/><rect x="546.10" y="170.26" width="2.42" height="1.46" fill="rgb(248,248,248)"/><rect x="546.10" y="171.67" width="2.42" height="1.46" fill="rgb(251,251,251)"/><rect x="548.47" y="116.60" width="2.42" height="1.46" fill="rgb(250,250,250)"/><rect x="548.47" y="118.01" width="2.42" height="1.46" fill="rgb(247,247,247)"/><rect x="548.47" y="119.42" width="2.42" height="1.46" fill="rgb(236,236,236)"/><rect x="548.47" y="120.84" width="2.42" height="1.46" fill="rgb(245,245,245)"/><rect x="548.47" y="122.25" width="2.42" height="1.46" fill="rgb(220,220,220)"/><rect x="548.47" y="123.66" width="2.42" height="1.46" fill="rgb(242,242,242)"/><rect x="548.47" y="125.07" width="2.42" height="1.46" fill="rgb(238,238,238)"/><rect x="548.47" y="126.48" width="2.42" height="1.46" fill="rgb(235,235,235)"/><rect x="548.47" y="127.90" width="2.42" height="1.46" fill="rgb(236,236,236)"/><rect x="548.47" y="129.31" width="2.42" height="1.46" fill="rgb(215,215,215)"/><rect x="548.47" y="130.72" width="2.42" height="1.46" fill="rgb(227,227,227)"/><rect x="548.47" y="132.13" width="2.42" height="1.46" fill="rgb(202,202,202)"/><rect x="548.47" y="133.54" width="2.42" height="1.46" fill="rgb(182,182,182)"/><rect x="548.47" y="134.96" width="2.42" height="1.46" fill="rgb(168,168,168)"/><rect x="548.47" y="136.37" width="2.42" height="1.46" fill="rgb(116,116,116)"/><rect x="548.47" y="137.78" width="2.42" height="1.46" fill="rgb(127,127,127)"/><rect x="548.47" y="139.19" width="2.42" height="1.46" fill="rgb(73,73,73)"/><rect x="548.47" y="140.60" width="2.42" height="1.46" fill="rgb(109,109,109)"/><rect x="548.47" y="142.02" width="2.42" height="1.46" fill="rgb(93,93,93)"/><rect x="548.47" y="143.43" width="2.42" height="1.46" fill="rgb(72,72,72)"/><rect x="548.47" y="144.84" width="2.42" height="1.46" fill="rgb(87,87,87)"/><rect x="548.47" y="146.25" width="2.42" height="1.46" fill="rgb(112,112,112)"/><rect x="548.47" y="147.66" width="2.42" height="1.46" fill="rgb(147,147,147)"/><rect x="548.47" y="149.08" width="2.42" height="1.46" fill="rgb(151,151,151)"/><rect x="548.47" y="150.49" width="2.42" height="1.46" fill="rgb(191,191,191)"/><rect x="548.47" y="151.90" width="2.42" height="1.46" fill="rgb(198,198,198)"/><rect x="548.47" y="153.31" width="2.42" height="1.46" fill="rgb(202,202,202)"/><rect x="548.47" y="154.72" width="2.42" height="1.46" fill="rgb(218,218,218)"/><rect x="548.47" y="156.14" width="2.42" height="1.46" fill="rgb(221,221,221)"/><rect x="548.47" y="157.55" width="2.42" height="1.46" fill="rgb(229,229,229)"/><rect x="548.47" y="158.96" width="2.42" height="1.46" fill="rgb(222,222,222)"/><rect x="548.47" y="160.37" width="2.42" height="1.46" fill="rgb(239,239,239)"/><rect x="548.47" y="161.78" width="2.42" height="1.46" fill="rgb(234,234,234)"/><rect x="548.47" y="163.20" width="2.42" height="1.46" fill="rgb(237,237,237)"/><rect x="548.47" y="164.61" width="2.42" height="1.46" fill="rgb(238,238,238)"/><rect x="548.47" y="166.02" width="2.42" height="1.46" fill="rgb(238,238,238)"/><rect x="548.47" y="167.43" width="2.42" height="1.46" fill="rgb(246,246,246)"/><rect x="548.47" y="168.84" width="2.42" height="1.46" fill="rgb(228,228,228)"/><rect x="548.47" y="170.26" width="2.42" height="1.46" fill="rgb(248,248,248)"/><rect x="548.47" y="171.67" width="2.42" height="1.46" fill="rgb(249,249,249)"/><rect x="550.83" y="116.60" width="2.42" height="1.46" fill="rgb(243,243,243)"/><rect x="550.83" y="118.01" width="2.42" height="1.46" fill="rgb(251,251,251)"/><rect x="550.83" y="119.42" width="2.42" height="1.46" fill="rgb(244,244,244)"/><rect x="550.83" y="120.84" width="2.42" height="1.46" fill="rgb(245,245,245)"/><rect x="550.83" y="122.25" width="2.42" height="1.46" fill="rgb(241,241,241)"/><rect x="550.83" y="123.66" width="2.42" height="1.46" fill="rgb(242,242,242)"/><rect x="550.83" y="125.07" width="2.42" height="1.46" fill="rgb(239,239,239)"/><rect x="550.83" y="126.48" width="2.42" height="1.46" fill="rgb(235,235,235)"/><rect x="550.83" y="127.90" width="2.42" height="1.46" fill="rgb(226,226,226)"/><rect x="550.83" y="129.31" width="2.42" height="1.46" fill="rgb(219,219,219)"/><rect x="550.83" y="130.72" width="2.42" height="1.46" fill="rgb(220,220,220)"/><rect x="550.83" y="132.13" width="2.42" height="1.46" fill="rgb(203,203,203)"/><rect x="550.83" y="133.54" width="2.42" height="1.46" fill="rgb(191,191,191)"/><rect x="550.83" y="134.96" width="2.42" height="1.46" fill="rgb(140,140,140)"/><rect x="550.83" y="136.37" width="2.42" height="1.46" fill="rgb(135,135,135)"/><rect x="550.83" y="137.78" width="2.42" height="1.46" fill="rgb(80,80,80)"/><rect x="550.83" y="139.19" width="2.42" height="1.46" fill="rgb(67,67,67)"/><rect x="550.83" y="140.60" width="2.42" height="1.46" fill="rgb(132,132,132)"/><rect x="550.83" y="142.02" width="2.42" height="1.46" fill="rgb(61,61,61)"/><rect x="550.83" y="143.43" width="2.42" height="1.46" fill="rgb(121,121,121)"/><rect x="550.83" y="144.84" width="2.42" height="1.46" fill="rgb(62,62,62)"/><rect x="550.83" y="146.25" width="2.42" height="1.46" fill="rgb(108,108,108)"/><rect x="550.83" y="147.66" width="2.42" height="1.46" fill="rgb(162,162,162)"/><rect x="550.83" y="149.08" width="2.42" height="1.46" fill="rgb(186,186,186)"/><rect x="550.83" y="150.49" width="2.42" height="1.46" fill="rgb(191,191,191)"/><rect x="550.83" y="151.90" width="2.42" height="1.46" fill="rgb(199,199,199)"/><rect x="550.83" y="153.31" width="2.42" height="1.46" fill="rgb(209,209,209)"/><rect x="550.83" y="154.72" width="2.42" height="1.46" fill="rgb(211,211,211)"/><rect x="550.83" y="156.14" width="2.42" height="1.46" fill="rgb(232,232,232)"/><rect x="550.83" y="157.55" width="2.42" height="1.46" fill="rgb(229,229,229)"/><rect x="550.83" y="158.96" width="2.42" height="1.46" fill="rgb(226,226,226)"/><rect x="550.83" y="160.37" width="2.42" height="1.46" fill="rgb(237,237,237)"/><rect x="550.83" y="161.78" width="2.42" height="1.46" fill="rgb(229,229,229)"/><rect x="550.83" y="163.20" width="2.42" height="1.46" fill="rgb(236,236,236)"/><rect x="550.83" y="164.61" width="2.42" height="1.46" fill="rgb(219,219,219)"/><rect x="550.83" y="166.02" width="2.42" height="1.46" fill="rgb(244,244,244)"/><rect x="550.83" y="167.43" width="2.42" height="1.46" fill="rgb(247,247,247)"/><rect x="550.83" y="168.84" width="2.42" height="1.46" fill="rgb(248,248,248)"/><rect x="550.83" y="170.26" width="2.42" height="1.46" fill="rgb(249,249,249)"/><rect x="550.83" y="171.67" width="2.42" height="1.46" fill="rgb(250,250,250)"/><rect x="550.83" y="173.08" width="2.42" height="1.46" fill="rgb(251,251,251)"/><rect x="553.20" y="116.60" width="2.42" height="1.46" fill="rgb(250,250,250)"/><rect x="553.20" y="118.01" width="2.42" height="1.46" fill="rgb(249,249,249)"/><rect x="553.20" y="119.42" width="2.42" height="1.46" fill="rgb(247,247,247)"/><rect x="553.20" y="120.84" width="2.42" height="1.46" fill="rgb(230,230,230)"/><rect x="553.20" y="122.25" width="2.42" height="1.46" fill="rgb(243,243,243)"/><rect x="553.20" y="123.66" width="2.42" height="1.46" fill="rgb(240,240,240)"/><rect x="553.20" y="125.07" width="2.42" height="1.46" fill="rgb(242,242,242)"/><rect x="553.20" y="126.48" width="2.42" height="1.46" fill="rgb(241,241,241)"/><rect x="553.20" y="127.90" width="2.42" height="1.46" fill="rgb(226,226,226)"/><rect x="553.20" y="129.31" width="2.42" height="1.46" fill="rgb(231,231,231)"/><rect x="553.20" y="130.72" width="2.42" height="1.46" fill="rgb(219,219,219)"/><rect x="553.20" y="132.13" width="2.42" height="1.46" fill="rgb(191,191,191)"/><rect x="553.20" y="133.54" width="2.42" height="1.46" fill="rgb(177,177,177)"/><rect x="553.20" y="134.96" width="2.42" height="1.46" fill="rgb(180,180,180)"/><rect x="553.20" y="136.37" width="2.42" height="1.46" fill="rgb(132,132,132)"/><rect x="553.20" y="137.78" width="2.42" height="1.46" fill="rgb(169,169,169)"/><rect x="553.20" y="139.19" width="2.42" height="1.46" fill="rgb(118,118,118)"/><rect x="553.20" y="140.60" width="2.42" height="1.46" fill="rgb(122,122,122)"/><rect x="553.20" y="142.02" width="2.42" height="1.46" fill="rgb(87,87,87)"/><rect x="553.20" y="143.43" width="2.42" height="1.46" fill="rgb(148,148,148)"/><rect x="553.20" y="144.84" width="2.42" height="1.46" fill="rgb(114,114,114)"/><rect x="553.20" y="146.25" width="2.42" height="1.46" fill="rgb(155,155,155)"/><rect x="553.20" y="147.66" width="2.42" height="1.46" fill="rgb(165,165,165)"/><rect x="553.20" y="149.08" width="2.42" height="1.46" fill="rgb(201,201,201)"/><rect x="553.20" y="150.49" width="2.42" height="1.46" fill="rgb(192,192,192)"/><rect x="553.20" y="151.90" width="2.42" height="1.46" fill="rgb(211,211,211)"/><rect x="553.20" y="153.31" width="2.42" height="1.46" fill="rgb(212,212,212)"/><rect x="553.20" y="154.72" width="2.42" height="1.46" fill="rgb(220,220,220)"/><rect x="553.20" y="156.14" width="2.42" height="1.46" fill="rgb(235,235,235)"/><rect x="553.20" y="157.55" width="2.42" height="1.46" fill="rgb(238,238,238)"/><rect x="553.20" y="158.96" width="2.42" height="1.46" fill="rgb(228,228,228)"/><rect x="553.20" y="160.37" width="2.42" height="1.46" fill="rgb(240,240,240)"/><rect x="553.20" y="161.78" width="2.42" height="1.46" fill="rgb(237,237,237)"/><rect x="553.20" y="163.20" width="2.42" height="1.46" fill="rgb(235,235,235)"/><rect x="553.20" y="164.61" width="2.42" height="1.46" fill="rgb(243,243,243)"/><rect x="553.20" y="166.02" width="2.42" height="1.46" fill="rgb(224,224,224)"/><rect x="553.20" y="167.43" width="2.42" height="1.46" fill="rgb(247,247,247)"/><rect x="553.20" y="168.84" width="2.42" height="1.46" fill="rgb(246,246,246)"/><rect x="553.20" y="170.26" width="2.42" height="1.46" fill="rgb(248,248,248)"/><rect x="555.57" y="116.60" width="2.42" height="1.46" fill="rgb(250,250,250)"/><rect x="555.57" y="118.01" width="2.42" height="1.46" fill="rgb(250,250,250)"/><rect x="555.57" y="119.42" width="2.42" height="1.46" fill="rgb(246,246,246)"/><rect x="555.57" y="120.84" width="2.42" height="1.46" fill="rgb(241,241,241)"/><rect x="555.57" y="122.25" width="2.42" height="1.46" fill="rgb(240,240,240)"/><rect x="555.57" y="123.66" width="2.42" height="1.46" fill="rgb(239,239,239)"/><rect x="555.57" y="125.07" width="2.42" height="1.46" fill="rgb(239,239,239)"/><rect x="555.57" y="126.48" width="2.42" height="1.46" fill="rgb(237,237,237)"/><rect x="555.57" y="127.90" width="2.42" height="1.46" fill="rgb(231,231,231)"/><rect x="555.57" y="129.31" width="2.42" height="1.46" fill="rgb(217,217,217)"/><rect x="555.57" y="130.72" width="2.42" height="1.46" fill="rgb(194,194,194)"/><rect x="555.57" y="132.13" width="2.42" height="1.46" fill="rgb(207,207,207)"/><rect x="555.57" y="133.54" width="2.42" height="1.46" fill="rgb(151,151,151)"/><rect x="555.57" y="134.96" width="2.42" height="1.46" fill="rgb(182,182,182)"/><rect x="555.57" y="136.37" width="2.42" height="1.46" fill="rgb(172,172,172)"/><rect x="555.57" y="137.78" width="2.42" height="1.46" fill="rgb(91,91,91)"/><rect x="555.57" y="139.19" width="2.42" height="1.46" fill="rgb(64,64,64)"/><rect x="555.57" y="140.60" width="2.42" height="1.46" fill="rgb(116,116,116)"/><rect x="555.57" y="142.02" width="2.42" height="1.46" fill="rgb(117,117,117)"/><rect x="555.57" y="143.43" width="2.42" height="1.46" fill="rgb(99,99,99)"/><rect x="555.57" y="144.84" width="2.42" height="1.46" fill="rgb(134,134,134)"/><rect x="555.57" y="146.25" width="2.42" height="1.46" fill="rgb(186,186,186)"/><rect x="555.57" y="147.66" width="2.42" height="1.46" fill="rgb(185,185,185)"/><rect x="555.57" y="149.08" width="2.42" height="1.46" fill="rgb(177,177,177)"/><rect x="555.57" y="150.49" width="2.42" height="1.46" fill="rgb(207,207,207)"/><rect x="555.57" y="151.90" width="2.42" height="1.46" fill="rgb(206,206,206)"/><rect x="555.57" y="153.31" width="2.42" height="1.46" fill="rgb(225,225,225)"/><rect x="555.57" y="154.72" width="2.42" height="1.46" fill="rgb(224,224,224)"/><rect x="555.57" y="156.14" width="2.42" height="1.46" fill="rgb(227,227,227)"/><rect x="555.57" y="157.55" width="2.42" height="1.46" fill="rgb(238,238,238)"/><rect x="555.57" y="158.96" width="2.42" height="1.46" fill="rgb(239,239,239)"/><rect x="555.57" y="160.37" width="2.42" height="1.46" fill="rgb(232,232,232)"/><rect x="555.57" y="161.78" width="2.42" height="1.46" fill="rgb(240,240,240)"/><rect x="555.57" y="163.20" width="2.42" height="1.46" fill="rgb(237,237,237)"/><rect x="555.57" y="164.61" width="2.42" height="1.46" fill="rgb(239,239,239)"/><rect x="555.57" y="166.02" width="2.42" height="1.46" fill="rgb(240,240,240)"/><rect x="555.57" y="167.43" width="2.42" height="1.46" fill="rgb(245,245,245)"/><rect x="555.57" y="168.84" width="2.42" height="1.46" fill="rgb(245,245,245)"/><rect x="555.57" y="170.26" width="2.42" height="1.46" fill="rgb(249,249,249)"/><rect x="555.57" y="171.67" width="2.42" height="1.46" fill="rgb(250,250,250)"/><rect x="555.57" y="173.08" width="2.42" height="1.46" fill="rgb(251,251,251)"/><rect x="557.93" y="116.60" width="2.42" height="1.46" fill="rgb(249,249,249)"/><rect x="557.93" y="118.01" width="2.42" height="1.46" fill="rgb(223,223,223)"/><rect x="557.93" y="119.42" width="2.42" height="1.46" fill="rgb(244,244,244)"/><rect x="557.93" y="120.84" width="2.42" height="1.46" fill="rgb(237,237,237)"/><rect x="557.93" y="122.25" width="2.42" height="1.46" fill="rgb(241,241,241)"/><rect x="557.93" y="123.66" width="2.42" height="1.46" fill="rgb(241,241,241)"/><rect x="557.93" y="125.07" width="2.42" height="1.46" fill="rgb(232,232,232)"/><rect x="557.93" y="126.48" width="2.42" height="1.46" fill="rgb(231,231,231)"/><rect x="557.93" y="127.90" width="2.42" height="1.46" fill="rgb(205,205,205)"/><rect x="557.93" y="129.31" width="2.42" height="1.46" fill="rgb(209,209,209)"/><rect x="557.93" y="130.72" width="2.42" height="1.46" fill="rgb(178,178,178)"/><rect x="557.93" y="132.13" width="2.42" height="1.46" fill="rgb(161,161,161)"/><rect x="557.93" y="133.54" width="2.42" height="1.46" fill="rgb(178,178,178)"/><rect x="557.93" y="134.96" width="2.42" height="1.46" fill="rgb(141,141,141)"/><rect x="557.93" y="136.37" width="2.42" height="1.46" fill="rgb(70,70,70)"/><rect x="557.93" y="137.78" width="2.42" height="1.46" fill="rgb(44,44,44)"/><rect x="557.93" y="139.19" width="2.42" height="1.46" fill="rgb(82,82,82)"/><rect x="557.93" y="140.60" width="2.42" height="1.46" fill="rgb(140,140,140)"/><rect x="557.93" y="142.02" width="2.42" height="1.46" fill="rgb(130,130,130)"/><rect x="557.93" y="143.43" width="2.42" height="1.46" fill="rgb(104,104,104)"/><rect x="557.93" y="144.84" width="2.42" height="1.46" fill="rgb(98,98,98)"/><rect x="557.93" y="146.25" width="2.42" height="1.46" fill="rgb(145,145,145)"/><rect x="557.93" y="147.66" width="2.42" height="1.46" fill="rgb(134,134,134)"/><rect x="557.93" y="149.08" width="2.42" height="1.46" fill="rgb(186,186,186)"/><rect x="557.93" y="150.49" width="2.42" height="1.46" fill="rgb(217,217,217)"/><rect x="557.93" y="151.90" width="2.42" height="1.46" fill="rgb(220,220,220)"/><rect x="557.93" y="153.31" width="2.42" height="1.46" fill="rgb(231,231,231)"/><rect x="557.93" y="154.72" width="2.42" height="1.46" fill="rgb(218,218,218)"/><rect x="557.93" y="156.14" width="2.42" height="1.46" fill="rgb(220,220,220)"/><rect x="557.93" y="157.55" width="2.42" height="1.46" fill="rgb(232,232,232)"/><rect x="557.93" y="158.96" width="2.42" height="1.46" fill="rgb(234,234,234)"/><rect x="557.93" y="160.37" width="2.42" height="1.46" fill="rgb(231,231,231)"/><rect x="557.93" y="161.78" width="2.42" height="1.46" fill="rgb(241,241,241)"/><rect x="557.93" y="163.20" width="2.42" height="1.46" fill="rgb(238,238,238)"/><rect x="557.93" y="164.61" width="2.42" height="1.46" fill="rgb(240,240,240)"/><rect x="557.93" y="166.02" width="2.42" height="1.46" fill="rgb(240,240,240)"/><rect x="557.93" y="167.43" width="2.42" height="1.46" fill="rgb(241,241,241)"/><rect x="557.93" y="168.84" width="2.42" height="1.46" fill="rgb(242,242,242)"/><rect x="557.93" y="170.26" width="2.42" height="1.46" fill="rgb(248,248,248)"/><rect x="557.93" y="171.67" width="2.42" height="1.46" fill="rgb(248,248,248)"/><rect x="557.93" y="173.08" width="2.42" height="1.46" fill="rgb(250,250,250)"/><rect x="560.30" y="116.60" width="2.42" height="1.46" fill="rgb(239,239,239)"/><rect x="560.30" y="118.01" width="2.42" height="1.46" fill="rgb(246,246,246)"/><rect x="560.30" y="119.42" width="2.42" height="1.46" fill="rgb(247,247,247)"/><rect x="560.30" y="120.84" width="2.42" height="1.46" fill="rgb(244,244,244)"/><rect x="560.30" y="122.25" width="2.42" height="1.46" fill="rgb(243,243,243)"/><rect x="560.30" y="123.66" width="2.42" height="1.46" fill="rgb(230,230,230)"/><rect x="560.30" y="125.07" width="2.42" height="1.46" fill="rgb(224,224,224)"/><rect x="560.30" y="126.48" width="2.42" height="1.46" fill="rgb(231,231,231)"/><rect x="560.30" y="127.90" width="2.42" height="1.46" fill="rgb(206,206,206)"/><rect x="560.30" y="129.31" width="2.42" height="1.46" fill="rgb(204,204,204)"/><rect x="560.30" y="130.72" width="2.42" height="1.46" fill="rgb(176,176,176)"/><rect x="560.30" y="132.13" width="2.42" height="1.46" fill="rgb(147,147,147)"/><rect x="560.30" y="133.54" width="2.42" height="1.46" fill="rgb(173,173,173)"/><rect x="560.30" y="134.96" width="2.42" height="1.46" fill="rgb(127,127,127)"/><rect x="560.30" y="136.37" width="2.42" height="1.46" fill="rgb(99,99,99)"/><rect x="560.30" y="137.78" width="2.42" height="1.46" fill="rgb(73,73,73)"/><rect x="560.30" y="139.19" width="2.42" height="1.46" fill="rgb(105,105,105)"/><rect x="560.30" y="140.60" width="2.42" height="1.46" fill="rgb(144,144,144)"/><rect x="560.30" y="142.02" width="2.42" height="1.46" fill="rgb(154,154,154)"/><rect x="560.30" y="143.43" width="2.42" height="1.46" fill="rgb(99,99,99)"/><rect x="560.30" y="144.84" width="2.42" height="1.46" fill="rgb(123,123,123)"/><rect x="560.30" y="146.25" width="2.42" height="1.46" fill="rgb(125,125,125)"/><rect x="560.30" y="147.66" width="2.42" height="1.46" fill="rgb(176,176,176)"/><rect x="560.30" y="149.08" width="2.42" height="1.46" fill="rgb(200,200,200)"/><rect x="560.30" y="150.49" width="2.42" height="1.46" fill="rgb(204,204,204)"/><rect x="560.30" y="151.90" width="2.42" height="1.46" fill="rgb(205,205,205)"/><rect x="560.30" y="153.31" width="2.42" height="1.46" fill="rgb(222,222,222)"/><rect x="560.30" y="154.72" width="2.42" height="1.46" fill="rgb(227,227,227)"/><rect x="560.30" y="156.14" width="2.42" height="1.46" fill="rgb(225,225,225)"/><rect x="560.30" y="157.55" width="2.42" height="1.46" fill="rgb(240,240,240)"/><rect x="560.30" y="158.96" width="2.42" height="1.46" fill="rgb(238,238,238)"/><rect x="560.30" y="160.37" width="2.42" height="1.46" fill="rgb(240,240,240)"/><rect x="560.30" y="161.78" width="2.42" height="1.46" fill="rgb(238,238,238)"/><rect x="560.30" y="163.20" width="2.42" height="1.46" fill="rgb(239,239,239)"/><rect x="560.30" y="164.61" width="2.42" height="1.46" fill="rgb(238,238,238)"/><rect x="560.30" y="166.02" width="2.42" height="1.46" fill="rgb(242,242,242)"/><rect x="560.30" y="167.43" width="2.42" height="1.46" fill="rgb(241,241,241)"/><rect x="560.30" y="168.84" width="2.42" height="1.46" fill="rgb(247,247,247)"/><rect x="560.30" y="170.26" width="2.42" height="1.46" fill="rgb(246,246,246)"/><rect x="560.30" y="171.67" width="2.42" height="1.46" fill="rgb(248,248,248)"/><rect x="560.30" y="174.49" width="2.42" height="1.46" fill="rgb(251,251,251)"/><rect x="562.67" y="116.60" width="2.42" height="1.46" fill="rgb(242,242,242)"/><rect x="562.67" y="118.01" width="2.42" height="1.46" fill="rgb(247,247,247)"/><rect x="562.67" y="119.42" width="2.42" height="1.46" fill="rgb(229,229,229)"/><rect x="562.67" y="120.84" width="2.42" height="1.46" fill="rgb(239,239,239)"/><rect x="562.67" y="122.25" width="2.42" height="1.46" fill="rgb(236,236,236)"/><rect x="562.67" y="123.66" width="2.42" height="1.46" fill="rgb(231,231,231)"/><rect x="562.67" y="125.07" width="2.42" height="1.46" fill="rgb(231,231,231)"/><rect x="562.67" y="126.48" width="2.42" height="1.46" fill="rgb(221,221,221)"/><rect x="562.67" y="127.90" width="2.42" height="1.46" fill="rgb(229,229,229)"/><rect x="562.67" y="129.31" width="2.42" height="1.46" fill="rgb(203,203,203)"/><rect x="562.67" y="130.72" width="2.42" height="1.46" fill="rgb(174,174,174)"/><rect x="562.67" y="132.13" width="2.42" height="1.46" fill="rgb(200,200,200)"/><rect x="562.67" y="133.54" width="2.42" height="1.46" fill="rgb(143,143,143)"/><rect x="562.67" y="134.96" width="2.42" height="1.46" fill="rgb(171,171,171)"/><rect x="562.67" y="136.37" width="2.42" height="1.46" fill="rgb(167,167,167)"/><rect x="562.67" y="137.78" width="2.42" height="1.46" fill="rgb(68,68,68)"/><rect x="562.67" y="139.19" width="2.42" height="1.46" fill="rgb(126,126,126)"/><rect x="562.67" y="140.60" width="2.42" height="1.46" fill="rgb(153,153,153)"/><rect x="562.67" y="142.02" width="2.42" height="1.46" fill="rgb(90,90,90)"/><rect x="562.67" y="143.43" width="2.42" height="1.46" fill="rgb(127,127,127)"/><rect x="562.67" y="144.84" width="2.42" height="1.46" fill="rgb(143,143,143)"/><rect x="562.67" y="146.25" width="2.42" height="1.46" fill="rgb(185,185,185)"/><rect x="562.67" y="147.66" width="2.42" height="1.46" fill="rgb(171,171,171)"/><rect x="562.67" y="149.08" width="2.42" height="1.46" fill="rgb(199,199,199)"/><rect x="562.67" y="150.49" width="2.42" height="1.46" fill="rgb(203,203,203)"/><rect x="562.67" y="151.90" width="2.42" height="1.46" fill="rgb(232,232,232)"/><rect x="562.67" y="153.31" width="2.42" height="1.46" fill="rgb(224,224,224)"/><rect x="562.67" y="154.72" width="2.42" height="1.46" fill="rgb(229,229,229)"/><rect x="562.67" y="156.14" width="2.42" height="1.46" fill="rgb(230,230,230)"/><rect x="562.67" y="157.55" width="2.42" height="1.46" fill="rgb(235,235,235)"/><rect x="562.67" y="158.96" width="2.42" height="1.46" fill="rgb(236,236,236)"/><rect x="562.67" y="160.37" width="2.42" height="1.46" fill="rgb(221,221,221)"/><rect x="562.67" y="161.78" width="2.42" height="1.46" fill="rgb(236,236,236)"/><rect x="562.67" y="163.20" width="2.42" height="1.46" fill="rgb(240,240,240)"/><rect x="562.67" y="164.61" width="2.42" height="1.46" fill="rgb(230,230,230)"/><rect x="562.67" y="166.02" width="2.42" height="1.46" fill="rgb(240,240,240)"/><rect x="562.67" y="167.43" width="2.42" height="1.46" fill="rgb(248,248,248)"/><rect x="562.67" y="168.84" width="2.42" height="1.46" fill="rgb(248,248,248)"/><rect x="562.67" y="170.26" width="2.42" height="1.46" fill="rgb(248,248,248)"/><rect x="562.67" y="171.67" width="2.42" height="1.46" fill="rgb(249,249,249)"/><rect x="562.67" y="173.08" width="2.42" height="1.46" fill="rgb(251,251,251)"/><rect x="565.03" y="116.60" width="2.42" height="1.46" fill="rgb(246,246,246)"/><rect x="565.03" y="118.01" width="2.42" height="1.46" fill="rgb(225,225,225)"/><rect x="565.03" y="119.42" width="2.42" height="1.46" fill="rgb(244,244,244)"/><rect x="565.03" y="120.84" width="2.42" height="1.46" fill="rgb(243,243,243)"/><rect x="565.03" y="122.25" width="2.42" height="1.46" fill="rgb(241,241,241)"/><rect x="565.03" y="123.66" width="2.42" height="1.46" fill="rgb(232,232,232)"/><rect x="565.03" y="125.07" width="2.42" height="1.46" fill="rgb(221,221,221)"/><rect x="565.03" y="126.48" width="2.42" height="1.46" fill="rgb(212,212,212)"/><rect x="565.03" y="127.90" width="2.42" height="1.46" fill="rgb(210,210,210)"/><rect x="565.03" y="129.31" width="2.42" height="1.46" fill="rgb(197,197,197)"/><rect x="565.03" y="130.72" width="2.42" height="1.46" fill="rgb(159,159,159)"/><rect x="565.03" y="132.13" width="2.42" height="1.46" fill="rgb(127,127,127)"/><rect x="565.03" y="133.54" width="2.42" height="1.46" fill="rgb(136,136,136)"/><rect x="565.03" y="134.96" width="2.42" height="1.46" fill="rgb(100,100,100)"/><rect x="565.03" y="136.37" width="2.42" height="1.46" fill="rgb(130,130,130)"/><rect x="565.03" y="137.78" width="2.42" height="1.46" fill="rgb(130,130,130)"/><rect x="565.03" y="139.19" width="2.42" height="1.46" fill="rgb(68,68,68)"/><rect x="565.03" y="140.60" width="2.42" height="1.46" fill="rgb(68,68,68)"/><rect x="565.03" y="142.02" width="2.42" height="1.46" fill="rgb(95,95,95)"/><rect x="565.03" y="143.43" width="2.42" height="1.46" fill="rgb(112,112,112)"/><rect x="565.03" y="144.84" width="2.42" height="1.46" fill="rgb(151,151,151)"/><rect x="565.03" y="146.25" width="2.42" height="1.46" fill="rgb(182,182,182)"/><rect x="565.03" y="147.66" width="2.42" height="1.46" fill="rgb(209,209,209)"/><rect x="565.03" y="149.08" width="2.42" height="1.46" fill="rgb(194,194,194)"/><rect x="565.03" y="150.49" width="2.42" height="1.46" fill="rgb(209,209,209)"/><rect x="565.03" y="151.90" width="2.42" height="1.46" fill="rgb(232,232,232)"/><rect x="565.03" y="153.31" width="2.42" height="1.46" fill="rgb(219,219,219)"/><rect x="565.03" y="154.72" width="2.42" height="1.46" fill="rgb(226,226,226)"/><rect x="565.03" y="156.14" width="2.42" height="1.46" fill="rgb(228,228,228)"/><rect x="565.03" y="157.55" width="2.42" height="1.46" fill="rgb(237,237,237)"/><rect x="565.03" y="158.96" width="2.42" height="1.46" fill="rgb(223,223,223)"/><rect x="565.03" y="160.37" width="2.42" height="1.46" fill="rgb(243,243,243)"/><rect x="565.03" y="161.78" width="2.42" height="1.46" fill="rgb(235,235,235)"/><rect x="565.03" y="163.20" width="2.42" height="1.46" fill="rgb(242,242,242)"/><rect x="565.03" y="164.61" width="2.42" height="1.46" fill="rgb(241,241,241)"/><rect x="565.03" y="166.02" width="2.42" height="1.46" fill="rgb(239,239,239)"/><rect x="565.03" y="167.43" width="2.42" height="1.46" fill="rgb(243,243,243)"/><rect x="565.03" y="168.84" width="2.42" height="1.46" fill="rgb(247,247,247)"/><rect x="565.03" y="170.26" width="2.42" height="1.46" fill="rgb(244,244,244)"/><rect x="565.03" y="171.67" width="2.42" height="1.46" fill="rgb(250,250,250)"/><rect x="565.03" y="173.08" width="2.42" height="1.46" fill="rgb(251,251,251)"/><rect x="565.03" y="174.49" width="2.42" height="1.46" fill="rgb(250,250,250)"/></g>
<line x1="495.50" y1="116.00" x2="495.50" y2="187.50" stroke="#b8b8b8" stroke-width="1.0" />
<line x1="495.50" y1="187.50" x2="569.30" y2="187.50" stroke="#b8b8b8" stroke-width="1.0" />
<line x1="508.15" y1="187.50" x2="508.15" y2="189.20" stroke="#b8b8b8" stroke-width="0.7" />
<text x="508.15" y="199.20" font-size="8.8" text-anchor="middle" >-10</text>
<line x1="532.40" y1="187.50" x2="532.40" y2="189.20" stroke="#b8b8b8" stroke-width="0.7" />
<text x="532.40" y="199.20" font-size="8.8" text-anchor="middle" >0</text>
<line x1="556.65" y1="187.50" x2="556.65" y2="189.20" stroke="#b8b8b8" stroke-width="0.7" />
<text x="556.65" y="199.20" font-size="8.8" text-anchor="middle" >10</text>
<text x="490.60" y="131.50" font-size="8.8" text-anchor="end" >2</text>
<text x="490.60" y="155.00" font-size="8.8" text-anchor="end" >0</text>
<text x="490.60" y="178.50" font-size="8.8" text-anchor="end" >-2</text>
<text transform="translate(476.90,151.80) rotate(-90)" x="0" y="0" font-size="10" text-anchor="middle" textLength="65.80" lengthAdjust="spacingAndGlyphs">Estimate (s.d.)</text>
<text x="575.80" y="111.20" font-size="13" font-weight="bold" style="stroke-width:0.3px" >f</text>
<text x="613.40" y="110.20" font-size="10" textLength="29.80" lengthAdjust="spacingAndGlyphs" >Choice</text>
<g shape-rendering="crispEdges" filter="url(#hb)"><rect x="593.00" y="130.72" width="2.40" height="1.46" fill="rgb(248,248,248)"/><rect x="593.00" y="132.13" width="2.40" height="1.46" fill="rgb(246,246,246)"/><rect x="593.00" y="133.54" width="2.40" height="1.46" fill="rgb(247,247,247)"/><rect x="593.00" y="134.96" width="2.40" height="1.46" fill="rgb(248,248,248)"/><rect x="593.00" y="136.37" width="2.40" height="1.46" fill="rgb(241,241,241)"/><rect x="593.00" y="137.78" width="2.40" height="1.46" fill="rgb(246,246,246)"/><rect x="593.00" y="139.19" width="2.40" height="1.46" fill="rgb(241,241,241)"/><rect x="593.00" y="140.60" width="2.40" height="1.46" fill="rgb(244,244,244)"/><rect x="593.00" y="142.02" width="2.40" height="1.46" fill="rgb(242,242,242)"/><rect x="593.00" y="143.43" width="2.40" height="1.46" fill="rgb(237,237,237)"/><rect x="593.00" y="144.84" width="2.40" height="1.46" fill="rgb(239,239,239)"/><rect x="593.00" y="146.25" width="2.40" height="1.46" fill="rgb(243,243,243)"/><rect x="593.00" y="147.66" width="2.40" height="1.46" fill="rgb(239,239,239)"/><rect x="593.00" y="149.08" width="2.40" height="1.46" fill="rgb(238,238,238)"/><rect x="593.00" y="150.49" width="2.40" height="1.46" fill="rgb(230,230,230)"/><rect x="593.00" y="151.90" width="2.40" height="1.46" fill="rgb(226,226,226)"/><rect x="593.00" y="153.31" width="2.40" height="1.46" fill="rgb(206,206,206)"/><rect x="593.00" y="154.72" width="2.40" height="1.46" fill="rgb(218,218,218)"/><rect x="593.00" y="156.14" width="2.40" height="1.46" fill="rgb(192,192,192)"/><rect x="593.00" y="157.55" width="2.40" height="1.46" fill="rgb(192,192,192)"/><rect x="593.00" y="158.96" width="2.40" height="1.46" fill="rgb(184,184,184)"/><rect x="593.00" y="160.37" width="2.40" height="1.46" fill="rgb(131,131,131)"/><rect x="593.00" y="161.78" width="2.40" height="1.46" fill="rgb(67,67,67)"/><rect x="593.00" y="163.20" width="2.40" height="1.46" fill="rgb(132,132,132)"/><rect x="593.00" y="164.61" width="2.40" height="1.46" fill="rgb(75,75,75)"/><rect x="593.00" y="166.02" width="2.40" height="1.46" fill="rgb(138,138,138)"/><rect x="593.00" y="167.43" width="2.40" height="1.46" fill="rgb(76,76,76)"/><rect x="593.00" y="168.84" width="2.40" height="1.46" fill="rgb(124,124,124)"/><rect x="593.00" y="170.26" width="2.40" height="1.46" fill="rgb(157,157,157)"/><rect x="593.00" y="171.67" width="2.40" height="1.46" fill="rgb(127,127,127)"/><rect x="593.00" y="173.08" width="2.40" height="1.46" fill="rgb(204,204,204)"/><rect x="593.00" y="174.49" width="2.40" height="1.46" fill="rgb(183,183,183)"/><rect x="593.00" y="175.90" width="2.40" height="1.46" fill="rgb(222,222,222)"/><rect x="593.00" y="177.32" width="2.40" height="1.46" fill="rgb(215,215,215)"/><rect x="593.00" y="178.73" width="2.40" height="1.46" fill="rgb(232,232,232)"/><rect x="593.00" y="180.14" width="2.40" height="1.46" fill="rgb(230,230,230)"/><rect x="593.00" y="181.55" width="2.40" height="1.46" fill="rgb(234,234,234)"/><rect x="593.00" y="182.96" width="2.40" height="1.46" fill="rgb(238,238,238)"/><rect x="593.00" y="184.38" width="2.40" height="1.46" fill="rgb(240,240,240)"/><rect x="593.00" y="185.79" width="2.40" height="1.46" fill="rgb(243,243,243)"/><rect x="595.35" y="130.72" width="2.40" height="1.46" fill="rgb(249,249,249)"/><rect x="595.35" y="132.13" width="2.40" height="1.46" fill="rgb(250,250,250)"/><rect x="595.35" y="133.54" width="2.40" height="1.46" fill="rgb(249,249,249)"/><rect x="595.35" y="134.96" width="2.40" height="1.46" fill="rgb(246,246,246)"/><rect x="595.35" y="136.37" width="2.40" height="1.46" fill="rgb(243,243,243)"/><rect x="595.35" y="137.78" width="2.40" height="1.46" fill="rgb(222,222,222)"/><rect x="595.35" y="139.19" width="2.40" height="1.46" fill="rgb(235,235,235)"/><rect x="595.35" y="140.60" width="2.40" height="1.46" fill="rgb(245,245,245)"/><rect x="595.35" y="142.02" width="2.40" height="1.46" fill="rgb(244,244,244)"/><rect x="595.35" y="143.43" width="2.40" height="1.46" fill="rgb(243,243,243)"/><rect x="595.35" y="144.84" width="2.40" height="1.46" fill="rgb(241,241,241)"/><rect x="595.35" y="146.25" width="2.40" height="1.46" fill="rgb(244,244,244)"/><rect x="595.35" y="147.66" width="2.40" height="1.46" fill="rgb(240,240,240)"/><rect x="595.35" y="149.08" width="2.40" height="1.46" fill="rgb(241,241,241)"/><rect x="595.35" y="150.49" width="2.40" height="1.46" fill="rgb(226,226,226)"/><rect x="595.35" y="151.90" width="2.40" height="1.46" fill="rgb(234,234,234)"/><rect x="595.35" y="153.31" width="2.40" height="1.46" fill="rgb(201,201,201)"/><rect x="595.35" y="154.72" width="2.40" height="1.46" fill="rgb(217,217,217)"/><rect x="595.35" y="156.14" width="2.40" height="1.46" fill="rgb(182,182,182)"/><rect x="595.35" y="157.55" width="2.40" height="1.46" fill="rgb(181,181,181)"/><rect x="595.35" y="158.96" width="2.40" height="1.46" fill="rgb(186,186,186)"/><rect x="595.35" y="160.37" width="2.40" height="1.46" fill="rgb(111,111,111)"/><rect x="595.35" y="161.78" width="2.40" height="1.46" fill="rgb(95,95,95)"/><rect x="595.35" y="163.20" width="2.40" height="1.46" fill="rgb(76,76,76)"/><rect x="595.35" y="164.61" width="2.40" height="1.46" fill="rgb(99,99,99)"/><rect x="595.35" y="166.02" width="2.40" height="1.46" fill="rgb(146,146,146)"/><rect x="595.35" y="167.43" width="2.40" height="1.46" fill="rgb(135,135,135)"/><rect x="595.35" y="168.84" width="2.40" height="1.46" fill="rgb(162,162,162)"/><rect x="595.35" y="170.26" width="2.40" height="1.46" fill="rgb(137,137,137)"/><rect x="595.35" y="171.67" width="2.40" height="1.46" fill="rgb(195,195,195)"/><rect x="595.35" y="173.08" width="2.40" height="1.46" fill="rgb(179,179,179)"/><rect x="595.35" y="174.49" width="2.40" height="1.46" fill="rgb(212,212,212)"/><rect x="595.35" y="175.90" width="2.40" height="1.46" fill="rgb(230,230,230)"/><rect x="595.35" y="177.32" width="2.40" height="1.46" fill="rgb(235,235,235)"/><rect x="595.35" y="178.73" width="2.40" height="1.46" fill="rgb(241,241,241)"/><rect x="595.35" y="180.14" width="2.40" height="1.46" fill="rgb(242,242,242)"/><rect x="595.35" y="181.55" width="2.40" height="1.46" fill="rgb(245,245,245)"/><rect x="595.35" y="182.96" width="2.40" height="1.46" fill="rgb(244,244,244)"/><rect x="595.35" y="184.38" width="2.40" height="1.46" fill="rgb(244,244,244)"/><rect x="595.35" y="185.79" width="2.40" height="1.46" fill="rgb(246,246,246)"/><rect x="597.69" y="129.31" width="2.40" height="1.46" fill="rgb(251,251,251)"/><rect x="597.69" y="130.72" width="2.40" height="1.46" fill="rgb(249,249,249)"/><rect x="597.69" y="132.13" width="2.40" height="1.46" fill="rgb(251,251,251)"/><rect x="597.69" y="133.54" width="2.40" height="1.46" fill="rgb(249,249,249)"/><rect x="597.69" y="134.96" width="2.40" height="1.46" fill="rgb(248,248,248)"/><rect x="597.69" y="136.37" width="2.40" height="1.46" fill="rgb(244,244,244)"/><rect x="597.69" y="137.78" width="2.40" height="1.46" fill="rgb(241,241,241)"/><rect x="597.69" y="139.19" width="2.40" height="1.46" fill="rgb(245,245,245)"/><rect x="597.69" y="140.60" width="2.40" height="1.46" fill="rgb(236,236,236)"/><rect x="597.69" y="142.02" width="2.40" height="1.46" fill="rgb(242,242,242)"/><rect x="597.69" y="143.43" width="2.40" height="1.46" fill="rgb(240,240,240)"/><rect x="597.69" y="144.84" width="2.40" height="1.46" fill="rgb(244,244,244)"/><rect x="597.69" y="146.25" width="2.40" height="1.46" fill="rgb(239,239,239)"/><rect x="597.69" y="147.66" width="2.40" height="1.46" fill="rgb(240,240,240)"/><rect x="597.69" y="149.08" width="2.40" height="1.46" fill="rgb(233,233,233)"/><rect x="597.69" y="150.49" width="2.40" height="1.46" fill="rgb(214,214,214)"/><rect x="597.69" y="151.90" width="2.40" height="1.46" fill="rgb(226,226,226)"/><rect x="597.69" y="153.31" width="2.40" height="1.46" fill="rgb(195,195,195)"/><rect x="597.69" y="154.72" width="2.40" height="1.46" fill="rgb(200,200,200)"/><rect x="597.69" y="156.14" width="2.40" height="1.46" fill="rgb(184,184,184)"/><rect x="597.69" y="157.55" width="2.40" height="1.46" fill="rgb(168,168,168)"/><rect x="597.69" y="158.96" width="2.40" height="1.46" fill="rgb(172,172,172)"/><rect x="597.69" y="160.37" width="2.40" height="1.46" fill="rgb(110,110,110)"/><rect x="597.69" y="161.78" width="2.40" height="1.46" fill="rgb(68,68,68)"/><rect x="597.69" y="163.20" width="2.40" height="1.46" fill="rgb(84,84,84)"/><rect x="597.69" y="164.61" width="2.40" height="1.46" fill="rgb(138,138,138)"/><rect x="597.69" y="166.02" width="2.40" height="1.46" fill="rgb(134,134,134)"/><rect x="597.69" y="167.43" width="2.40" height="1.46" fill="rgb(125,125,125)"/><rect x="597.69" y="168.84" width="2.40" height="1.46" fill="rgb(136,136,136)"/><rect x="597.69" y="170.26" width="2.40" height="1.46" fill="rgb(197,197,197)"/><rect x="597.69" y="171.67" width="2.40" height="1.46" fill="rgb(200,200,200)"/><rect x="597.69" y="173.08" width="2.40" height="1.46" fill="rgb(192,192,192)"/><rect x="597.69" y="174.49" width="2.40" height="1.46" fill="rgb(219,219,219)"/><rect x="597.69" y="175.90" width="2.40" height="1.46" fill="rgb(226,226,226)"/><rect x="597.69" y="177.32" width="2.40" height="1.46" fill="rgb(236,236,236)"/><rect x="597.69" y="178.73" width="2.40" height="1.46" fill="rgb(241,241,241)"/><rect x="597.69" y="180.14" width="2.40" height="1.46" fill="rgb(236,236,236)"/><rect x="597.69" y="181.55" width="2.40" height="1.46" fill="rgb(243,243,243)"/><rect x="597.69" y="182.96" width="2.40" height="1.46" fill="rgb(243,243,243)"/><rect x="597.69" y="184.38" width="2.40" height="1.46" fill="rgb(244,244,244)"/><rect x="597.69" y="185.79" width="2.40" height="1.46" fill="rgb(249,249,249)"/><rect x="600.04" y="129.31" width="2.40" height="1.46" fill="rgb(251,251,251)"/><rect x="600.04" y="130.72" width="2.40" height="1.46" fill="rgb(250,250,250)"/><rect x="600.04" y="132.13" width="2.40" height="1.46" fill="rgb(249,249,249)"/><rect x="600.04" y="133.54" width="2.40" height="1.46" fill="rgb(247,247,247)"/><rect x="600.04" y="134.96" width="2.40" height="1.46" fill="rgb(247,247,247)"/><rect x="600.04" y="136.37" width="2.40" height="1.46" fill="rgb(218,218,218)"/><rect x="600.04" y="137.78" width="2.40" height="1.46" fill="rgb(240,240,240)"/><rect x="600.04" y="139.19" width="2.40" height="1.46" fill="rgb(236,236,236)"/><rect x="600.04" y="140.60" width="2.40" height="1.46" fill="rgb(237,237,237)"/><rect x="600.04" y="142.02" width="2.40" height="1.46" fill="rgb(238,238,238)"/><rect x="600.04" y="143.43" width="2.40" height="1.46" fill="rgb(238,238,238)"/><rect x="600.04" y="144.84" width="2.40" height="1.46" fill="rgb(227,227,227)"/><rect x="600.04" y="146.25" width="2.40" height="1.46" fill="rgb(237,237,237)"/><rect x="600.04" y="147.66" width="2.40" height="1.46" fill="rgb(233,233,233)"/><rect x="600.04" y="149.08" width="2.40" height="1.46" fill="rgb(212,212,212)"/><rect x="600.04" y="150.49" width="2.40" height="1.46" fill="rgb(227,227,227)"/><rect x="600.04" y="151.90" width="2.40" height="1.46" fill="rgb(215,215,215)"/><rect x="600.04" y="153.31" width="2.40" height="1.46" fill="rgb(167,167,167)"/><rect x="600.04" y="154.72" width="2.40" height="1.46" fill="rgb(176,176,176)"/><rect x="600.04" y="156.14" width="2.40" height="1.46" fill="rgb(149,149,149)"/><rect x="600.04" y="157.55" width="2.40" height="1.46" fill="rgb(134,134,134)"/><rect x="600.04" y="158.96" width="2.40" height="1.46" fill="rgb(74,74,74)"/><rect x="600.04" y="160.37" width="2.40" height="1.46" fill="rgb(29,29,29)"/><rect x="600.04" y="161.78" width="2.40" height="1.46" fill="rgb(50,50,50)"/><rect x="600.04" y="163.20" width="2.40" height="1.46" fill="rgb(20,20,20)"/><rect x="600.04" y="164.61" width="2.40" height="1.46" fill="rgb(36,36,36)"/><rect x="600.04" y="166.02" width="2.40" height="1.46" fill="rgb(110,110,110)"/><rect x="600.04" y="167.43" width="2.40" height="1.46" fill="rgb(154,154,154)"/><rect x="600.04" y="168.84" width="2.40" height="1.46" fill="rgb(150,150,150)"/><rect x="600.04" y="170.26" width="2.40" height="1.46" fill="rgb(183,183,183)"/><rect x="600.04" y="171.67" width="2.40" height="1.46" fill="rgb(192,192,192)"/><rect x="600.04" y="173.08" width="2.40" height="1.46" fill="rgb(187,187,187)"/><rect x="600.04" y="174.49" width="2.40" height="1.46" fill="rgb(220,220,220)"/><rect x="600.04" y="175.90" width="2.40" height="1.46" fill="rgb(232,232,232)"/><rect x="600.04" y="177.32" width="2.40" height="1.46" fill="rgb(235,235,235)"/><rect x="600.04" y="178.73" width="2.40" height="1.46" fill="rgb(233,233,233)"/><rect x="600.04" y="180.14" width="2.40" height="1.46" fill="rgb(236,236,236)"/><rect x="600.04" y="181.55" width="2.40" height="1.46" fill="rgb(238,238,238)"/><rect x="600.04" y="182.96" width="2.40" height="1.46" fill="rgb(246,246,246)"/><rect x="600.04" y="184.38" width="2.40" height="1.46" fill="rgb(245,245,245)"/><rect x="600.04" y="185.79" width="2.40" height="1.46" fill="rgb(249,249,249)"/><rect x="602.39" y="129.31" width="2.40" height="1.46" fill="rgb(251,251,251)"/><rect x="602.39" y="132.13" width="2.40" height="1.46" fill="rgb(251,251,251)"/><rect x="602.39" y="133.54" width="2.40" height="1.46" fill="rgb(248,248,248)"/><rect x="602.39" y="134.96" width="2.40" height="1.46" fill="rgb(245,245,245)"/><rect x="602.39" y="136.37" width="2.40" height="1.46" fill="rgb(248,248,248)"/><rect x="602.39" y="137.78" width="2.40" height="1.46" fill="rgb(248,248,248)"/><rect x="602.39" y="139.19" width="2.40" height="1.46" fill="rgb(247,247,247)"/><rect x="602.39" y="140.60" width="2.40" height="1.46" fill="rgb(245,245,245)"/><rect x="602.39" y="142.02" width="2.40" height="1.46" fill="rgb(236,236,236)"/><rect x="602.39" y="143.43" width="2.40" height="1.46" fill="rgb(224,224,224)"/><rect x="602.39" y="144.84" width="2.40" height="1.46" fill="rgb(237,237,237)"/><rect x="602.39" y="146.25" width="2.40" height="1.46" fill="rgb(229,229,229)"/><rect x="602.39" y="147.66" width="2.40" height="1.46" fill="rgb(237,237,237)"/><rect x="602.39" y="149.08" width="2.40" height="1.46" fill="rgb(222,222,222)"/><rect x="602.39" y="150.49" width="2.40" height="1.46" fill="rgb(213,213,213)"/><rect x="602.39" y="151.90" width="2.40" height="1.46" fill="rgb(213,213,213)"/><rect x="602.39" y="153.31" width="2.40" height="1.46" fill="rgb(204,204,204)"/><rect x="602.39" y="154.72" width="2.40" height="1.46" fill="rgb(189,189,189)"/><rect x="602.39" y="156.14" width="2.40" height="1.46" fill="rgb(194,194,194)"/><rect x="602.39" y="157.55" width="2.40" height="1.46" fill="rgb(145,145,145)"/><rect x="602.39" y="158.96" width="2.40" height="1.46" fill="rgb(103,103,103)"/><rect x="602.39" y="160.37" width="2.40" height="1.46" fill="rgb(84,84,84)"/><rect x="602.39" y="161.78" width="2.40" height="1.46" fill="rgb(132,132,132)"/><rect x="602.39" y="163.20" width="2.40" height="1.46" fill="rgb(136,136,136)"/><rect x="602.39" y="164.61" width="2.40" height="1.46" fill="rgb(173,173,173)"/><rect x="602.39" y="166.02" width="2.40" height="1.46" fill="rgb(107,107,107)"/><rect x="602.39" y="167.43" width="2.40" height="1.46" fill="rgb(189,189,189)"/><rect x="602.39" y="168.84" width="2.40" height="1.46" fill="rgb(191,191,191)"/><rect x="602.39" y="170.26" width="2.40" height="1.46" fill="rgb(200,200,200)"/><rect x="602.39" y="171.67" width="2.40" height="1.46" fill="rgb(215,215,215)"/><rect x="602.39" y="173.08" width="2.40" height="1.46" fill="rgb(208,208,208)"/><rect x="602.39" y="174.49" width="2.40" height="1.46" fill="rgb(219,219,219)"/><rect x="602.39" y="175.90" width="2.40" height="1.46" fill="rgb(240,240,240)"/><rect x="602.39" y="177.32" width="2.40" height="1.46" fill="rgb(243,243,243)"/><rect x="602.39" y="178.73" width="2.40" height="1.46" fill="rgb(237,237,237)"/><rect x="602.39" y="180.14" width="2.40" height="1.46" fill="rgb(242,242,242)"/><rect x="602.39" y="181.55" width="2.40" height="1.46" fill="rgb(243,243,243)"/><rect x="602.39" y="182.96" width="2.40" height="1.46" fill="rgb(248,248,248)"/><rect x="602.39" y="184.38" width="2.40" height="1.46" fill="rgb(248,248,248)"/><rect x="602.39" y="185.79" width="2.40" height="1.46" fill="rgb(249,249,249)"/><rect x="604.73" y="130.72" width="2.40" height="1.46" fill="rgb(251,251,251)"/><rect x="604.73" y="132.13" width="2.40" height="1.46" fill="rgb(249,249,249)"/><rect x="604.73" y="133.54" width="2.40" height="1.46" fill="rgb(249,249,249)"/><rect x="604.73" y="134.96" width="2.40" height="1.46" fill="rgb(220,220,220)"/><rect x="604.73" y="136.37" width="2.40" height="1.46" fill="rgb(226,226,226)"/><rect x="604.73" y="137.78" width="2.40" height="1.46" fill="rgb(243,243,243)"/><rect x="604.73" y="139.19" width="2.40" height="1.46" fill="rgb(241,241,241)"/><rect x="604.73" y="140.60" width="2.40" height="1.46" fill="rgb(234,234,234)"/><rect x="604.73" y="142.02" width="2.40" height="1.46" fill="rgb(241,241,241)"/><rect x="604.73" y="143.43" width="2.40" height="1.46" fill="rgb(229,229,229)"/><rect x="604.73" y="144.84" width="2.40" height="1.46" fill="rgb(222,222,222)"/><rect x="604.73" y="146.25" width="2.40" height="1.46" fill="rgb(219,219,219)"/><rect x="604.73" y="147.66" width="2.40" height="1.46" fill="rgb(211,211,211)"/><rect x="604.73" y="149.08" width="2.40" height="1.46" fill="rgb(227,227,227)"/><rect x="604.73" y="150.49" width="2.40" height="1.46" fill="rgb(213,213,213)"/><rect x="604.73" y="151.90" width="2.40" height="1.46" fill="rgb(211,211,211)"/><rect x="604.73" y="153.31" width="2.40" height="1.46" fill="rgb(174,174,174)"/><rect x="604.73" y="154.72" width="2.40" height="1.46" fill="rgb(128,128,128)"/><rect x="604.73" y="156.14" width="2.40" height="1.46" fill="rgb(94,94,94)"/><rect x="604.73" y="157.55" width="2.40" height="1.46" fill="rgb(62,62,62)"/><rect x="604.73" y="158.96" width="2.40" height="1.46" fill="rgb(73,73,73)"/><rect x="604.73" y="160.37" width="2.40" height="1.46" fill="rgb(63,63,63)"/><rect x="604.73" y="161.78" width="2.40" height="1.46" fill="rgb(133,133,133)"/><rect x="604.73" y="163.20" width="2.40" height="1.46" fill="rgb(143,143,143)"/><rect x="604.73" y="164.61" width="2.40" height="1.46" fill="rgb(71,71,71)"/><rect x="604.73" y="166.02" width="2.40" height="1.46" fill="rgb(104,104,104)"/><rect x="604.73" y="167.43" width="2.40" height="1.46" fill="rgb(110,110,110)"/><rect x="604.73" y="168.84" width="2.40" height="1.46" fill="rgb(143,143,143)"/><rect x="604.73" y="170.26" width="2.40" height="1.46" fill="rgb(202,202,202)"/><rect x="604.73" y="171.67" width="2.40" height="1.46" fill="rgb(205,205,205)"/><rect x="604.73" y="173.08" width="2.40" height="1.46" fill="rgb(205,205,205)"/><rect x="604.73" y="174.49" width="2.40" height="1.46" fill="rgb(218,218,218)"/><rect x="604.73" y="175.90" width="2.40" height="1.46" fill="rgb(227,227,227)"/><rect x="604.73" y="177.32" width="2.40" height="1.46" fill="rgb(233,233,233)"/><rect x="604.73" y="178.73" width="2.40" height="1.46" fill="rgb(234,234,234)"/><rect x="604.73" y="180.14" width="2.40" height="1.46" fill="rgb(240,240,240)"/><rect x="604.73" y="181.55" width="2.40" height="1.46" fill="rgb(235,235,235)"/><rect x="604.73" y="182.96" width="2.40" height="1.46" fill="rgb(241,241,241)"/><rect x="604.73" y="184.38" width="2.40" height="1.46" fill="rgb(249,249,249)"/><rect x="604.73" y="185.79" width="2.40" height="1.46" fill="rgb(250,250,250)"/><rect x="607.08" y="132.13" width="2.40" height="1.46" fill="rgb(248,248,248)"/><rect x="607.08" y="133.54" width="2.40" height="1.46" fill="rgb(249,249,249)"/><rect x="607.08" y="134.96" width="2.40" height="1.46" fill="rgb(247,247,247)"/><rect x="607.08" y="136.37" width="2.40" height="1.46" fill="rgb(232,232,232)"/><rect x="607.08" y="137.78" width="2.40" height="1.46" fill="rgb(232,232,232)"/><rect x="607.08" y="139.19" width="2.40" height="1.46" fill="rgb(246,246,246)"/><rect x="607.08" y="140.60" width="2.40" height="1.46" fill="rgb(236,236,236)"/><rect x="607.08" y="142.02" width="2.40" height="1.46" fill="rgb(235,235,235)"/><rect x="607.08" y="143.43" width="2.40" height="1.46" fill="rgb(227,227,227)"/><rect x="607.08" y="144.84" width="2.40" height="1.46" fill="rgb(239,239,239)"/><rect x="607.08" y="146.25" width="2.40" height="1.46" fill="rgb(233,233,233)"/><rect x="607.08" y="147.66" width="2.40" height="1.46" fill="rgb(217,217,217)"/><rect x="607.08" y="149.08" width="2.40" height="1.46" fill="rgb(223,223,223)"/><rect x="607.08" y="150.49" width="2.40" height="1.46" fill="rgb(202,202,202)"/><rect x="607.08" y="151.90" width="2.40" height="1.46" fill="rgb(190,190,190)"/><rect x="607.08" y="153.31" width="2.40" height="1.46" fill="rgb(143,143,143)"/><rect x="607.08" y="154.72" width="2.40" height="1.46" fill="rgb(160,160,160)"/><rect x="607.08" y="156.14" width="2.40" height="1.46" fill="rgb(109,109,109)"/><rect x="607.08" y="157.55" width="2.40" height="1.46" fill="rgb(135,135,135)"/><rect x="607.08" y="158.96" width="2.40" height="1.46" fill="rgb(91,91,91)"/><rect x="607.08" y="160.37" width="2.40" height="1.46" fill="rgb(72,72,72)"/><rect x="607.08" y="161.78" width="2.40" height="1.46" fill="rgb(145,145,145)"/><rect x="607.08" y="163.20" width="2.40" height="1.46" fill="rgb(84,84,84)"/><rect x="607.08" y="164.61" width="2.40" height="1.46" fill="rgb(175,175,175)"/><rect x="607.08" y="166.02" width="2.40" height="1.46" fill="rgb(161,161,161)"/><rect x="607.08" y="167.43" width="2.40" height="1.46" fill="rgb(174,174,174)"/><rect x="607.08" y="168.84" width="2.40" height="1.46" fill="rgb(182,182,182)"/><rect x="607.08" y="170.26" width="2.40" height="1.46" fill="rgb(192,192,192)"/><rect x="607.08" y="171.67" width="2.40" height="1.46" fill="rgb(207,207,207)"/><rect x="607.08" y="173.08" width="2.40" height="1.46" fill="rgb(224,224,224)"/><rect x="607.08" y="174.49" width="2.40" height="1.46" fill="rgb(229,229,229)"/><rect x="607.08" y="175.90" width="2.40" height="1.46" fill="rgb(231,231,231)"/><rect x="607.08" y="177.32" width="2.40" height="1.46" fill="rgb(242,242,242)"/><rect x="607.08" y="178.73" width="2.40" height="1.46" fill="rgb(239,239,239)"/><rect x="607.08" y="180.14" width="2.40" height="1.46" fill="rgb(248,248,248)"/><rect x="607.08" y="181.55" width="2.40" height="1.46" fill="rgb(225,225,225)"/><rect x="607.08" y="182.96" width="2.40" height="1.46" fill="rgb(248,248,248)"/><rect x="607.08" y="184.38" width="2.40" height="1.46" fill="rgb(248,248,248)"/><rect x="607.08" y="185.79" width="2.40" height="1.46" fill="rgb(237,237,237)"/><rect x="609.43" y="130.72" width="2.40" height="1.46" fill="rgb(250,250,250)"/><rect x="609.43" y="132.13" width="2.40" height="1.46" fill="rgb(249,249,249)"/><rect x="609.43" y="133.54" width="2.40" height="1.46" fill="rgb(229,229,229)"/><rect x="609.43" y="134.96" width="2.40" height="1.46" fill="rgb(236,236,236)"/><rect x="609.43" y="136.37" width="2.40" height="1.46" fill="rgb(231,231,231)"/><rect x="609.43" y="137.78" width="2.40" height="1.46" fill="rgb(241,241,241)"/><rect x="609.43" y="139.19" width="2.40" height="1.46" fill="rgb(233,233,233)"/><rect x="609.43" y="140.60" width="2.40" height="1.46" fill="rgb(240,240,240)"/><rect x="609.43" y="142.02" width="2.40" height="1.46" fill="rgb(238,238,238)"/><rect x="609.43" y="143.43" width="2.40" height="1.46" fill="rgb(234,234,234)"/><rect x="609.43" y="144.84" width="2.40" height="1.46" fill="rgb(232,232,232)"/><rect x="609.43" y="146.25" width="2.40" height="1.46" fill="rgb(224,224,224)"/><rect x="609.43" y="147.66" width="2.40" height="1.46" fill="rgb(217,217,217)"/><rect x="609.43" y="149.08" width="2.40" height="1.46" fill="rgb(206,206,206)"/><rect x="609.43" y="150.49" width="2.40" height="1.46" fill="rgb(184,184,184)"/><rect x="609.43" y="151.90" width="2.40" height="1.46" fill="rgb(189,189,189)"/><rect x="609.43" y="153.31" width="2.40" height="1.46" fill="rgb(187,187,187)"/><rect x="609.43" y="154.72" width="2.40" height="1.46" fill="rgb(132,132,132)"/><rect x="609.43" y="156.14" width="2.40" height="1.46" fill="rgb(73,73,73)"/><rect x="609.43" y="157.55" width="2.40" height="1.46" fill="rgb(138,138,138)"/><rect x="609.43" y="158.96" width="2.40" height="1.46" fill="rgb(128,128,128)"/><rect x="609.43" y="160.37" width="2.40" height="1.46" fill="rgb(147,147,147)"/><rect x="609.43" y="161.78" width="2.40" height="1.46" fill="rgb(53,53,53)"/><rect x="609.43" y="163.20" width="2.40" height="1.46" fill="rgb(162,162,162)"/><rect x="609.43" y="164.61" width="2.40" height="1.46" fill="rgb(147,147,147)"/><rect x="609.43" y="166.02" width="2.40" height="1.46" fill="rgb(183,183,183)"/><rect x="609.43" y="167.43" width="2.40" height="1.46" fill="rgb(155,155,155)"/><rect x="609.43" y="168.84" width="2.40" height="1.46" fill="rgb(207,207,207)"/><rect x="609.43" y="170.26" width="2.40" height="1.46" fill="rgb(201,201,201)"/><rect x="609.43" y="171.67" width="2.40" height="1.46" fill="rgb(209,209,209)"/><rect x="609.43" y="173.08" width="2.40" height="1.46" fill="rgb(229,229,229)"/><rect x="609.43" y="174.49" width="2.40" height="1.46" fill="rgb(239,239,239)"/><rect x="609.43" y="175.90" width="2.40" height="1.46" fill="rgb(241,241,241)"/><rect x="609.43" y="177.32" width="2.40" height="1.46" fill="rgb(238,238,238)"/><rect x="609.43" y="178.73" width="2.40" height="1.46" fill="rgb(242,242,242)"/><rect x="609.43" y="180.14" width="2.40" height="1.46" fill="rgb(246,246,246)"/><rect x="609.43" y="181.55" width="2.40" height="1.46" fill="rgb(249,249,249)"/><rect x="609.43" y="182.96" width="2.40" height="1.46" fill="rgb(240,240,240)"/><rect x="609.43" y="184.38" width="2.40" height="1.46" fill="rgb(249,249,249)"/><rect x="611.77" y="132.13" width="2.40" height="1.46" fill="rgb(241,241,241)"/><rect x="611.77" y="133.54" width="2.40" height="1.46" fill="rgb(247,247,247)"/><rect x="611.77" y="134.96" width="2.40" height="1.46" fill="rgb(248,248,248)"/><rect x="611.77" y="136.37" width="2.40" height="1.46" fill="rgb(244,244,244)"/><rect x="611.77" y="137.78" width="2.40" height="1.46" fill="rgb(240,240,240)"/><rect x="611.77" y="139.19" width="2.40" height="1.46" fill="rgb(245,245,245)"/><rect x="611.77" y="140.60" width="2.40" height="1.46" fill="rgb(235,235,235)"/><rect x="611.77" y="142.02" width="2.40" height="1.46" fill="rgb(233,233,233)"/><rect x="611.77" y="143.43" width="2.40" height="1.46" fill="rgb(232,232,232)"/><rect x="611.77" y="144.84" width="2.40" height="1.46" fill="rgb(234,234,234)"/><rect x="611.77" y="146.25" width="2.40" height="1.46" fill="rgb(228,228,228)"/><rect x="611.77" y="147.66" width="2.40" height="1.46" fill="rgb(209,209,209)"/><rect x="611.77" y="149.08" width="2.40" height="1.46" fill="rgb(198,198,198)"/><rect x="611.77" y="150.49" width="2.40" height="1.46" fill="rgb(176,176,176)"/><rect x="611.77" y="151.90" width="2.40" height="1.46" fill="rgb(190,190,190)"/><rect x="611.77" y="153.31" width="2.40" height="1.46" fill="rgb(152,152,152)"/><rect x="611.77" y="154.72" width="2.40" height="1.46" fill="rgb(128,128,128)"/><rect x="611.77" y="156.14" width="2.40" height="1.46" fill="rgb(84,84,84)"/><rect x="611.77" y="157.55" width="2.40" height="1.46" fill="rgb(126,126,126)"/><rect x="611.77" y="158.96" width="2.40" height="1.46" fill="rgb(147,147,147)"/><rect x="611.77" y="160.37" width="2.40" height="1.46" fill="rgb(103,103,103)"/><rect x="611.77" y="161.78" width="2.40" height="1.46" fill="rgb(104,104,104)"/><rect x="611.77" y="163.20" width="2.40" height="1.46" fill="rgb(120,120,120)"/><rect x="611.77" y="164.61" width="2.40" height="1.46" fill="rgb(152,152,152)"/><rect x="611.77" y="166.02" width="2.40" height="1.46" fill="rgb(192,192,192)"/><rect x="611.77" y="167.43" width="2.40" height="1.46" fill="rgb(201,201,201)"/><rect x="611.77" y="168.84" width="2.40" height="1.46" fill="rgb(195,195,195)"/><rect x="611.77" y="170.26" width="2.40" height="1.46" fill="rgb(209,209,209)"/><rect x="611.77" y="171.67" width="2.40" height="1.46" fill="rgb(233,233,233)"/><rect x="611.77" y="173.08" width="2.40" height="1.46" fill="rgb(235,235,235)"/><rect x="611.77" y="174.49" width="2.40" height="1.46" fill="rgb(233,233,233)"/><rect x="611.77" y="175.90" width="2.40" height="1.46" fill="rgb(242,242,242)"/><rect x="611.77" y="177.32" width="2.40" height="1.46" fill="rgb(245,245,245)"/><rect x="611.77" y="178.73" width="2.40" height="1.46" fill="rgb(245,245,245)"/><rect x="611.77" y="180.14" width="2.40" height="1.46" fill="rgb(249,249,249)"/><rect x="611.77" y="181.55" width="2.40" height="1.46" fill="rgb(248,248,248)"/><rect x="611.77" y="182.96" width="2.40" height="1.46" fill="rgb(250,250,250)"/><rect x="611.77" y="184.38" width="2.40" height="1.46" fill="rgb(250,250,250)"/><rect x="611.77" y="185.79" width="2.40" height="1.46" fill="rgb(239,239,239)"/><rect x="614.12" y="130.72" width="2.40" height="1.46" fill="rgb(251,251,251)"/><rect x="614.12" y="132.13" width="2.40" height="1.46" fill="rgb(250,250,250)"/><rect x="614.12" y="133.54" width="2.40" height="1.46" fill="rgb(239,239,239)"/><rect x="614.12" y="134.96" width="2.40" height="1.46" fill="rgb(248,248,248)"/><rect x="614.12" y="136.37" width="2.40" height="1.46" fill="rgb(227,227,227)"/><rect x="614.12" y="137.78" width="2.40" height="1.46" fill="rgb(243,243,243)"/><rect x="614.12" y="139.19" width="2.40" height="1.46" fill="rgb(237,237,237)"/><rect x="614.12" y="140.60" width="2.40" height="1.46" fill="rgb(232,232,232)"/><rect x="614.12" y="142.02" width="2.40" height="1.46" fill="rgb(239,239,239)"/><rect x="614.12" y="143.43" width="2.40" height="1.46" fill="rgb(224,224,224)"/><rect x="614.12" y="144.84" width="2.40" height="1.46" fill="rgb(218,218,218)"/><rect x="614.12" y="146.25" width="2.40" height="1.46" fill="rgb(205,205,205)"/><rect x="614.12" y="147.66" width="2.40" height="1.46" fill="rgb(220,220,220)"/><rect x="614.12" y="149.08" width="2.40" height="1.46" fill="rgb(192,192,192)"/><rect x="614.12" y="150.49" width="2.40" height="1.46" fill="rgb(194,194,194)"/><rect x="614.12" y="151.90" width="2.40" height="1.46" fill="rgb(144,144,144)"/><rect x="614.12" y="153.31" width="2.40" height="1.46" fill="rgb(136,136,136)"/><rect x="614.12" y="154.72" width="2.40" height="1.46" fill="rgb(87,87,87)"/><rect x="614.12" y="156.14" width="2.40" height="1.46" fill="rgb(144,144,144)"/><rect x="614.12" y="157.55" width="2.40" height="1.46" fill="rgb(148,148,148)"/><rect x="614.12" y="158.96" width="2.40" height="1.46" fill="rgb(67,67,67)"/><rect x="614.12" y="160.37" width="2.40" height="1.46" fill="rgb(131,131,131)"/><rect x="614.12" y="161.78" width="2.40" height="1.46" fill="rgb(162,162,162)"/><rect x="614.12" y="163.20" width="2.40" height="1.46" fill="rgb(156,156,156)"/><rect x="614.12" y="164.61" width="2.40" height="1.46" fill="rgb(170,170,170)"/><rect x="614.12" y="166.02" width="2.40" height="1.46" fill="rgb(187,187,187)"/><rect x="614.12" y="167.43" width="2.40" height="1.46" fill="rgb(202,202,202)"/><rect x="614.12" y="168.84" width="2.40" height="1.46" fill="rgb(223,223,223)"/><rect x="614.12" y="170.26" width="2.40" height="1.46" fill="rgb(218,218,218)"/><rect x="614.12" y="171.67" width="2.40" height="1.46" fill="rgb(229,229,229)"/><rect x="614.12" y="173.08" width="2.40" height="1.46" fill="rgb(235,235,235)"/><rect x="614.12" y="174.49" width="2.40" height="1.46" fill="rgb(236,236,236)"/><rect x="614.12" y="175.90" width="2.40" height="1.46" fill="rgb(244,244,244)"/><rect x="614.12" y="177.32" width="2.40" height="1.46" fill="rgb(228,228,228)"/><rect x="614.12" y="178.73" width="2.40" height="1.46" fill="rgb(246,246,246)"/><rect x="614.12" y="180.14" width="2.40" height="1.46" fill="rgb(250,250,250)"/><rect x="614.12" y="181.55" width="2.40" height="1.46" fill="rgb(227,227,227)"/><rect x="614.12" y="182.96" width="2.40" height="1.46" fill="rgb(242,242,242)"/><rect x="616.47" y="132.13" width="2.40" height="1.46" fill="rgb(249,249,249)"/><rect x="616.47" y="133.54" width="2.40" height="1.46" fill="rgb(247,247,247)"/><rect x="616.47" y="134.96" width="2.40" height="1.46" fill="rgb(245,245,245)"/><rect x="616.47" y="136.37" width="2.40" height="1.46" fill="rgb(242,242,242)"/><rect x="616.47" y="137.78" width="2.40" height="1.46" fill="rgb(245,245,245)"/><rect x="616.47" y="139.19" width="2.40" height="1.46" fill="rgb(221,221,221)"/><rect x="616.47" y="140.60" width="2.40" height="1.46" fill="rgb(222,222,222)"/><rect x="616.47" y="142.02" width="2.40" height="1.46" fill="rgb(227,227,227)"/><rect x="616.47" y="143.43" width="2.40" height="1.46" fill="rgb(233,233,233)"/><rect x="616.47" y="144.84" width="2.40" height="1.46" fill="rgb(217,217,217)"/><rect x="616.47" y="146.25" width="2.40" height="1.46" fill="rgb(201,201,201)"/><rect x="616.47" y="147.66" width="2.40" height="1.46" fill="rgb(211,211,211)"/><rect x="616.47" y="149.08" width="2.40" height="1.46" fill="rgb(212,212,212)"/><rect x="616.47" y="150.49" width="2.40" height="1.46" fill="rgb(198,198,198)"/><rect x="616.47" y="151.90" width="2.40" height="1.46" fill="rgb(163,163,163)"/><rect x="616.47" y="153.31" width="2.40" height="1.46" fill="rgb(114,114,114)"/><rect x="616.47" y="154.72" width="2.40" height="1.46" fill="rgb(165,165,165)"/><rect x="616.47" y="156.14" width="2.40" height="1.46" fill="rgb(91,91,91)"/><rect x="616.47" y="157.55" width="2.40" height="1.46" fill="rgb(169,169,169)"/><rect x="616.47" y="158.96" width="2.40" height="1.46" fill="rgb(146,146,146)"/><rect x="616.47" y="160.37" width="2.40" height="1.46" fill="rgb(168,168,168)"/><rect x="616.47" y="161.78" width="2.40" height="1.46" fill="rgb(171,171,171)"/><rect x="616.47" y="163.20" width="2.40" height="1.46" fill="rgb(172,172,172)"/><rect x="616.47" y="164.61" width="2.40" height="1.46" fill="rgb(201,201,201)"/><rect x="616.47" y="166.02" width="2.40" height="1.46" fill="rgb(210,210,210)"/><rect x="616.47" y="167.43" width="2.40" height="1.46" fill="rgb(206,206,206)"/><rect x="616.47" y="168.84" width="2.40" height="1.46" fill="rgb(229,229,229)"/><rect x="616.47" y="170.26" width="2.40" height="1.46" fill="rgb(227,227,227)"/><rect x="616.47" y="171.67" width="2.40" height="1.46" fill="rgb(239,239,239)"/><rect x="616.47" y="173.08" width="2.40" height="1.46" fill="rgb(237,237,237)"/><rect x="616.47" y="174.49" width="2.40" height="1.46" fill="rgb(240,240,240)"/><rect x="616.47" y="175.90" width="2.40" height="1.46" fill="rgb(243,243,243)"/><rect x="616.47" y="177.32" width="2.40" height="1.46" fill="rgb(248,248,248)"/><rect x="616.47" y="178.73" width="2.40" height="1.46" fill="rgb(250,250,250)"/><rect x="616.47" y="180.14" width="2.40" height="1.46" fill="rgb(230,230,230)"/><rect x="616.47" y="181.55" width="2.40" height="1.46" fill="rgb(231,231,231)"/><rect x="616.47" y="182.96" width="2.40" height="1.46" fill="rgb(251,251,251)"/><rect x="618.81" y="127.90" width="2.40" height="1.46" fill="rgb(251,251,251)"/><rect x="618.81" y="130.72" width="2.40" height="1.46" fill="rgb(251,251,251)"/><rect x="618.81" y="132.13" width="2.40" height="1.46" fill="rgb(250,250,250)"/><rect x="618.81" y="133.54" width="2.40" height="1.46" fill="rgb(246,246,246)"/><rect x="618.81" y="134.96" width="2.40" height="1.46" fill="rgb(248,248,248)"/><rect x="618.81" y="136.37" width="2.40" height="1.46" fill="rgb(246,246,246)"/><rect x="618.81" y="137.78" width="2.40" height="1.46" fill="rgb(228,228,228)"/><rect x="618.81" y="139.19" width="2.40" height="1.46" fill="rgb(234,234,234)"/><rect x="618.81" y="140.60" width="2.40" height="1.46" fill="rgb(224,224,224)"/><rect x="618.81" y="142.02" width="2.40" height="1.46" fill="rgb(229,229,229)"/><rect x="618.81" y="143.43" width="2.40" height="1.46" fill="rgb(216,216,216)"/><rect x="618.81" y="144.84" width="2.40" height="1.46" fill="rgb(199,199,199)"/><rect x="618.81" y="146.25" width="2.40" height="1.46" fill="rgb(186,186,186)"/><rect x="618.81" y="147.66" width="2.40" height="1.46" fill="rgb(168,168,168)"/><rect x="618.81" y="149.08" width="2.40" height="1.46" fill="rgb(196,196,196)"/><rect x="618.81" y="150.49" width="2.40" height="1.46" fill="rgb(159,159,159)"/><rect x="618.81" y="151.90" width="2.40" height="1.46" fill="rgb(162,162,162)"/><rect x="618.81" y="153.31" width="2.40" height="1.46" fill="rgb(88,88,88)"/><rect x="618.81" y="154.72" width="2.40" height="1.46" fill="rgb(97,97,97)"/><rect x="618.81" y="156.14" width="2.40" height="1.46" fill="rgb(132,132,132)"/><rect x="618.81" y="157.55" width="2.40" height="1.46" fill="rgb(157,157,157)"/><rect x="618.81" y="158.96" width="2.40" height="1.46" fill="rgb(114,114,114)"/><rect x="618.81" y="160.37" width="2.40" height="1.46" fill="rgb(124,124,124)"/><rect x="618.81" y="161.78" width="2.40" height="1.46" fill="rgb(157,157,157)"/><rect x="618.81" y="163.20" width="2.40" height="1.46" fill="rgb(174,174,174)"/><rect x="618.81" y="164.61" width="2.40" height="1.46" fill="rgb(185,185,185)"/><rect x="618.81" y="166.02" width="2.40" height="1.46" fill="rgb(225,225,225)"/><rect x="618.81" y="167.43" width="2.40" height="1.46" fill="rgb(223,223,223)"/><rect x="618.81" y="168.84" width="2.40" height="1.46" fill="rgb(236,236,236)"/><rect x="618.81" y="170.26" width="2.40" height="1.46" fill="rgb(232,232,232)"/><rect x="618.81" y="171.67" width="2.40" height="1.46" fill="rgb(234,234,234)"/><rect x="618.81" y="173.08" width="2.40" height="1.46" fill="rgb(238,238,238)"/><rect x="618.81" y="174.49" width="2.40" height="1.46" fill="rgb(247,247,247)"/><rect x="618.81" y="175.90" width="2.40" height="1.46" fill="rgb(246,246,246)"/><rect x="618.81" y="177.32" width="2.40" height="1.46" fill="rgb(246,246,246)"/><rect x="618.81" y="178.73" width="2.40" height="1.46" fill="rgb(248,248,248)"/><rect x="618.81" y="180.14" width="2.40" height="1.46" fill="rgb(251,251,251)"/><rect x="618.81" y="181.55" width="2.40" height="1.46" fill="rgb(251,251,251)"/><rect x="621.16" y="127.90" width="2.40" height="1.46" fill="rgb(242,242,242)"/><rect x="621.16" y="132.13" width="2.40" height="1.46" fill="rgb(250,250,250)"/><rect x="621.16" y="133.54" width="2.40" height="1.46" fill="rgb(230,230,230)"/><rect x="621.16" y="134.96" width="2.40" height="1.46" fill="rgb(243,243,243)"/><rect x="621.16" y="136.37" width="2.40" height="1.46" fill="rgb(248,248,248)"/><rect x="621.16" y="137.78" width="2.40" height="1.46" fill="rgb(245,245,245)"/><rect x="621.16" y="139.19" width="2.40" height="1.46" fill="rgb(234,234,234)"/><rect x="621.16" y="140.60" width="2.40" height="1.46" fill="rgb(231,231,231)"/><rect x="621.16" y="142.02" width="2.40" height="1.46" fill="rgb(233,233,233)"/><rect x="621.16" y="143.43" width="2.40" height="1.46" fill="rgb(221,221,221)"/><rect x="621.16" y="144.84" width="2.40" height="1.46" fill="rgb(196,196,196)"/><rect x="621.16" y="146.25" width="2.40" height="1.46" fill="rgb(211,211,211)"/><rect x="621.16" y="147.66" width="2.40" height="1.46" fill="rgb(184,184,184)"/><rect x="621.16" y="149.08" width="2.40" height="1.46" fill="rgb(187,187,187)"/><rect x="621.16" y="150.49" width="2.40" height="1.46" fill="rgb(141,141,141)"/><rect x="621.16" y="151.90" width="2.40" height="1.46" fill="rgb(146,146,146)"/><rect x="621.16" y="153.31" width="2.40" height="1.46" fill="rgb(129,129,129)"/><rect x="621.16" y="154.72" width="2.40" height="1.46" fill="rgb(155,155,155)"/><rect x="621.16" y="156.14" width="2.40" height="1.46" fill="rgb(150,150,150)"/><rect x="621.16" y="157.55" width="2.40" height="1.46" fill="rgb(137,137,137)"/><rect x="621.16" y="158.96" width="2.40" height="1.46" fill="rgb(137,137,137)"/><rect x="621.16" y="160.37" width="2.40" height="1.46" fill="rgb(187,187,187)"/><rect x="621.16" y="161.78" width="2.40" height="1.46" fill="rgb(213,213,213)"/><rect x="621.16" y="163.20" width="2.40" height="1.46" fill="rgb(217,217,217)"/><rect x="621.16" y="164.61" width="2.40" height="1.46" fill="rgb(208,208,208)"/><rect x="621.16" y="166.02" width="2.40" height="1.46" fill="rgb(219,219,219)"/><rect x="621.16" y="167.43" width="2.40" height="1.46" fill="rgb(232,232,232)"/><rect x="621.16" y="168.84" width="2.40" height="1.46" fill="rgb(223,223,223)"/><rect x="621.16" y="170.26" width="2.40" height="1.46" fill="rgb(237,237,237)"/><rect x="621.16" y="171.67" width="2.40" height="1.46" fill="rgb(232,232,232)"/><rect x="621.16" y="173.08" width="2.40" height="1.46" fill="rgb(243,243,243)"/><rect x="621.16" y="174.49" width="2.40" height="1.46" fill="rgb(247,247,247)"/><rect x="621.16" y="175.90" width="2.40" height="1.46" fill="rgb(231,231,231)"/><rect x="621.16" y="177.32" width="2.40" height="1.46" fill="rgb(249,249,249)"/><rect x="621.16" y="178.73" width="2.40" height="1.46" fill="rgb(231,231,231)"/><rect x="621.16" y="180.14" width="2.40" height="1.46" fill="rgb(250,250,250)"/><rect x="623.51" y="127.90" width="2.40" height="1.46" fill="rgb(236,236,236)"/><rect x="623.51" y="129.31" width="2.40" height="1.46" fill="rgb(251,251,251)"/><rect x="623.51" y="130.72" width="2.40" height="1.46" fill="rgb(250,250,250)"/><rect x="623.51" y="132.13" width="2.40" height="1.46" fill="rgb(249,249,249)"/><rect x="623.51" y="133.54" width="2.40" height="1.46" fill="rgb(244,244,244)"/><rect x="623.51" y="134.96" width="2.40" height="1.46" fill="rgb(242,242,242)"/><rect x="623.51" y="136.37" width="2.40" height="1.46" fill="rgb(239,239,239)"/><rect x="623.51" y="137.78" width="2.40" height="1.46" fill="rgb(241,241,241)"/><rect x="623.51" y="139.19" width="2.40" height="1.46" fill="rgb(229,229,229)"/><rect x="623.51" y="140.60" width="2.40" height="1.46" fill="rgb(229,229,229)"/><rect x="623.51" y="142.02" width="2.40" height="1.46" fill="rgb(217,217,217)"/><rect x="623.51" y="143.43" width="2.40" height="1.46" fill="rgb(214,214,214)"/><rect x="623.51" y="144.84" width="2.40" height="1.46" fill="rgb(204,204,204)"/><rect x="623.51" y="146.25" width="2.40" height="1.46" fill="rgb(190,190,190)"/><rect x="623.51" y="147.66" width="2.40" height="1.46" fill="rgb(194,194,194)"/><rect x="623.51" y="149.08" width="2.40" height="1.46" fill="rgb(132,132,132)"/><rect x="623.51" y="150.49" width="2.40" height="1.46" fill="rgb(176,176,176)"/><rect x="623.51" y="151.90" width="2.40" height="1.46" fill="rgb(146,146,146)"/><rect x="623.51" y="153.31" width="2.40" height="1.46" fill="rgb(119,119,119)"/><rect x="623.51" y="154.72" width="2.40" height="1.46" fill="rgb(95,95,95)"/><rect x="623.51" y="156.14" width="2.40" height="1.46" fill="rgb(168,168,168)"/><rect x="623.51" y="157.55" width="2.40" height="1.46" fill="rgb(169,169,169)"/><rect x="623.51" y="158.96" width="2.40" height="1.46" fill="rgb(185,185,185)"/><rect x="623.51" y="160.37" width="2.40" height="1.46" fill="rgb(163,163,163)"/><rect x="623.51" y="161.78" width="2.40" height="1.46" fill="rgb(187,187,187)"/><rect x="623.51" y="163.20" width="2.40" height="1.46" fill="rgb(203,203,203)"/><rect x="623.51" y="164.61" width="2.40" height="1.46" fill="rgb(226,226,226)"/><rect x="623.51" y="166.02" width="2.40" height="1.46" fill="rgb(232,232,232)"/><rect x="623.51" y="167.43" width="2.40" height="1.46" fill="rgb(239,239,239)"/><rect x="623.51" y="168.84" width="2.40" height="1.46" fill="rgb(237,237,237)"/><rect x="623.51" y="170.26" width="2.40" height="1.46" fill="rgb(225,225,225)"/><rect x="623.51" y="171.67" width="2.40" height="1.46" fill="rgb(244,244,244)"/><rect x="623.51" y="173.08" width="2.40" height="1.46" fill="rgb(245,245,245)"/><rect x="623.51" y="174.49" width="2.40" height="1.46" fill="rgb(239,239,239)"/><rect x="623.51" y="175.90" width="2.40" height="1.46" fill="rgb(249,249,249)"/><rect x="623.51" y="177.32" width="2.40" height="1.46" fill="rgb(251,251,251)"/><rect x="623.51" y="178.73" width="2.40" height="1.46" fill="rgb(232,232,232)"/><rect x="623.51" y="180.14" width="2.40" height="1.46" fill="rgb(230,230,230)"/><rect x="625.85" y="126.48" width="2.40" height="1.46" fill="rgb(251,251,251)"/><rect x="625.85" y="127.90" width="2.40" height="1.46" fill="rgb(250,250,250)"/><rect x="625.85" y="129.31" width="2.40" height="1.46" fill="rgb(249,249,249)"/><rect x="625.85" y="130.72" width="2.40" height="1.46" fill="rgb(250,250,250)"/><rect x="625.85" y="132.13" width="2.40" height="1.46" fill="rgb(250,250,250)"/><rect x="625.85" y="133.54" width="2.40" height="1.46" fill="rgb(243,243,243)"/><rect x="625.85" y="134.96" width="2.40" height="1.46" fill="rgb(244,244,244)"/><rect x="625.85" y="136.37" width="2.40" height="1.46" fill="rgb(235,235,235)"/><rect x="625.85" y="137.78" width="2.40" height="1.46" fill="rgb(234,234,234)"/><rect x="625.85" y="139.19" width="2.40" height="1.46" fill="rgb(223,223,223)"/><rect x="625.85" y="140.60" width="2.40" height="1.46" fill="rgb(227,227,227)"/><rect x="625.85" y="142.02" width="2.40" height="1.46" fill="rgb(227,227,227)"/><rect x="625.85" y="143.43" width="2.40" height="1.46" fill="rgb(216,216,216)"/><rect x="625.85" y="144.84" width="2.40" height="1.46" fill="rgb(171,171,171)"/><rect x="625.85" y="146.25" width="2.40" height="1.46" fill="rgb(172,172,172)"/><rect x="625.85" y="147.66" width="2.40" height="1.46" fill="rgb(161,161,161)"/><rect x="625.85" y="149.08" width="2.40" height="1.46" fill="rgb(111,111,111)"/><rect x="625.85" y="150.49" width="2.40" height="1.46" fill="rgb(158,158,158)"/><rect x="625.85" y="151.90" width="2.40" height="1.46" fill="rgb(135,135,135)"/><rect x="625.85" y="153.31" width="2.40" height="1.46" fill="rgb(154,154,154)"/><rect x="625.85" y="154.72" width="2.40" height="1.46" fill="rgb(157,157,157)"/><rect x="625.85" y="156.14" width="2.40" height="1.46" fill="rgb(174,174,174)"/><rect x="625.85" y="157.55" width="2.40" height="1.46" fill="rgb(185,185,185)"/><rect x="625.85" y="158.96" width="2.40" height="1.46" fill="rgb(204,204,204)"/><rect x="625.85" y="160.37" width="2.40" height="1.46" fill="rgb(218,218,218)"/><rect x="625.85" y="161.78" width="2.40" height="1.46" fill="rgb(205,205,205)"/><rect x="625.85" y="163.20" width="2.40" height="1.46" fill="rgb(214,214,214)"/><rect x="625.85" y="164.61" width="2.40" height="1.46" fill="rgb(232,232,232)"/><rect x="625.85" y="166.02" width="2.40" height="1.46" fill="rgb(232,232,232)"/><rect x="625.85" y="167.43" width="2.40" height="1.46" fill="rgb(238,238,238)"/><rect x="625.85" y="168.84" width="2.40" height="1.46" fill="rgb(236,236,236)"/><rect x="625.85" y="170.26" width="2.40" height="1.46" fill="rgb(247,247,247)"/><rect x="625.85" y="171.67" width="2.40" height="1.46" fill="rgb(250,250,250)"/><rect x="625.85" y="173.08" width="2.40" height="1.46" fill="rgb(238,238,238)"/><rect x="625.85" y="174.49" width="2.40" height="1.46" fill="rgb(251,251,251)"/><rect x="625.85" y="178.73" width="2.40" height="1.46" fill="rgb(237,237,237)"/><rect x="628.20" y="126.48" width="2.40" height="1.46" fill="rgb(243,243,243)"/><rect x="628.20" y="127.90" width="2.40" height="1.46" fill="rgb(249,249,249)"/><rect x="628.20" y="129.31" width="2.40" height="1.46" fill="rgb(250,250,250)"/><rect x="628.20" y="130.72" width="2.40" height="1.46" fill="rgb(249,249,249)"/><rect x="628.20" y="132.13" width="2.40" height="1.46" fill="rgb(249,249,249)"/><rect x="628.20" y="133.54" width="2.40" height="1.46" fill="rgb(242,242,242)"/><rect x="628.20" y="134.96" width="2.40" height="1.46" fill="rgb(230,230,230)"/><rect x="628.20" y="136.37" width="2.40" height="1.46" fill="rgb(239,239,239)"/><rect x="628.20" y="137.78" width="2.40" height="1.46" fill="rgb(226,226,226)"/><rect x="628.20" y="139.19" width="2.40" height="1.46" fill="rgb(234,234,234)"/><rect x="628.20" y="140.60" width="2.40" height="1.46" fill="rgb(218,218,218)"/><rect x="628.20" y="142.02" width="2.40" height="1.46" fill="rgb(202,202,202)"/><rect x="628.20" y="143.43" width="2.40" height="1.46" fill="rgb(177,177,177)"/><rect x="628.20" y="144.84" width="2.40" height="1.46" fill="rgb(169,169,169)"/><rect x="628.20" y="146.25" width="2.40" height="1.46" fill="rgb(185,185,185)"/><rect x="628.20" y="147.66" width="2.40" height="1.46" fill="rgb(149,149,149)"/><rect x="628.20" y="149.08" width="2.40" height="1.46" fill="rgb(174,174,174)"/><rect x="628.20" y="150.49" width="2.40" height="1.46" fill="rgb(109,109,109)"/><rect x="628.20" y="151.90" width="2.40" height="1.46" fill="rgb(111,111,111)"/><rect x="628.20" y="153.31" width="2.40" height="1.46" fill="rgb(185,185,185)"/><rect x="628.20" y="154.72" width="2.40" height="1.46" fill="rgb(162,162,162)"/><rect x="628.20" y="156.14" width="2.40" height="1.46" fill="rgb(159,159,159)"/><rect x="628.20" y="157.55" width="2.40" height="1.46" fill="rgb(178,178,178)"/><rect x="628.20" y="158.96" width="2.40" height="1.46" fill="rgb(220,220,220)"/><rect x="628.20" y="160.37" width="2.40" height="1.46" fill="rgb(221,221,221)"/><rect x="628.20" y="161.78" width="2.40" height="1.46" fill="rgb(221,221,221)"/><rect x="628.20" y="163.20" width="2.40" height="1.46" fill="rgb(225,225,225)"/><rect x="628.20" y="164.61" width="2.40" height="1.46" fill="rgb(241,241,241)"/><rect x="628.20" y="166.02" width="2.40" height="1.46" fill="rgb(236,236,236)"/><rect x="628.20" y="167.43" width="2.40" height="1.46" fill="rgb(240,240,240)"/><rect x="628.20" y="168.84" width="2.40" height="1.46" fill="rgb(240,240,240)"/><rect x="628.20" y="170.26" width="2.40" height="1.46" fill="rgb(236,236,236)"/><rect x="628.20" y="171.67" width="2.40" height="1.46" fill="rgb(247,247,247)"/><rect x="628.20" y="173.08" width="2.40" height="1.46" fill="rgb(250,250,250)"/><rect x="628.20" y="175.90" width="2.40" height="1.46" fill="rgb(251,251,251)"/><rect x="630.55" y="123.66" width="2.40" height="1.46" fill="rgb(250,250,250)"/><rect x="630.55" y="125.07" width="2.40" height="1.46" fill="rgb(241,241,241)"/><rect x="630.55" y="126.48" width="2.40" height="1.46" fill="rgb(250,250,250)"/><rect x="630.55" y="127.90" width="2.40" height="1.46" fill="rgb(244,244,244)"/><rect x="630.55" y="129.31" width="2.40" height="1.46" fill="rgb(246,246,246)"/><rect x="630.55" y="130.72" width="2.40" height="1.46" fill="rgb(226,226,226)"/><rect x="630.55" y="132.13" width="2.40" height="1.46" fill="rgb(241,241,241)"/><rect x="630.55" y="133.54" width="2.40" height="1.46" fill="rgb(243,243,243)"/><rect x="630.55" y="134.96" width="2.40" height="1.46" fill="rgb(235,235,235)"/><rect x="630.55" y="136.37" width="2.40" height="1.46" fill="rgb(230,230,230)"/><rect x="630.55" y="137.78" width="2.40" height="1.46" fill="rgb(234,234,234)"/><rect x="630.55" y="139.19" width="2.40" height="1.46" fill="rgb(220,220,220)"/><rect x="630.55" y="140.60" width="2.40" height="1.46" fill="rgb(215,215,215)"/><rect x="630.55" y="142.02" width="2.40" height="1.46" fill="rgb(203,203,203)"/><rect x="630.55" y="143.43" width="2.40" height="1.46" fill="rgb(190,190,190)"/><rect x="630.55" y="144.84" width="2.40" height="1.46" fill="rgb(185,185,185)"/><rect x="630.55" y="146.25" width="2.40" height="1.46" fill="rgb(136,136,136)"/><rect x="630.55" y="147.66" width="2.40" height="1.46" fill="rgb(147,147,147)"/><rect x="630.55" y="149.08" width="2.40" height="1.46" fill="rgb(135,135,135)"/><rect x="630.55" y="150.49" width="2.40" height="1.46" fill="rgb(132,132,132)"/><rect x="630.55" y="151.90" width="2.40" height="1.46" fill="rgb(139,139,139)"/><rect x="630.55" y="153.31" width="2.40" height="1.46" fill="rgb(162,162,162)"/><rect x="630.55" y="154.72" width="2.40" height="1.46" fill="rgb(154,154,154)"/><rect x="630.55" y="156.14" width="2.40" height="1.46" fill="rgb(210,210,210)"/><rect x="630.55" y="157.55" width="2.40" height="1.46" fill="rgb(220,220,220)"/><rect x="630.55" y="158.96" width="2.40" height="1.46" fill="rgb(203,203,203)"/><rect x="630.55" y="160.37" width="2.40" height="1.46" fill="rgb(224,224,224)"/><rect x="630.55" y="161.78" width="2.40" height="1.46" fill="rgb(240,240,240)"/><rect x="630.55" y="163.20" width="2.40" height="1.46" fill="rgb(238,238,238)"/><rect x="630.55" y="164.61" width="2.40" height="1.46" fill="rgb(240,240,240)"/><rect x="630.55" y="166.02" width="2.40" height="1.46" fill="rgb(245,245,245)"/><rect x="630.55" y="167.43" width="2.40" height="1.46" fill="rgb(243,243,243)"/><rect x="630.55" y="168.84" width="2.40" height="1.46" fill="rgb(246,246,246)"/><rect x="630.55" y="170.26" width="2.40" height="1.46" fill="rgb(249,249,249)"/><rect x="630.55" y="171.67" width="2.40" height="1.46" fill="rgb(231,231,231)"/><rect x="630.55" y="173.08" width="2.40" height="1.46" fill="rgb(251,251,251)"/><rect x="630.55" y="174.49" width="2.40" height="1.46" fill="rgb(244,244,244)"/><rect x="632.89" y="120.84" width="2.40" height="1.46" fill="rgb(241,241,241)"/><rect x="632.89" y="125.07" width="2.40" height="1.46" fill="rgb(247,247,247)"/><rect x="632.89" y="126.48" width="2.40" height="1.46" fill="rgb(227,227,227)"/><rect x="632.89" y="127.90" width="2.40" height="1.46" fill="rgb(247,247,247)"/><rect x="632.89" y="129.31" width="2.40" height="1.46" fill="rgb(242,242,242)"/><rect x="632.89" y="130.72" width="2.40" height="1.46" fill="rgb(247,247,247)"/><rect x="632.89" y="132.13" width="2.40" height="1.46" fill="rgb(239,239,239)"/><rect x="632.89" y="133.54" width="2.40" height="1.46" fill="rgb(238,238,238)"/><rect x="632.89" y="134.96" width="2.40" height="1.46" fill="rgb(235,235,235)"/><rect x="632.89" y="136.37" width="2.40" height="1.46" fill="rgb(231,231,231)"/><rect x="632.89" y="137.78" width="2.40" height="1.46" fill="rgb(208,208,208)"/><rect x="632.89" y="139.19" width="2.40" height="1.46" fill="rgb(211,211,211)"/><rect x="632.89" y="140.60" width="2.40" height="1.46" fill="rgb(178,178,178)"/><rect x="632.89" y="142.02" width="2.40" height="1.46" fill="rgb(160,160,160)"/><rect x="632.89" y="143.43" width="2.40" height="1.46" fill="rgb(178,178,178)"/><rect x="632.89" y="144.84" width="2.40" height="1.46" fill="rgb(189,189,189)"/><rect x="632.89" y="146.25" width="2.40" height="1.46" fill="rgb(177,177,177)"/><rect x="632.89" y="147.66" width="2.40" height="1.46" fill="rgb(124,124,124)"/><rect x="632.89" y="149.08" width="2.40" height="1.46" fill="rgb(140,140,140)"/><rect x="632.89" y="150.49" width="2.40" height="1.46" fill="rgb(118,118,118)"/><rect x="632.89" y="151.90" width="2.40" height="1.46" fill="rgb(145,145,145)"/><rect x="632.89" y="153.31" width="2.40" height="1.46" fill="rgb(150,150,150)"/><rect x="632.89" y="154.72" width="2.40" height="1.46" fill="rgb(183,183,183)"/><rect x="632.89" y="156.14" width="2.40" height="1.46" fill="rgb(193,193,193)"/><rect x="632.89" y="157.55" width="2.40" height="1.46" fill="rgb(221,221,221)"/><rect x="632.89" y="158.96" width="2.40" height="1.46" fill="rgb(217,217,217)"/><rect x="632.89" y="160.37" width="2.40" height="1.46" fill="rgb(237,237,237)"/><rect x="632.89" y="161.78" width="2.40" height="1.46" fill="rgb(230,230,230)"/><rect x="632.89" y="163.20" width="2.40" height="1.46" fill="rgb(232,232,232)"/><rect x="632.89" y="164.61" width="2.40" height="1.46" fill="rgb(238,238,238)"/><rect x="632.89" y="166.02" width="2.40" height="1.46" fill="rgb(241,241,241)"/><rect x="632.89" y="167.43" width="2.40" height="1.46" fill="rgb(246,246,246)"/><rect x="632.89" y="168.84" width="2.40" height="1.46" fill="rgb(236,236,236)"/><rect x="632.89" y="170.26" width="2.40" height="1.46" fill="rgb(239,239,239)"/><rect x="632.89" y="171.67" width="2.40" height="1.46" fill="rgb(241,241,241)"/><rect x="632.89" y="173.08" width="2.40" height="1.46" fill="rgb(239,239,239)"/><rect x="632.89" y="174.49" width="2.40" height="1.46" fill="rgb(235,235,235)"/><rect x="635.24" y="119.42" width="2.40" height="1.46" fill="rgb(251,251,251)"/><rect x="635.24" y="120.84" width="2.40" height="1.46" fill="rgb(251,251,251)"/><rect x="635.24" y="123.66" width="2.40" height="1.46" fill="rgb(249,249,249)"/><rect x="635.24" y="125.07" width="2.40" height="1.46" fill="rgb(249,249,249)"/><rect x="635.24" y="126.48" width="2.40" height="1.46" fill="rgb(246,246,246)"/><rect x="635.24" y="127.90" width="2.40" height="1.46" fill="rgb(245,245,245)"/><rect x="635.24" y="129.31" width="2.40" height="1.46" fill="rgb(240,240,240)"/><rect x="635.24" y="130.72" width="2.40" height="1.46" fill="rgb(244,244,244)"/><rect x="635.24" y="132.13" width="2.40" height="1.46" fill="rgb(240,240,240)"/><rect x="635.24" y="133.54" width="2.40" height="1.46" fill="rgb(225,225,225)"/><rect x="635.24" y="134.96" width="2.40" height="1.46" fill="rgb(214,214,214)"/><rect x="635.24" y="136.37" width="2.40" height="1.46" fill="rgb(201,201,201)"/><rect x="635.24" y="137.78" width="2.40" height="1.46" fill="rgb(184,184,184)"/><rect x="635.24" y="139.19" width="2.40" height="1.46" fill="rgb(196,196,196)"/><rect x="635.24" y="140.60" width="2.40" height="1.46" fill="rgb(182,182,182)"/><rect x="635.24" y="142.02" width="2.40" height="1.46" fill="rgb(139,139,139)"/><rect x="635.24" y="143.43" width="2.40" height="1.46" fill="rgb(125,125,125)"/><rect x="635.24" y="144.84" width="2.40" height="1.46" fill="rgb(72,72,72)"/><rect x="635.24" y="146.25" width="2.40" height="1.46" fill="rgb(109,109,109)"/><rect x="635.24" y="147.66" width="2.40" height="1.46" fill="rgb(138,138,138)"/><rect x="635.24" y="149.08" width="2.40" height="1.46" fill="rgb(118,118,118)"/><rect x="635.24" y="150.49" width="2.40" height="1.46" fill="rgb(154,154,154)"/><rect x="635.24" y="151.90" width="2.40" height="1.46" fill="rgb(129,129,129)"/><rect x="635.24" y="153.31" width="2.40" height="1.46" fill="rgb(139,139,139)"/><rect x="635.24" y="154.72" width="2.40" height="1.46" fill="rgb(200,200,200)"/><rect x="635.24" y="156.14" width="2.40" height="1.46" fill="rgb(201,201,201)"/><rect x="635.24" y="157.55" width="2.40" height="1.46" fill="rgb(204,204,204)"/><rect x="635.24" y="158.96" width="2.40" height="1.46" fill="rgb(224,224,224)"/><rect x="635.24" y="160.37" width="2.40" height="1.46" fill="rgb(222,222,222)"/><rect x="635.24" y="161.78" width="2.40" height="1.46" fill="rgb(228,228,228)"/><rect x="635.24" y="163.20" width="2.40" height="1.46" fill="rgb(241,241,241)"/><rect x="635.24" y="164.61" width="2.40" height="1.46" fill="rgb(242,242,242)"/><rect x="635.24" y="166.02" width="2.40" height="1.46" fill="rgb(238,238,238)"/><rect x="635.24" y="167.43" width="2.40" height="1.46" fill="rgb(248,248,248)"/><rect x="635.24" y="168.84" width="2.40" height="1.46" fill="rgb(233,233,233)"/><rect x="635.24" y="170.26" width="2.40" height="1.46" fill="rgb(250,250,250)"/><rect x="635.24" y="171.67" width="2.40" height="1.46" fill="rgb(249,249,249)"/><rect x="637.59" y="119.42" width="2.40" height="1.46" fill="rgb(251,251,251)"/><rect x="637.59" y="120.84" width="2.40" height="1.46" fill="rgb(251,251,251)"/><rect x="637.59" y="122.25" width="2.40" height="1.46" fill="rgb(247,247,247)"/><rect x="637.59" y="123.66" width="2.40" height="1.46" fill="rgb(249,249,249)"/><rect x="637.59" y="125.07" width="2.40" height="1.46" fill="rgb(223,223,223)"/><rect x="637.59" y="126.48" width="2.40" height="1.46" fill="rgb(248,248,248)"/><rect x="637.59" y="127.90" width="2.40" height="1.46" fill="rgb(243,243,243)"/><rect x="637.59" y="129.31" width="2.40" height="1.46" fill="rgb(222,222,222)"/><rect x="637.59" y="130.72" width="2.40" height="1.46" fill="rgb(234,234,234)"/><rect x="637.59" y="132.13" width="2.40" height="1.46" fill="rgb(238,238,238)"/><rect x="637.59" y="133.54" width="2.40" height="1.46" fill="rgb(216,216,216)"/><rect x="637.59" y="134.96" width="2.40" height="1.46" fill="rgb(224,224,224)"/><rect x="637.59" y="136.37" width="2.40" height="1.46" fill="rgb(211,211,211)"/><rect x="637.59" y="137.78" width="2.40" height="1.46" fill="rgb(207,207,207)"/><rect x="637.59" y="139.19" width="2.40" height="1.46" fill="rgb(174,174,174)"/><rect x="637.59" y="140.60" width="2.40" height="1.46" fill="rgb(163,163,163)"/><rect x="637.59" y="142.02" width="2.40" height="1.46" fill="rgb(118,118,118)"/><rect x="637.59" y="143.43" width="2.40" height="1.46" fill="rgb(145,145,145)"/><rect x="637.59" y="144.84" width="2.40" height="1.46" fill="rgb(61,61,61)"/><rect x="637.59" y="146.25" width="2.40" height="1.46" fill="rgb(143,143,143)"/><rect x="637.59" y="147.66" width="2.40" height="1.46" fill="rgb(156,156,156)"/><rect x="637.59" y="149.08" width="2.40" height="1.46" fill="rgb(86,86,86)"/><rect x="637.59" y="150.49" width="2.40" height="1.46" fill="rgb(147,147,147)"/><rect x="637.59" y="151.90" width="2.40" height="1.46" fill="rgb(182,182,182)"/><rect x="637.59" y="153.31" width="2.40" height="1.46" fill="rgb(157,157,157)"/><rect x="637.59" y="154.72" width="2.40" height="1.46" fill="rgb(178,178,178)"/><rect x="637.59" y="156.14" width="2.40" height="1.46" fill="rgb(219,219,219)"/><rect x="637.59" y="157.55" width="2.40" height="1.46" fill="rgb(228,228,228)"/><rect x="637.59" y="158.96" width="2.40" height="1.46" fill="rgb(222,222,222)"/><rect x="637.59" y="160.37" width="2.40" height="1.46" fill="rgb(224,224,224)"/><rect x="637.59" y="161.78" width="2.40" height="1.46" fill="rgb(240,240,240)"/><rect x="637.59" y="163.20" width="2.40" height="1.46" fill="rgb(244,244,244)"/><rect x="637.59" y="164.61" width="2.40" height="1.46" fill="rgb(241,241,241)"/><rect x="637.59" y="166.02" width="2.40" height="1.46" fill="rgb(242,242,242)"/><rect x="637.59" y="167.43" width="2.40" height="1.46" fill="rgb(244,244,244)"/><rect x="637.59" y="168.84" width="2.40" height="1.46" fill="rgb(248,248,248)"/><rect x="637.59" y="170.26" width="2.40" height="1.46" fill="rgb(238,238,238)"/><rect x="637.59" y="171.67" width="2.40" height="1.46" fill="rgb(229,229,229)"/><rect x="639.93" y="118.01" width="2.40" height="1.46" fill="rgb(243,243,243)"/><rect x="639.93" y="119.42" width="2.40" height="1.46" fill="rgb(249,249,249)"/><rect x="639.93" y="120.84" width="2.40" height="1.46" fill="rgb(239,239,239)"/><rect x="639.93" y="122.25" width="2.40" height="1.46" fill="rgb(251,251,251)"/><rect x="639.93" y="123.66" width="2.40" height="1.46" fill="rgb(238,238,238)"/><rect x="639.93" y="125.07" width="2.40" height="1.46" fill="rgb(248,248,248)"/><rect x="639.93" y="126.48" width="2.40" height="1.46" fill="rgb(234,234,234)"/><rect x="639.93" y="127.90" width="2.40" height="1.46" fill="rgb(243,243,243)"/><rect x="639.93" y="129.31" width="2.40" height="1.46" fill="rgb(233,233,233)"/><rect x="639.93" y="130.72" width="2.40" height="1.46" fill="rgb(236,236,236)"/><rect x="639.93" y="132.13" width="2.40" height="1.46" fill="rgb(227,227,227)"/><rect x="639.93" y="133.54" width="2.40" height="1.46" fill="rgb(214,214,214)"/><rect x="639.93" y="134.96" width="2.40" height="1.46" fill="rgb(217,217,217)"/><rect x="639.93" y="136.37" width="2.40" height="1.46" fill="rgb(197,197,197)"/><rect x="639.93" y="137.78" width="2.40" height="1.46" fill="rgb(192,192,192)"/><rect x="639.93" y="139.19" width="2.40" height="1.46" fill="rgb(154,154,154)"/><rect x="639.93" y="140.60" width="2.40" height="1.46" fill="rgb(146,146,146)"/><rect x="639.93" y="142.02" width="2.40" height="1.46" fill="rgb(141,141,141)"/><rect x="639.93" y="143.43" width="2.40" height="1.46" fill="rgb(164,164,164)"/><rect x="639.93" y="144.84" width="2.40" height="1.46" fill="rgb(150,150,150)"/><rect x="639.93" y="146.25" width="2.40" height="1.46" fill="rgb(102,102,102)"/><rect x="639.93" y="147.66" width="2.40" height="1.46" fill="rgb(171,171,171)"/><rect x="639.93" y="149.08" width="2.40" height="1.46" fill="rgb(173,173,173)"/><rect x="639.93" y="150.49" width="2.40" height="1.46" fill="rgb(172,172,172)"/><rect x="639.93" y="151.90" width="2.40" height="1.46" fill="rgb(194,194,194)"/><rect x="639.93" y="153.31" width="2.40" height="1.46" fill="rgb(188,188,188)"/><rect x="639.93" y="154.72" width="2.40" height="1.46" fill="rgb(212,212,212)"/><rect x="639.93" y="156.14" width="2.40" height="1.46" fill="rgb(208,208,208)"/><rect x="639.93" y="157.55" width="2.40" height="1.46" fill="rgb(227,227,227)"/><rect x="639.93" y="158.96" width="2.40" height="1.46" fill="rgb(232,232,232)"/><rect x="639.93" y="160.37" width="2.40" height="1.46" fill="rgb(228,228,228)"/><rect x="639.93" y="161.78" width="2.40" height="1.46" fill="rgb(230,230,230)"/><rect x="639.93" y="163.20" width="2.40" height="1.46" fill="rgb(241,241,241)"/><rect x="639.93" y="164.61" width="2.40" height="1.46" fill="rgb(234,234,234)"/><rect x="639.93" y="166.02" width="2.40" height="1.46" fill="rgb(242,242,242)"/><rect x="639.93" y="167.43" width="2.40" height="1.46" fill="rgb(244,244,244)"/><rect x="639.93" y="168.84" width="2.40" height="1.46" fill="rgb(248,248,248)"/><rect x="639.93" y="170.26" width="2.40" height="1.46" fill="rgb(234,234,234)"/><rect x="639.93" y="173.08" width="2.40" height="1.46" fill="rgb(251,251,251)"/><rect x="642.28" y="116.60" width="2.40" height="1.46" fill="rgb(251,251,251)"/><rect x="642.28" y="119.42" width="2.40" height="1.46" fill="rgb(248,248,248)"/><rect x="642.28" y="120.84" width="2.40" height="1.46" fill="rgb(249,249,249)"/><rect x="642.28" y="122.25" width="2.40" height="1.46" fill="rgb(241,241,241)"/><rect x="642.28" y="123.66" width="2.40" height="1.46" fill="rgb(246,246,246)"/><rect x="642.28" y="125.07" width="2.40" height="1.46" fill="rgb(245,245,245)"/><rect x="642.28" y="126.48" width="2.40" height="1.46" fill="rgb(239,239,239)"/><rect x="642.28" y="127.90" width="2.40" height="1.46" fill="rgb(238,238,238)"/><rect x="642.28" y="129.31" width="2.40" height="1.46" fill="rgb(235,235,235)"/><rect x="642.28" y="130.72" width="2.40" height="1.46" fill="rgb(235,235,235)"/><rect x="642.28" y="132.13" width="2.40" height="1.46" fill="rgb(212,212,212)"/><rect x="642.28" y="133.54" width="2.40" height="1.46" fill="rgb(201,201,201)"/><rect x="642.28" y="134.96" width="2.40" height="1.46" fill="rgb(199,199,199)"/><rect x="642.28" y="136.37" width="2.40" height="1.46" fill="rgb(173,173,173)"/><rect x="642.28" y="137.78" width="2.40" height="1.46" fill="rgb(141,141,141)"/><rect x="642.28" y="139.19" width="2.40" height="1.46" fill="rgb(54,54,54)"/><rect x="642.28" y="140.60" width="2.40" height="1.46" fill="rgb(164,164,164)"/><rect x="642.28" y="142.02" width="2.40" height="1.46" fill="rgb(139,139,139)"/><rect x="642.28" y="143.43" width="2.40" height="1.46" fill="rgb(155,155,155)"/><rect x="642.28" y="144.84" width="2.40" height="1.46" fill="rgb(59,59,59)"/><rect x="642.28" y="146.25" width="2.40" height="1.46" fill="rgb(93,93,93)"/><rect x="642.28" y="147.66" width="2.40" height="1.46" fill="rgb(153,153,153)"/><rect x="642.28" y="149.08" width="2.40" height="1.46" fill="rgb(169,169,169)"/><rect x="642.28" y="150.49" width="2.40" height="1.46" fill="rgb(155,155,155)"/><rect x="642.28" y="151.90" width="2.40" height="1.46" fill="rgb(173,173,173)"/><rect x="642.28" y="153.31" width="2.40" height="1.46" fill="rgb(194,194,194)"/><rect x="642.28" y="154.72" width="2.40" height="1.46" fill="rgb(203,203,203)"/><rect x="642.28" y="156.14" width="2.40" height="1.46" fill="rgb(206,206,206)"/><rect x="642.28" y="157.55" width="2.40" height="1.46" fill="rgb(217,217,217)"/><rect x="642.28" y="158.96" width="2.40" height="1.46" fill="rgb(223,223,223)"/><rect x="642.28" y="160.37" width="2.40" height="1.46" fill="rgb(236,236,236)"/><rect x="642.28" y="161.78" width="2.40" height="1.46" fill="rgb(239,239,239)"/><rect x="642.28" y="163.20" width="2.40" height="1.46" fill="rgb(237,237,237)"/><rect x="642.28" y="164.61" width="2.40" height="1.46" fill="rgb(240,240,240)"/><rect x="642.28" y="166.02" width="2.40" height="1.46" fill="rgb(241,241,241)"/><rect x="642.28" y="167.43" width="2.40" height="1.46" fill="rgb(244,244,244)"/><rect x="642.28" y="168.84" width="2.40" height="1.46" fill="rgb(247,247,247)"/><rect x="642.28" y="170.26" width="2.40" height="1.46" fill="rgb(250,250,250)"/><rect x="642.28" y="171.67" width="2.40" height="1.46" fill="rgb(250,250,250)"/><rect x="644.63" y="116.60" width="2.40" height="1.46" fill="rgb(242,242,242)"/><rect x="644.63" y="118.01" width="2.40" height="1.46" fill="rgb(228,228,228)"/><rect x="644.63" y="119.42" width="2.40" height="1.46" fill="rgb(250,250,250)"/><rect x="644.63" y="120.84" width="2.40" height="1.46" fill="rgb(247,247,247)"/><rect x="644.63" y="122.25" width="2.40" height="1.46" fill="rgb(231,231,231)"/><rect x="644.63" y="123.66" width="2.40" height="1.46" fill="rgb(238,238,238)"/><rect x="644.63" y="125.07" width="2.40" height="1.46" fill="rgb(245,245,245)"/><rect x="644.63" y="126.48" width="2.40" height="1.46" fill="rgb(243,243,243)"/><rect x="644.63" y="127.90" width="2.40" height="1.46" fill="rgb(238,238,238)"/><rect x="644.63" y="129.31" width="2.40" height="1.46" fill="rgb(230,230,230)"/><rect x="644.63" y="130.72" width="2.40" height="1.46" fill="rgb(235,235,235)"/><rect x="644.63" y="132.13" width="2.40" height="1.46" fill="rgb(208,208,208)"/><rect x="644.63" y="133.54" width="2.40" height="1.46" fill="rgb(208,208,208)"/><rect x="644.63" y="134.96" width="2.40" height="1.46" fill="rgb(186,186,186)"/><rect x="644.63" y="136.37" width="2.40" height="1.46" fill="rgb(154,154,154)"/><rect x="644.63" y="137.78" width="2.40" height="1.46" fill="rgb(157,157,157)"/><rect x="644.63" y="139.19" width="2.40" height="1.46" fill="rgb(175,175,175)"/><rect x="644.63" y="140.60" width="2.40" height="1.46" fill="rgb(0,0,0)"/><rect x="644.63" y="142.02" width="2.40" height="1.46" fill="rgb(111,111,111)"/><rect x="644.63" y="143.43" width="2.40" height="1.46" fill="rgb(104,104,104)"/><rect x="644.63" y="144.84" width="2.40" height="1.46" fill="rgb(97,97,97)"/><rect x="644.63" y="146.25" width="2.40" height="1.46" fill="rgb(126,126,126)"/><rect x="644.63" y="147.66" width="2.40" height="1.46" fill="rgb(137,137,137)"/><rect x="644.63" y="149.08" width="2.40" height="1.46" fill="rgb(198,198,198)"/><rect x="644.63" y="150.49" width="2.40" height="1.46" fill="rgb(171,171,171)"/><rect x="644.63" y="151.90" width="2.40" height="1.46" fill="rgb(193,193,193)"/><rect x="644.63" y="153.31" width="2.40" height="1.46" fill="rgb(197,197,197)"/><rect x="644.63" y="154.72" width="2.40" height="1.46" fill="rgb(209,209,209)"/><rect x="644.63" y="156.14" width="2.40" height="1.46" fill="rgb(226,226,226)"/><rect x="644.63" y="157.55" width="2.40" height="1.46" fill="rgb(224,224,224)"/><rect x="644.63" y="158.96" width="2.40" height="1.46" fill="rgb(238,238,238)"/><rect x="644.63" y="160.37" width="2.40" height="1.46" fill="rgb(235,235,235)"/><rect x="644.63" y="161.78" width="2.40" height="1.46" fill="rgb(244,244,244)"/><rect x="644.63" y="163.20" width="2.40" height="1.46" fill="rgb(238,238,238)"/><rect x="644.63" y="164.61" width="2.40" height="1.46" fill="rgb(247,247,247)"/><rect x="644.63" y="166.02" width="2.40" height="1.46" fill="rgb(243,243,243)"/><rect x="644.63" y="167.43" width="2.40" height="1.46" fill="rgb(245,245,245)"/><rect x="644.63" y="168.84" width="2.40" height="1.46" fill="rgb(233,233,233)"/><rect x="644.63" y="170.26" width="2.40" height="1.46" fill="rgb(249,249,249)"/><rect x="646.97" y="118.01" width="2.40" height="1.46" fill="rgb(233,233,233)"/><rect x="646.97" y="119.42" width="2.40" height="1.46" fill="rgb(251,251,251)"/><rect x="646.97" y="120.84" width="2.40" height="1.46" fill="rgb(241,241,241)"/><rect x="646.97" y="122.25" width="2.40" height="1.46" fill="rgb(243,243,243)"/><rect x="646.97" y="123.66" width="2.40" height="1.46" fill="rgb(241,241,241)"/><rect x="646.97" y="125.07" width="2.40" height="1.46" fill="rgb(239,239,239)"/><rect x="646.97" y="126.48" width="2.40" height="1.46" fill="rgb(240,240,240)"/><rect x="646.97" y="127.90" width="2.40" height="1.46" fill="rgb(228,228,228)"/><rect x="646.97" y="129.31" width="2.40" height="1.46" fill="rgb(230,230,230)"/><rect x="646.97" y="130.72" width="2.40" height="1.46" fill="rgb(223,223,223)"/><rect x="646.97" y="132.13" width="2.40" height="1.46" fill="rgb(219,219,219)"/><rect x="646.97" y="133.54" width="2.40" height="1.46" fill="rgb(214,214,214)"/><rect x="646.97" y="134.96" width="2.40" height="1.46" fill="rgb(198,198,198)"/><rect x="646.97" y="136.37" width="2.40" height="1.46" fill="rgb(140,140,140)"/><rect x="646.97" y="137.78" width="2.40" height="1.46" fill="rgb(166,166,166)"/><rect x="646.97" y="139.19" width="2.40" height="1.46" fill="rgb(128,128,128)"/><rect x="646.97" y="140.60" width="2.40" height="1.46" fill="rgb(127,127,127)"/><rect x="646.97" y="142.02" width="2.40" height="1.46" fill="rgb(107,107,107)"/><rect x="646.97" y="143.43" width="2.40" height="1.46" fill="rgb(125,125,125)"/><rect x="646.97" y="144.84" width="2.40" height="1.46" fill="rgb(176,176,176)"/><rect x="646.97" y="146.25" width="2.40" height="1.46" fill="rgb(159,159,159)"/><rect x="646.97" y="147.66" width="2.40" height="1.46" fill="rgb(185,185,185)"/><rect x="646.97" y="149.08" width="2.40" height="1.46" fill="rgb(166,166,166)"/><rect x="646.97" y="150.49" width="2.40" height="1.46" fill="rgb(209,209,209)"/><rect x="646.97" y="151.90" width="2.40" height="1.46" fill="rgb(204,204,204)"/><rect x="646.97" y="153.31" width="2.40" height="1.46" fill="rgb(221,221,221)"/><rect x="646.97" y="154.72" width="2.40" height="1.46" fill="rgb(229,229,229)"/><rect x="646.97" y="156.14" width="2.40" height="1.46" fill="rgb(223,223,223)"/><rect x="646.97" y="157.55" width="2.40" height="1.46" fill="rgb(240,240,240)"/><rect x="646.97" y="158.96" width="2.40" height="1.46" fill="rgb(230,230,230)"/><rect x="646.97" y="160.37" width="2.40" height="1.46" fill="rgb(233,233,233)"/><rect x="646.97" y="161.78" width="2.40" height="1.46" fill="rgb(239,239,239)"/><rect x="646.97" y="163.20" width="2.40" height="1.46" fill="rgb(246,246,246)"/><rect x="646.97" y="164.61" width="2.40" height="1.46" fill="rgb(241,241,241)"/><rect x="646.97" y="166.02" width="2.40" height="1.46" fill="rgb(244,244,244)"/><rect x="646.97" y="167.43" width="2.40" height="1.46" fill="rgb(249,249,249)"/><rect x="646.97" y="168.84" width="2.40" height="1.46" fill="rgb(250,250,250)"/><rect x="646.97" y="170.26" width="2.40" height="1.46" fill="rgb(249,249,249)"/><rect x="649.32" y="116.60" width="2.40" height="1.46" fill="rgb(251,251,251)"/><rect x="649.32" y="118.01" width="2.40" height="1.46" fill="rgb(248,248,248)"/><rect x="649.32" y="119.42" width="2.40" height="1.46" fill="rgb(250,250,250)"/><rect x="649.32" y="120.84" width="2.40" height="1.46" fill="rgb(244,244,244)"/><rect x="649.32" y="122.25" width="2.40" height="1.46" fill="rgb(247,247,247)"/><rect x="649.32" y="123.66" width="2.40" height="1.46" fill="rgb(246,246,246)"/><rect x="649.32" y="125.07" width="2.40" height="1.46" fill="rgb(238,238,238)"/><rect x="649.32" y="126.48" width="2.40" height="1.46" fill="rgb(233,233,233)"/><rect x="649.32" y="127.90" width="2.40" height="1.46" fill="rgb(235,235,235)"/><rect x="649.32" y="129.31" width="2.40" height="1.46" fill="rgb(232,232,232)"/><rect x="649.32" y="130.72" width="2.40" height="1.46" fill="rgb(199,199,199)"/><rect x="649.32" y="132.13" width="2.40" height="1.46" fill="rgb(194,194,194)"/><rect x="649.32" y="133.54" width="2.40" height="1.46" fill="rgb(181,181,181)"/><rect x="649.32" y="134.96" width="2.40" height="1.46" fill="rgb(155,155,155)"/><rect x="649.32" y="136.37" width="2.40" height="1.46" fill="rgb(127,127,127)"/><rect x="649.32" y="137.78" width="2.40" height="1.46" fill="rgb(142,142,142)"/><rect x="649.32" y="139.19" width="2.40" height="1.46" fill="rgb(131,131,131)"/><rect x="649.32" y="140.60" width="2.40" height="1.46" fill="rgb(84,84,84)"/><rect x="649.32" y="142.02" width="2.40" height="1.46" fill="rgb(0,0,0)"/><rect x="649.32" y="143.43" width="2.40" height="1.46" fill="rgb(96,96,96)"/><rect x="649.32" y="144.84" width="2.40" height="1.46" fill="rgb(161,161,161)"/><rect x="649.32" y="146.25" width="2.40" height="1.46" fill="rgb(173,173,173)"/><rect x="649.32" y="147.66" width="2.40" height="1.46" fill="rgb(192,192,192)"/><rect x="649.32" y="149.08" width="2.40" height="1.46" fill="rgb(174,174,174)"/><rect x="649.32" y="150.49" width="2.40" height="1.46" fill="rgb(217,217,217)"/><rect x="649.32" y="151.90" width="2.40" height="1.46" fill="rgb(212,212,212)"/><rect x="649.32" y="153.31" width="2.40" height="1.46" fill="rgb(227,227,227)"/><rect x="649.32" y="154.72" width="2.40" height="1.46" fill="rgb(224,224,224)"/><rect x="649.32" y="156.14" width="2.40" height="1.46" fill="rgb(237,237,237)"/><rect x="649.32" y="157.55" width="2.40" height="1.46" fill="rgb(231,231,231)"/><rect x="649.32" y="158.96" width="2.40" height="1.46" fill="rgb(232,232,232)"/><rect x="649.32" y="160.37" width="2.40" height="1.46" fill="rgb(220,220,220)"/><rect x="649.32" y="161.78" width="2.40" height="1.46" fill="rgb(245,245,245)"/><rect x="649.32" y="163.20" width="2.40" height="1.46" fill="rgb(241,241,241)"/><rect x="649.32" y="164.61" width="2.40" height="1.46" fill="rgb(246,246,246)"/><rect x="649.32" y="166.02" width="2.40" height="1.46" fill="rgb(248,248,248)"/><rect x="649.32" y="167.43" width="2.40" height="1.46" fill="rgb(246,246,246)"/><rect x="649.32" y="168.84" width="2.40" height="1.46" fill="rgb(249,249,249)"/><rect x="651.67" y="116.60" width="2.40" height="1.46" fill="rgb(249,249,249)"/><rect x="651.67" y="118.01" width="2.40" height="1.46" fill="rgb(238,238,238)"/><rect x="651.67" y="119.42" width="2.40" height="1.46" fill="rgb(227,227,227)"/><rect x="651.67" y="120.84" width="2.40" height="1.46" fill="rgb(244,244,244)"/><rect x="651.67" y="122.25" width="2.40" height="1.46" fill="rgb(237,237,237)"/><rect x="651.67" y="123.66" width="2.40" height="1.46" fill="rgb(243,243,243)"/><rect x="651.67" y="125.07" width="2.40" height="1.46" fill="rgb(229,229,229)"/><rect x="651.67" y="126.48" width="2.40" height="1.46" fill="rgb(234,234,234)"/><rect x="651.67" y="127.90" width="2.40" height="1.46" fill="rgb(229,229,229)"/><rect x="651.67" y="129.31" width="2.40" height="1.46" fill="rgb(224,224,224)"/><rect x="651.67" y="130.72" width="2.40" height="1.46" fill="rgb(180,180,180)"/><rect x="651.67" y="132.13" width="2.40" height="1.46" fill="rgb(169,169,169)"/><rect x="651.67" y="133.54" width="2.40" height="1.46" fill="rgb(162,162,162)"/><rect x="651.67" y="134.96" width="2.40" height="1.46" fill="rgb(173,173,173)"/><rect x="651.67" y="136.37" width="2.40" height="1.46" fill="rgb(148,148,148)"/><rect x="651.67" y="137.78" width="2.40" height="1.46" fill="rgb(152,152,152)"/><rect x="651.67" y="139.19" width="2.40" height="1.46" fill="rgb(80,80,80)"/><rect x="651.67" y="140.60" width="2.40" height="1.46" fill="rgb(100,100,100)"/><rect x="651.67" y="142.02" width="2.40" height="1.46" fill="rgb(113,113,113)"/><rect x="651.67" y="143.43" width="2.40" height="1.46" fill="rgb(107,107,107)"/><rect x="651.67" y="144.84" width="2.40" height="1.46" fill="rgb(99,99,99)"/><rect x="651.67" y="146.25" width="2.40" height="1.46" fill="rgb(148,148,148)"/><rect x="651.67" y="147.66" width="2.40" height="1.46" fill="rgb(199,199,199)"/><rect x="651.67" y="149.08" width="2.40" height="1.46" fill="rgb(190,190,190)"/><rect x="651.67" y="150.49" width="2.40" height="1.46" fill="rgb(201,201,201)"/><rect x="651.67" y="151.90" width="2.40" height="1.46" fill="rgb(220,220,220)"/><rect x="651.67" y="153.31" width="2.40" height="1.46" fill="rgb(210,210,210)"/><rect x="651.67" y="154.72" width="2.40" height="1.46" fill="rgb(218,218,218)"/><rect x="651.67" y="156.14" width="2.40" height="1.46" fill="rgb(237,237,237)"/><rect x="651.67" y="157.55" width="2.40" height="1.46" fill="rgb(236,236,236)"/><rect x="651.67" y="158.96" width="2.40" height="1.46" fill="rgb(241,241,241)"/><rect x="651.67" y="160.37" width="2.40" height="1.46" fill="rgb(236,236,236)"/><rect x="651.67" y="161.78" width="2.40" height="1.46" fill="rgb(242,242,242)"/><rect x="651.67" y="163.20" width="2.40" height="1.46" fill="rgb(245,245,245)"/><rect x="651.67" y="164.61" width="2.40" height="1.46" fill="rgb(246,246,246)"/><rect x="651.67" y="166.02" width="2.40" height="1.46" fill="rgb(243,243,243)"/><rect x="651.67" y="167.43" width="2.40" height="1.46" fill="rgb(247,247,247)"/><rect x="651.67" y="168.84" width="2.40" height="1.46" fill="rgb(246,246,246)"/><rect x="651.67" y="170.26" width="2.40" height="1.46" fill="rgb(247,247,247)"/><rect x="654.01" y="116.60" width="2.40" height="1.46" fill="rgb(248,248,248)"/><rect x="654.01" y="118.01" width="2.40" height="1.46" fill="rgb(243,243,243)"/><rect x="654.01" y="119.42" width="2.40" height="1.46" fill="rgb(228,228,228)"/><rect x="654.01" y="120.84" width="2.40" height="1.46" fill="rgb(239,239,239)"/><rect x="654.01" y="122.25" width="2.40" height="1.46" fill="rgb(240,240,240)"/><rect x="654.01" y="123.66" width="2.40" height="1.46" fill="rgb(228,228,228)"/><rect x="654.01" y="125.07" width="2.40" height="1.46" fill="rgb(225,225,225)"/><rect x="654.01" y="126.48" width="2.40" height="1.46" fill="rgb(221,221,221)"/><rect x="654.01" y="127.90" width="2.40" height="1.46" fill="rgb(224,224,224)"/><rect x="654.01" y="129.31" width="2.40" height="1.46" fill="rgb(202,202,202)"/><rect x="654.01" y="130.72" width="2.40" height="1.46" fill="rgb(157,157,157)"/><rect x="654.01" y="132.13" width="2.40" height="1.46" fill="rgb(177,177,177)"/><rect x="654.01" y="133.54" width="2.40" height="1.46" fill="rgb(131,131,131)"/><rect x="654.01" y="134.96" width="2.40" height="1.46" fill="rgb(132,132,132)"/><rect x="654.01" y="136.37" width="2.40" height="1.46" fill="rgb(95,95,95)"/><rect x="654.01" y="137.78" width="2.40" height="1.46" fill="rgb(113,113,113)"/><rect x="654.01" y="139.19" width="2.40" height="1.46" fill="rgb(85,85,85)"/><rect x="654.01" y="140.60" width="2.40" height="1.46" fill="rgb(64,64,64)"/><rect x="654.01" y="142.02" width="2.40" height="1.46" fill="rgb(79,79,79)"/><rect x="654.01" y="143.43" width="2.40" height="1.46" fill="rgb(124,124,124)"/><rect x="654.01" y="144.84" width="2.40" height="1.46" fill="rgb(161,161,161)"/><rect x="654.01" y="146.25" width="2.40" height="1.46" fill="rgb(147,147,147)"/><rect x="654.01" y="147.66" width="2.40" height="1.46" fill="rgb(164,164,164)"/><rect x="654.01" y="149.08" width="2.40" height="1.46" fill="rgb(174,174,174)"/><rect x="654.01" y="150.49" width="2.40" height="1.46" fill="rgb(187,187,187)"/><rect x="654.01" y="151.90" width="2.40" height="1.46" fill="rgb(220,220,220)"/><rect x="654.01" y="153.31" width="2.40" height="1.46" fill="rgb(218,218,218)"/><rect x="654.01" y="154.72" width="2.40" height="1.46" fill="rgb(233,233,233)"/><rect x="654.01" y="156.14" width="2.40" height="1.46" fill="rgb(227,227,227)"/><rect x="654.01" y="157.55" width="2.40" height="1.46" fill="rgb(234,234,234)"/><rect x="654.01" y="158.96" width="2.40" height="1.46" fill="rgb(240,240,240)"/><rect x="654.01" y="160.37" width="2.40" height="1.46" fill="rgb(239,239,239)"/><rect x="654.01" y="161.78" width="2.40" height="1.46" fill="rgb(240,240,240)"/><rect x="654.01" y="163.20" width="2.40" height="1.46" fill="rgb(235,235,235)"/><rect x="654.01" y="164.61" width="2.40" height="1.46" fill="rgb(246,246,246)"/><rect x="654.01" y="166.02" width="2.40" height="1.46" fill="rgb(243,243,243)"/><rect x="654.01" y="167.43" width="2.40" height="1.46" fill="rgb(243,243,243)"/><rect x="654.01" y="168.84" width="2.40" height="1.46" fill="rgb(248,248,248)"/><rect x="654.01" y="170.26" width="2.40" height="1.46" fill="rgb(249,249,249)"/><rect x="654.01" y="171.67" width="2.40" height="1.46" fill="rgb(248,248,248)"/><rect x="654.01" y="174.49" width="2.40" height="1.46" fill="rgb(251,251,251)"/><rect x="656.36" y="116.60" width="2.40" height="1.46" fill="rgb(248,248,248)"/><rect x="656.36" y="118.01" width="2.40" height="1.46" fill="rgb(247,247,247)"/><rect x="656.36" y="119.42" width="2.40" height="1.46" fill="rgb(245,245,245)"/><rect x="656.36" y="120.84" width="2.40" height="1.46" fill="rgb(244,244,244)"/><rect x="656.36" y="122.25" width="2.40" height="1.46" fill="rgb(242,242,242)"/><rect x="656.36" y="123.66" width="2.40" height="1.46" fill="rgb(232,232,232)"/><rect x="656.36" y="125.07" width="2.40" height="1.46" fill="rgb(227,227,227)"/><rect x="656.36" y="126.48" width="2.40" height="1.46" fill="rgb(207,207,207)"/><rect x="656.36" y="127.90" width="2.40" height="1.46" fill="rgb(201,201,201)"/><rect x="656.36" y="129.31" width="2.40" height="1.46" fill="rgb(134,134,134)"/><rect x="656.36" y="130.72" width="2.40" height="1.46" fill="rgb(165,165,165)"/><rect x="656.36" y="132.13" width="2.40" height="1.46" fill="rgb(154,154,154)"/><rect x="656.36" y="133.54" width="2.40" height="1.46" fill="rgb(169,169,169)"/><rect x="656.36" y="134.96" width="2.40" height="1.46" fill="rgb(124,124,124)"/><rect x="656.36" y="136.37" width="2.40" height="1.46" fill="rgb(71,71,71)"/><rect x="656.36" y="137.78" width="2.40" height="1.46" fill="rgb(48,48,48)"/><rect x="656.36" y="139.19" width="2.40" height="1.46" fill="rgb(34,34,34)"/><rect x="656.36" y="140.60" width="2.40" height="1.46" fill="rgb(89,89,89)"/><rect x="656.36" y="142.02" width="2.40" height="1.46" fill="rgb(119,119,119)"/><rect x="656.36" y="143.43" width="2.40" height="1.46" fill="rgb(93,93,93)"/><rect x="656.36" y="144.84" width="2.40" height="1.46" fill="rgb(108,108,108)"/><rect x="656.36" y="146.25" width="2.40" height="1.46" fill="rgb(175,175,175)"/><rect x="656.36" y="147.66" width="2.40" height="1.46" fill="rgb(188,188,188)"/><rect x="656.36" y="149.08" width="2.40" height="1.46" fill="rgb(196,196,196)"/><rect x="656.36" y="150.49" width="2.40" height="1.46" fill="rgb(202,202,202)"/><rect x="656.36" y="151.90" width="2.40" height="1.46" fill="rgb(221,221,221)"/><rect x="656.36" y="153.31" width="2.40" height="1.46" fill="rgb(219,219,219)"/><rect x="656.36" y="154.72" width="2.40" height="1.46" fill="rgb(232,232,232)"/><rect x="656.36" y="156.14" width="2.40" height="1.46" fill="rgb(239,239,239)"/><rect x="656.36" y="157.55" width="2.40" height="1.46" fill="rgb(237,237,237)"/><rect x="656.36" y="158.96" width="2.40" height="1.46" fill="rgb(242,242,242)"/><rect x="656.36" y="160.37" width="2.40" height="1.46" fill="rgb(238,238,238)"/><rect x="656.36" y="161.78" width="2.40" height="1.46" fill="rgb(239,239,239)"/><rect x="656.36" y="163.20" width="2.40" height="1.46" fill="rgb(246,246,246)"/><rect x="656.36" y="164.61" width="2.40" height="1.46" fill="rgb(221,221,221)"/><rect x="656.36" y="166.02" width="2.40" height="1.46" fill="rgb(246,246,246)"/><rect x="656.36" y="167.43" width="2.40" height="1.46" fill="rgb(246,246,246)"/><rect x="656.36" y="168.84" width="2.40" height="1.46" fill="rgb(248,248,248)"/><rect x="656.36" y="170.26" width="2.40" height="1.46" fill="rgb(246,246,246)"/><rect x="656.36" y="171.67" width="2.40" height="1.46" fill="rgb(248,248,248)"/><rect x="656.36" y="173.08" width="2.40" height="1.46" fill="rgb(251,251,251)"/><rect x="658.71" y="116.60" width="2.40" height="1.46" fill="rgb(250,250,250)"/><rect x="658.71" y="118.01" width="2.40" height="1.46" fill="rgb(247,247,247)"/><rect x="658.71" y="119.42" width="2.40" height="1.46" fill="rgb(243,243,243)"/><rect x="658.71" y="120.84" width="2.40" height="1.46" fill="rgb(241,241,241)"/><rect x="658.71" y="122.25" width="2.40" height="1.46" fill="rgb(235,235,235)"/><rect x="658.71" y="123.66" width="2.40" height="1.46" fill="rgb(240,240,240)"/><rect x="658.71" y="125.07" width="2.40" height="1.46" fill="rgb(235,235,235)"/><rect x="658.71" y="126.48" width="2.40" height="1.46" fill="rgb(233,233,233)"/><rect x="658.71" y="127.90" width="2.40" height="1.46" fill="rgb(225,225,225)"/><rect x="658.71" y="129.31" width="2.40" height="1.46" fill="rgb(180,180,180)"/><rect x="658.71" y="130.72" width="2.40" height="1.46" fill="rgb(183,183,183)"/><rect x="658.71" y="132.13" width="2.40" height="1.46" fill="rgb(193,193,193)"/><rect x="658.71" y="133.54" width="2.40" height="1.46" fill="rgb(122,122,122)"/><rect x="658.71" y="134.96" width="2.40" height="1.46" fill="rgb(139,139,139)"/><rect x="658.71" y="136.37" width="2.40" height="1.46" fill="rgb(80,80,80)"/><rect x="658.71" y="137.78" width="2.40" height="1.46" fill="rgb(159,159,159)"/><rect x="658.71" y="139.19" width="2.40" height="1.46" fill="rgb(87,87,87)"/><rect x="658.71" y="140.60" width="2.40" height="1.46" fill="rgb(153,153,153)"/><rect x="658.71" y="142.02" width="2.40" height="1.46" fill="rgb(130,130,130)"/><rect x="658.71" y="143.43" width="2.40" height="1.46" fill="rgb(162,162,162)"/><rect x="658.71" y="144.84" width="2.40" height="1.46" fill="rgb(167,167,167)"/><rect x="658.71" y="146.25" width="2.40" height="1.46" fill="rgb(211,211,211)"/><rect x="658.71" y="147.66" width="2.40" height="1.46" fill="rgb(216,216,216)"/><rect x="658.71" y="149.08" width="2.40" height="1.46" fill="rgb(210,210,210)"/><rect x="658.71" y="150.49" width="2.40" height="1.46" fill="rgb(232,232,232)"/><rect x="658.71" y="151.90" width="2.40" height="1.46" fill="rgb(232,232,232)"/><rect x="658.71" y="153.31" width="2.40" height="1.46" fill="rgb(235,235,235)"/><rect x="658.71" y="154.72" width="2.40" height="1.46" fill="rgb(236,236,236)"/><rect x="658.71" y="156.14" width="2.40" height="1.46" fill="rgb(237,237,237)"/><rect x="658.71" y="157.55" width="2.40" height="1.46" fill="rgb(239,239,239)"/><rect x="658.71" y="158.96" width="2.40" height="1.46" fill="rgb(234,234,234)"/><rect x="658.71" y="160.37" width="2.40" height="1.46" fill="rgb(235,235,235)"/><rect x="658.71" y="161.78" width="2.40" height="1.46" fill="rgb(222,222,222)"/><rect x="658.71" y="163.20" width="2.40" height="1.46" fill="rgb(226,226,226)"/><rect x="658.71" y="164.61" width="2.40" height="1.46" fill="rgb(244,244,244)"/><rect x="658.71" y="166.02" width="2.40" height="1.46" fill="rgb(245,245,245)"/><rect x="658.71" y="167.43" width="2.40" height="1.46" fill="rgb(250,250,250)"/><rect x="658.71" y="168.84" width="2.40" height="1.46" fill="rgb(247,247,247)"/><rect x="658.71" y="170.26" width="2.40" height="1.46" fill="rgb(251,251,251)"/><rect x="658.71" y="171.67" width="2.40" height="1.46" fill="rgb(250,250,250)"/><rect x="658.71" y="173.08" width="2.40" height="1.46" fill="rgb(250,250,250)"/><rect x="661.05" y="116.60" width="2.40" height="1.46" fill="rgb(229,229,229)"/><rect x="661.05" y="118.01" width="2.40" height="1.46" fill="rgb(243,243,243)"/><rect x="661.05" y="119.42" width="2.40" height="1.46" fill="rgb(244,244,244)"/><rect x="661.05" y="120.84" width="2.40" height="1.46" fill="rgb(242,242,242)"/><rect x="661.05" y="122.25" width="2.40" height="1.46" fill="rgb(239,239,239)"/><rect x="661.05" y="123.66" width="2.40" height="1.46" fill="rgb(236,236,236)"/><rect x="661.05" y="125.07" width="2.40" height="1.46" fill="rgb(225,225,225)"/><rect x="661.05" y="126.48" width="2.40" height="1.46" fill="rgb(211,211,211)"/><rect x="661.05" y="127.90" width="2.40" height="1.46" fill="rgb(211,211,211)"/><rect x="661.05" y="129.31" width="2.40" height="1.46" fill="rgb(194,194,194)"/><rect x="661.05" y="130.72" width="2.40" height="1.46" fill="rgb(159,159,159)"/><rect x="661.05" y="132.13" width="2.40" height="1.46" fill="rgb(182,182,182)"/><rect x="661.05" y="133.54" width="2.40" height="1.46" fill="rgb(100,100,100)"/><rect x="661.05" y="134.96" width="2.40" height="1.46" fill="rgb(142,142,142)"/><rect x="661.05" y="136.37" width="2.40" height="1.46" fill="rgb(157,157,157)"/><rect x="661.05" y="137.78" width="2.40" height="1.46" fill="rgb(95,95,95)"/><rect x="661.05" y="139.19" width="2.40" height="1.46" fill="rgb(100,100,100)"/><rect x="661.05" y="140.60" width="2.40" height="1.46" fill="rgb(147,147,147)"/><rect x="661.05" y="142.02" width="2.40" height="1.46" fill="rgb(158,158,158)"/><rect x="661.05" y="143.43" width="2.40" height="1.46" fill="rgb(147,147,147)"/><rect x="661.05" y="144.84" width="2.40" height="1.46" fill="rgb(189,189,189)"/><rect x="661.05" y="146.25" width="2.40" height="1.46" fill="rgb(205,205,205)"/><rect x="661.05" y="147.66" width="2.40" height="1.46" fill="rgb(208,208,208)"/><rect x="661.05" y="149.08" width="2.40" height="1.46" fill="rgb(222,222,222)"/><rect x="661.05" y="150.49" width="2.40" height="1.46" fill="rgb(226,226,226)"/><rect x="661.05" y="151.90" width="2.40" height="1.46" fill="rgb(228,228,228)"/><rect x="661.05" y="153.31" width="2.40" height="1.46" fill="rgb(230,230,230)"/><rect x="661.05" y="154.72" width="2.40" height="1.46" fill="rgb(238,238,238)"/><rect x="661.05" y="156.14" width="2.40" height="1.46" fill="rgb(239,239,239)"/><rect x="661.05" y="157.55" width="2.40" height="1.46" fill="rgb(231,231,231)"/><rect x="661.05" y="158.96" width="2.40" height="1.46" fill="rgb(239,239,239)"/><rect x="661.05" y="160.37" width="2.40" height="1.46" fill="rgb(240,240,240)"/><rect x="661.05" y="161.78" width="2.40" height="1.46" fill="rgb(230,230,230)"/><rect x="661.05" y="163.20" width="2.40" height="1.46" fill="rgb(245,245,245)"/><rect x="661.05" y="164.61" width="2.40" height="1.46" fill="rgb(245,245,245)"/><rect x="661.05" y="166.02" width="2.40" height="1.46" fill="rgb(246,246,246)"/><rect x="661.05" y="167.43" width="2.40" height="1.46" fill="rgb(248,248,248)"/><rect x="661.05" y="168.84" width="2.40" height="1.46" fill="rgb(248,248,248)"/><rect x="661.05" y="170.26" width="2.40" height="1.46" fill="rgb(249,249,249)"/><rect x="661.05" y="171.67" width="2.40" height="1.46" fill="rgb(249,249,249)"/><rect x="661.05" y="173.08" width="2.40" height="1.46" fill="rgb(250,250,250)"/></g>
<line x1="591.60" y1="116.00" x2="591.60" y2="187.50" stroke="#b8b8b8" stroke-width="1.0" />
<line x1="591.60" y1="187.50" x2="665.30" y2="187.50" stroke="#b8b8b8" stroke-width="1.0" />
<line x1="604.05" y1="187.50" x2="604.05" y2="189.20" stroke="#b8b8b8" stroke-width="0.7" />
<text x="604.05" y="199.20" font-size="8.8" text-anchor="middle" >-10</text>
<line x1="628.30" y1="187.50" x2="628.30" y2="189.20" stroke="#b8b8b8" stroke-width="0.7" />
<text x="628.30" y="199.20" font-size="8.8" text-anchor="middle" >0</text>
<line x1="652.55" y1="187.50" x2="652.55" y2="189.20" stroke="#b8b8b8" stroke-width="0.7" />
<text x="652.55" y="199.20" font-size="8.8" text-anchor="middle" >10</text>
<text x="587.00" y="131.50" font-size="8.8" text-anchor="end" >2</text>
<text x="587.00" y="155.00" font-size="8.8" text-anchor="end" >0</text>
<text x="587.00" y="178.50" font-size="8.8" text-anchor="end" >-2</text>
<text x="545.00" y="210.90" font-size="10" textLength="90.30" lengthAdjust="spacingAndGlyphs" >Generative mean (°)</text>
<defs><filter id="hb" x="-5%" y="-5%" width="110%" height="110%"><feGaussianBlur stdDeviation="0.45"/></filter><linearGradient id="cb" x1="0" y1="0" x2="0" y2="1"><stop offset="0" stop-color="#000"/><stop offset="1" stop-color="#fff"/></linearGradient></defs>
<rect x="679.6" y="112.6" width="5.6" height="72.4" fill="url(#cb)" stroke="#bbb" stroke-width="0.5"/>
<line x1="679.60" y1="116.80" x2="680.60" y2="116.80" stroke="#888" stroke-width="0.5" />
<line x1="684.20" y1="116.80" x2="685.20" y2="116.80" stroke="#888" stroke-width="0.5" />
<text x="688.30" y="120.00" font-size="8.8" >80</text>
<line x1="679.60" y1="133.20" x2="680.60" y2="133.20" stroke="#888" stroke-width="0.5" />
<line x1="684.20" y1="133.20" x2="685.20" y2="133.20" stroke="#888" stroke-width="0.5" />
<text x="688.30" y="136.40" font-size="8.8" >60</text>
<line x1="679.60" y1="149.60" x2="680.60" y2="149.60" stroke="#888" stroke-width="0.5" />
<line x1="684.20" y1="149.60" x2="685.20" y2="149.60" stroke="#888" stroke-width="0.5" />
<text x="688.30" y="152.80" font-size="8.8" >40</text>
<line x1="679.60" y1="166.00" x2="680.60" y2="166.00" stroke="#888" stroke-width="0.5" />
<line x1="684.20" y1="166.00" x2="685.20" y2="166.00" stroke="#888" stroke-width="0.5" />
<text x="688.30" y="169.20" font-size="8.8" >20</text>
<line x1="679.60" y1="182.40" x2="680.60" y2="182.40" stroke="#888" stroke-width="0.5" />
<line x1="684.20" y1="182.40" x2="685.20" y2="182.40" stroke="#888" stroke-width="0.5" />
<text x="688.30" y="185.60" font-size="8.8" >0</text>
<text transform="translate(709.00,149.00) rotate(-90)" x="0" y="0" font-size="10" text-anchor="middle" textLength="26.20" lengthAdjust="spacingAndGlyphs">Count</text>
<text x="307.90" y="227.70" font-size="13" font-weight="bold" style="stroke-width:0.3px" >g</text>
<text x="313.40" y="246.60" font-size="8.8" textLength="16.20" lengthAdjust="spacingAndGlyphs" >x 10</text>
<text x="330.10" y="241.60" font-size="7.6" >2</text>
<line x1="327.20" y1="255.60" x2="327.20" y2="320.60" stroke="#b8b8b8" stroke-width="1.0" />
<line x1="325.40" y1="319.90" x2="327.20" y2="319.90" stroke="#b8b8b8" stroke-width="0.7" />
<text x="317.80" y="323.00" font-size="8.8" text-anchor="end" >0</text>
<line x1="325.40" y1="304.00" x2="327.20" y2="304.00" stroke="#b8b8b8" stroke-width="0.7" />
<text x="317.80" y="307.10" font-size="8.8" text-anchor="end" >4</text>
<line x1="325.40" y1="288.10" x2="327.20" y2="288.10" stroke="#b8b8b8" stroke-width="0.7" />
<text x="317.80" y="291.20" font-size="8.8" text-anchor="end" >8</text>
<line x1="325.40" y1="272.20" x2="327.20" y2="272.20" stroke="#b8b8b8" stroke-width="0.7" />
<text x="317.80" y="275.30" font-size="8.8" text-anchor="end" >12</text>
<line x1="325.40" y1="256.30" x2="327.20" y2="256.30" stroke="#b8b8b8" stroke-width="0.7" />
<text x="317.80" y="259.40" font-size="8.8" text-anchor="end" >16</text>
<line x1="329.90" y1="325.10" x2="442.90" y2="325.10" stroke="#b8b8b8" stroke-width="1.0" />
<line x1="330.40" y1="325.10" x2="330.40" y2="326.80" stroke="#b8b8b8" stroke-width="0.7" />
<text x="332.60" y="336.70" font-size="8.8" text-anchor="middle" >-4</text>
<line x1="344.40" y1="325.10" x2="344.40" y2="326.80" stroke="#b8b8b8" stroke-width="0.7" />
<text x="346.80" y="336.70" font-size="8.8" text-anchor="middle" >-3</text>
<line x1="358.40" y1="325.10" x2="358.40" y2="326.80" stroke="#b8b8b8" stroke-width="0.7" />
<text x="360.70" y="336.70" font-size="8.8" text-anchor="middle" >-2</text>
<line x1="372.40" y1="325.10" x2="372.40" y2="326.80" stroke="#b8b8b8" stroke-width="0.7" />
<text x="374.30" y="336.70" font-size="8.8" text-anchor="middle" >-1</text>
<line x1="386.40" y1="325.10" x2="386.40" y2="326.80" stroke="#b8b8b8" stroke-width="0.7" />
<text x="387.90" y="336.70" font-size="8.8" text-anchor="middle" >0</text>
<line x1="400.40" y1="325.10" x2="400.40" y2="326.80" stroke="#b8b8b8" stroke-width="0.7" />
<text x="401.40" y="336.70" font-size="8.8" text-anchor="middle" >1</text>
<line x1="414.40" y1="325.10" x2="414.40" y2="326.80" stroke="#b8b8b8" stroke-width="0.7" />
<text x="415.80" y="336.70" font-size="8.8" text-anchor="middle" >2</text>
<line x1="428.40" y1="325.10" x2="428.40" y2="326.80" stroke="#b8b8b8" stroke-width="0.7" />
<text x="430.00" y="336.70" font-size="8.8" text-anchor="middle" >3</text>
<line x1="442.40" y1="325.10" x2="442.40" y2="326.80" stroke="#b8b8b8" stroke-width="0.7" />
<text x="443.60" y="336.70" font-size="8.8" text-anchor="middle" >4</text>
<text x="356.70" y="352.50" font-size="10.2" textLength="65.00" lengthAdjust="spacingAndGlyphs" >Estimate (s.d.)</text>
<text transform="translate(306.80,279.50) rotate(-90)" x="0" y="0" font-size="10" text-anchor="middle" textLength="25.70" lengthAdjust="spacingAndGlyphs">Count</text>
<path d="M332.80,319.90 L332.80,319.88 L334.80,319.88 L334.80,319.87 L336.80,319.87 L336.80,319.85 L338.80,319.85 L338.80,319.81 L340.80,319.81 L340.80,319.76 L342.80,319.76 L342.80,319.67 L344.80,319.67 L344.80,319.54 L346.80,319.54 L346.80,319.39 L348.80,319.39 L348.80,319.13 L350.80,319.13 L350.80,318.78 L352.80,318.78 L352.80,318.38 L354.80,318.38 L354.80,317.65 L356.80,317.65 L356.80,316.48 L358.80,316.48 L358.80,314.76 L360.80,314.76 L360.80,311.63 L362.80,311.63 L362.80,307.46 L364.80,307.46 L364.80,300.81 L366.80,300.81 L366.80,292.73 L368.80,292.73 L368.80,282.53 L370.80,282.53 L370.80,272.73 L372.80,272.73 L372.80,265.84 L374.80,265.84 L374.80,266.96 L376.80,266.96 L376.80,271.75 L378.80,271.75 L378.80,276.50 L380.80,276.50 L380.80,285.74 L382.81,285.74 L382.81,300.82 L384.81,300.82 L384.81,294.06 L386.81,294.06 L386.81,289.95 L388.81,289.95 L388.81,283.67 L390.81,283.67 L390.81,278.83 L392.81,278.83 L392.81,275.14 L394.81,275.14 L394.81,275.31 L396.81,275.31 L396.81,278.04 L398.81,278.04 L398.81,281.91 L400.81,281.91 L400.81,290.50 L402.81,290.50 L402.81,296.21 L404.81,296.21 L404.81,302.80 L406.81,302.80 L406.81,308.82 L408.81,308.82 L408.81,312.22 L410.81,312.22 L410.81,314.70 L412.81,314.70 L412.81,316.51 L414.81,316.51 L414.81,317.48 L416.81,317.48 L416.81,318.14 L418.81,318.14 L418.81,318.74 L420.81,318.74 L420.81,319.05 L422.81,319.05 L422.81,319.34 L424.81,319.34 L424.81,319.50 L426.81,319.50 L426.81,319.63 L428.81,319.63 L428.81,319.73 L430.81,319.73 L430.81,319.80 L432.81,319.80 L432.81,319.84 L434.81,319.84 L434.81,319.86 L436.81,319.86 L436.81,319.88 L438.81,319.88 L438.81,319.89 L440.81,319.89 L440.81,319.89 L442.81,319.89 L442.81,319.90" stroke="#b0b0b0" stroke-width="0.8" fill="none" />
<path d="M333.50,319.90 L333.50,319.88 L335.50,319.88 L335.50,319.87 L337.50,319.87 L337.50,319.85 L339.50,319.85 L339.50,319.81 L341.50,319.81 L341.50,319.75 L343.50,319.75 L343.50,319.67 L345.50,319.67 L345.50,319.56 L347.50,319.56 L347.50,319.38 L349.50,319.38 L349.50,319.10 L351.50,319.10 L351.50,318.78 L353.50,318.78 L353.50,318.27 L355.50,318.27 L355.50,317.69 L357.50,317.69 L357.50,316.54 L359.50,316.54 L359.50,314.85 L361.50,314.85 L361.50,311.75 L363.50,311.75 L363.50,307.03 L365.50,307.03 L365.50,301.16 L367.50,301.16 L367.50,292.49 L369.50,292.49 L369.50,283.20 L371.50,283.20 L371.50,272.76 L373.50,272.76 L373.50,261.87 L375.50,261.87 L375.50,269.50 L377.50,269.50 L377.50,270.15 L379.50,270.15 L379.50,278.57 L381.50,278.57 L381.50,304.40 L383.50,304.40 L383.50,292.11 L385.51,292.11 L385.51,294.99 L387.51,294.99 L387.51,295.65 L389.51,295.65 L389.51,284.29 L391.51,284.29 L391.51,278.40 L393.51,278.40 L393.51,272.53 L395.51,272.53 L395.51,272.89 L397.51,272.89 L397.51,278.01 L399.51,278.01 L399.51,281.46 L401.51,281.46 L401.51,289.68 L403.51,289.68 L403.51,296.60 L405.51,296.60 L405.51,303.70 L407.51,303.70 L407.51,308.00 L409.51,308.00 L409.51,312.02 L411.51,312.02 L411.51,314.50 L413.51,314.50 L413.51,316.26 L415.51,316.26 L415.51,317.51 L417.51,317.51 L417.51,318.22 L419.51,318.22 L419.51,318.73 L421.51,318.73 L421.51,319.08 L423.51,319.08 L423.51,319.34 L425.51,319.34 L425.51,319.51 L427.51,319.51 L427.51,319.64 L429.51,319.64 L429.51,319.74 L431.51,319.74 L431.51,319.79 L433.51,319.79 L433.51,319.84 L435.51,319.84 L435.51,319.86 L437.51,319.86 L437.51,319.88 L439.51,319.88 L439.51,319.89 L441.51,319.89 L441.51,319.89 L443.51,319.89 L443.51,319.90" stroke="#333" stroke-width="0.7" fill="none" />
<line x1="330.50" y1="252.90" x2="336.70" y2="252.90" stroke="#b0b0b0" stroke-width="1.3" />
<line x1="330.50" y1="265.30" x2="336.70" y2="265.30" stroke="#000" stroke-width="1.3" />
<text x="339.40" y="255.80" font-size="9.6" textLength="17.20" lengthAdjust="spacingAndGlyphs" >Cue</text>
<text x="339.40" y="268.00" font-size="9.6" textLength="29.40" lengthAdjust="spacingAndGlyphs" >Choice</text>
<text x="379.50" y="245.90" font-size="8.8" textLength="71.30" lengthAdjust="spacingAndGlyphs" >Hartigan’s dip tests:</text>
<text x="388.00" y="258.30" font-size="8.8" textLength="52.40" lengthAdjust="spacingAndGlyphs" >Choice: p &lt; 10</text>
<text x="442.40" y="255.00" font-size="6.2" textLength="6.90" lengthAdjust="spacingAndGlyphs" >-3</text>
<text x="398.70" y="267.80" font-size="8.8" textLength="41.70" lengthAdjust="spacingAndGlyphs" >Cue: p &lt; 10</text>
<text x="442.40" y="264.50" font-size="6.2" textLength="6.90" lengthAdjust="spacingAndGlyphs" >-3</text>
<text x="453.60" y="231.30" font-size="13" font-weight="bold" style="stroke-width:0.3px" >h</text>
<text transform="translate(468.90,275.30) rotate(-90)" x="0" y="0" font-size="10.2" text-anchor="middle" textLength="68.00" lengthAdjust="spacingAndGlyphs">Mean estimate</text>
<text transform="translate(478.30,276.00) rotate(-90)" x="0" y="0" font-size="10.2" text-anchor="middle" textLength="93.30" lengthAdjust="spacingAndGlyphs">(s.d. from reference)</text>
<line x1="496.30" y1="243.20" x2="496.30" y2="326.60" stroke="#b8b8b8" stroke-width="1.0" />
<line x1="496.30" y1="326.60" x2="580.60" y2="326.60" stroke="#b8b8b8" stroke-width="1.0" />
<line x1="494.60" y1="249.10" x2="496.30" y2="249.10" stroke="#b8b8b8" stroke-width="0.7" />
<text x="490.60" y="252.20" font-size="8.8" text-anchor="end" >1</text>
<line x1="494.60" y1="284.50" x2="496.30" y2="284.50" stroke="#b8b8b8" stroke-width="0.7" />
<text x="490.60" y="287.60" font-size="8.8" text-anchor="end" >0</text>
<line x1="494.60" y1="319.90" x2="496.30" y2="319.90" stroke="#b8b8b8" stroke-width="0.7" />
<text x="490.60" y="323.00" font-size="8.8" text-anchor="end" >-1</text>
<path d="M496.3,284.5 L580,284.5" stroke="#888" stroke-width="0.6" fill="none" stroke-dasharray="1.2,2.2"/>
<line x1="509.80" y1="326.60" x2="509.80" y2="328.30" stroke="#b8b8b8" stroke-width="0.7" />
<line x1="524.80" y1="326.60" x2="524.80" y2="328.30" stroke="#b8b8b8" stroke-width="0.7" />
<line x1="552.60" y1="326.60" x2="552.60" y2="328.30" stroke="#b8b8b8" stroke-width="0.7" />
<line x1="566.00" y1="326.60" x2="566.00" y2="328.30" stroke="#b8b8b8" stroke-width="0.7" />
<text x="510.20" y="338.40" font-size="10.2" text-anchor="middle" fill="#3a3a3a" >L</text>
<text x="525.30" y="338.40" font-size="10.2" text-anchor="middle" fill="#3a3a3a" >R</text>
<text x="552.60" y="338.40" font-size="10.2" text-anchor="middle" fill="#3a3a3a" >L</text>
<text x="566.50" y="338.40" font-size="10.2" text-anchor="middle" fill="#3a3a3a" >R</text>
<text x="506.40" y="350.60" font-size="10.4" textLength="18.60" lengthAdjust="spacingAndGlyphs" >Cue</text>
<text x="544.40" y="350.60" font-size="10.4" textLength="30.20" lengthAdjust="spacingAndGlyphs" >Choice</text>
<circle cx="511.41" cy="303.60" r="2.25" fill="#3d79c4" fill-opacity="0.34"/>
<circle cx="508.33" cy="293.57" r="2.25" fill="#3d79c4" fill-opacity="0.34"/>
<circle cx="509.34" cy="297.85" r="2.25" fill="#3d79c4" fill-opacity="0.34"/>
<circle cx="511.10" cy="295.36" r="2.25" fill="#3d79c4" fill-opacity="0.34"/>
<circle cx="507.15" cy="304.24" r="2.25" fill="#3d79c4" fill-opacity="0.34"/>
<circle cx="509.25" cy="292.43" r="2.25" fill="#3d79c4" fill-opacity="0.34"/>
<circle cx="507.01" cy="293.60" r="2.25" fill="#3d79c4" fill-opacity="0.34"/>
<circle cx="510.75" cy="298.64" r="2.25" fill="#3d79c4" fill-opacity="0.34"/>
<circle cx="511.92" cy="302.10" r="2.25" fill="#3d79c4" fill-opacity="0.34"/>
<circle cx="507.16" cy="291.38" r="2.25" fill="#3d79c4" fill-opacity="0.34"/>
<circle cx="509.82" cy="305.33" r="2.25" fill="#3d79c4" fill-opacity="0.34"/>
<circle cx="508.98" cy="290.78" r="2.25" fill="#3d79c4" fill-opacity="0.34"/>
<circle cx="509.20" cy="302.29" r="2.25" fill="#3d79c4" fill-opacity="0.34"/>
<circle cx="508.15" cy="305.28" r="2.25" fill="#3d79c4" fill-opacity="0.34"/>
<circle cx="509.58" cy="298.76" r="2.25" fill="#3d79c4" fill-opacity="0.34"/>
<circle cx="508.20" cy="302.03" r="2.25" fill="#3d79c4" fill-opacity="0.34"/>
<circle cx="509.39" cy="302.25" r="2.25" fill="#3d79c4" fill-opacity="0.34"/>
<circle cx="507.11" cy="309.24" r="2.25" fill="#3d79c4" fill-opacity="0.34"/>
<circle cx="509.89" cy="290.43" r="2.25" fill="#3d79c4" fill-opacity="0.34"/>
<circle cx="507.97" cy="297.14" r="2.25" fill="#3d79c4" fill-opacity="0.34"/>
<circle cx="511.47" cy="285.11" r="2.25" fill="#3d79c4" fill-opacity="0.34"/>
<circle cx="508.73" cy="315.04" r="2.25" fill="#3d79c4" fill-opacity="0.34"/>
<circle cx="510.70" cy="294.42" r="2.25" fill="#3d79c4" fill-opacity="0.34"/>
<circle cx="509.19" cy="287.04" r="2.25" fill="#3d79c4" fill-opacity="0.34"/>
<line x1="504.40" y1="297.60" x2="514.80" y2="297.60" stroke="#3d79c4" stroke-width="2.4" />
<circle cx="526.93" cy="267.66" r="2.25" fill="#e8323a" fill-opacity="0.34"/>
<circle cx="522.44" cy="285.17" r="2.25" fill="#e8323a" fill-opacity="0.34"/>
<circle cx="525.83" cy="270.00" r="2.25" fill="#e8323a" fill-opacity="0.34"/>
<circle cx="523.60" cy="273.23" r="2.25" fill="#e8323a" fill-opacity="0.34"/>
<circle cx="525.16" cy="274.47" r="2.25" fill="#e8323a" fill-opacity="0.34"/>
<circle cx="522.82" cy="274.95" r="2.25" fill="#e8323a" fill-opacity="0.34"/>
<circle cx="524.05" cy="277.88" r="2.25" fill="#e8323a" fill-opacity="0.34"/>
<circle cx="527.17" cy="272.19" r="2.25" fill="#e8323a" fill-opacity="0.34"/>
<circle cx="524.83" cy="267.79" r="2.25" fill="#e8323a" fill-opacity="0.34"/>
<circle cx="523.39" cy="277.61" r="2.25" fill="#e8323a" fill-opacity="0.34"/>
<circle cx="522.14" cy="285.57" r="2.25" fill="#e8323a" fill-opacity="0.34"/>
<circle cx="523.66" cy="277.22" r="2.25" fill="#e8323a" fill-opacity="0.34"/>
<circle cx="526.64" cy="278.87" r="2.25" fill="#e8323a" fill-opacity="0.34"/>
<circle cx="524.91" cy="276.03" r="2.25" fill="#e8323a" fill-opacity="0.34"/>
<circle cx="522.12" cy="281.67" r="2.25" fill="#e8323a" fill-opacity="0.34"/>
<circle cx="522.71" cy="279.94" r="2.25" fill="#e8323a" fill-opacity="0.34"/>
<circle cx="527.19" cy="276.34" r="2.25" fill="#e8323a" fill-opacity="0.34"/>
<circle cx="522.95" cy="265.07" r="2.25" fill="#e8323a" fill-opacity="0.34"/>
<circle cx="526.14" cy="256.23" r="2.25" fill="#e8323a" fill-opacity="0.34"/>
<circle cx="526.71" cy="262.65" r="2.25" fill="#e8323a" fill-opacity="0.34"/>
<circle cx="526.11" cy="261.50" r="2.25" fill="#e8323a" fill-opacity="0.34"/>
<circle cx="527.10" cy="278.01" r="2.25" fill="#e8323a" fill-opacity="0.34"/>
<circle cx="522.84" cy="253.47" r="2.25" fill="#e8323a" fill-opacity="0.34"/>
<circle cx="525.72" cy="261.86" r="2.25" fill="#e8323a" fill-opacity="0.34"/>
<line x1="519.40" y1="277.42" x2="529.80" y2="277.42" stroke="#e8323a" stroke-width="2.4" />
<circle cx="552.83" cy="295.71" r="2.25" fill="#3d79c4" fill-opacity="0.34"/>
<circle cx="553.14" cy="294.08" r="2.25" fill="#3d79c4" fill-opacity="0.34"/>
<circle cx="550.34" cy="290.91" r="2.25" fill="#3d79c4" fill-opacity="0.34"/>
<circle cx="554.35" cy="298.50" r="2.25" fill="#3d79c4" fill-opacity="0.34"/>
<circle cx="551.22" cy="295.45" r="2.25" fill="#3d79c4" fill-opacity="0.34"/>
<circle cx="552.45" cy="286.32" r="2.25" fill="#3d79c4" fill-opacity="0.34"/>
<circle cx="552.48" cy="288.30" r="2.25" fill="#3d79c4" fill-opacity="0.34"/>
<circle cx="550.78" cy="290.74" r="2.25" fill="#3d79c4" fill-opacity="0.34"/>
<circle cx="554.51" cy="290.79" r="2.25" fill="#3d79c4" fill-opacity="0.34"/>
<circle cx="553.85" cy="292.18" r="2.25" fill="#3d79c4" fill-opacity="0.34"/>
<circle cx="550.33" cy="290.34" r="2.25" fill="#3d79c4" fill-opacity="0.34"/>
<circle cx="553.07" cy="289.27" r="2.25" fill="#3d79c4" fill-opacity="0.34"/>
<circle cx="550.16" cy="294.93" r="2.25" fill="#3d79c4" fill-opacity="0.34"/>
<circle cx="552.46" cy="287.94" r="2.25" fill="#3d79c4" fill-opacity="0.34"/>
<circle cx="554.57" cy="289.75" r="2.25" fill="#3d79c4" fill-opacity="0.34"/>
<circle cx="554.79" cy="289.81" r="2.25" fill="#3d79c4" fill-opacity="0.34"/>
<circle cx="554.16" cy="293.77" r="2.25" fill="#3d79c4" fill-opacity="0.34"/>
<circle cx="554.87" cy="296.29" r="2.25" fill="#3d79c4" fill-opacity="0.34"/>
<circle cx="550.51" cy="280.15" r="2.25" fill="#3d79c4" fill-opacity="0.34"/>
<circle cx="551.13" cy="307.77" r="2.25" fill="#3d79c4" fill-opacity="0.34"/>
<circle cx="552.27" cy="276.93" r="2.25" fill="#3d79c4" fill-opacity="0.34"/>
<circle cx="551.57" cy="289.53" r="2.25" fill="#3d79c4" fill-opacity="0.34"/>
<circle cx="552.01" cy="293.97" r="2.25" fill="#3d79c4" fill-opacity="0.34"/>
<circle cx="553.04" cy="299.78" r="2.25" fill="#3d79c4" fill-opacity="0.34"/>
<line x1="547.40" y1="293.35" x2="557.80" y2="293.35" stroke="#3d79c4" stroke-width="2.4" />
<circle cx="564.14" cy="284.20" r="2.25" fill="#e8323a" fill-opacity="0.34"/>
<circle cx="564.41" cy="281.59" r="2.25" fill="#e8323a" fill-opacity="0.34"/>
<circle cx="565.69" cy="286.96" r="2.25" fill="#e8323a" fill-opacity="0.34"/>
<circle cx="567.76" cy="273.09" r="2.25" fill="#e8323a" fill-opacity="0.34"/>
<circle cx="564.75" cy="275.58" r="2.25" fill="#e8323a" fill-opacity="0.34"/>
<circle cx="565.04" cy="279.30" r="2.25" fill="#e8323a" fill-opacity="0.34"/>
<circle cx="564.15" cy="285.23" r="2.25" fill="#e8323a" fill-opacity="0.34"/>
<circle cx="568.42" cy="284.55" r="2.25" fill="#e8323a" fill-opacity="0.34"/>
<circle cx="567.79" cy="274.54" r="2.25" fill="#e8323a" fill-opacity="0.34"/>
<circle cx="564.61" cy="275.01" r="2.25" fill="#e8323a" fill-opacity="0.34"/>
<circle cx="566.86" cy="282.99" r="2.25" fill="#e8323a" fill-opacity="0.34"/>
<circle cx="568.04" cy="276.12" r="2.25" fill="#e8323a" fill-opacity="0.34"/>
<circle cx="564.05" cy="273.71" r="2.25" fill="#e8323a" fill-opacity="0.34"/>
<circle cx="567.09" cy="278.17" r="2.25" fill="#e8323a" fill-opacity="0.34"/>
<circle cx="564.52" cy="279.80" r="2.25" fill="#e8323a" fill-opacity="0.34"/>
<circle cx="564.06" cy="280.33" r="2.25" fill="#e8323a" fill-opacity="0.34"/>
<circle cx="568.10" cy="272.82" r="2.25" fill="#e8323a" fill-opacity="0.34"/>
<circle cx="565.16" cy="269.80" r="2.25" fill="#e8323a" fill-opacity="0.34"/>
<circle cx="566.58" cy="254.97" r="2.25" fill="#e8323a" fill-opacity="0.34"/>
<circle cx="568.01" cy="256.06" r="2.25" fill="#e8323a" fill-opacity="0.34"/>
<circle cx="565.75" cy="271.41" r="2.25" fill="#e8323a" fill-opacity="0.34"/>
<circle cx="565.84" cy="267.69" r="2.25" fill="#e8323a" fill-opacity="0.34"/>
<circle cx="565.19" cy="285.66" r="2.25" fill="#e8323a" fill-opacity="0.34"/>
<circle cx="563.82" cy="258.92" r="2.25" fill="#e8323a" fill-opacity="0.34"/>
<line x1="561.00" y1="279.54" x2="571.40" y2="279.54" stroke="#e8323a" stroke-width="2.4" />
<path d="M508.7,243.2 L508.7,239.4 L525,239.4 L525,243.2" stroke="#555" stroke-width="0.6" fill="none" />
<path d="M548.2,243.2 L548.2,239.4 L565.1,239.4 L565.1,243.2" stroke="#555" stroke-width="0.6" fill="none" />
<text x="505.00" y="236.80" font-size="8.8" textLength="23.30" lengthAdjust="spacingAndGlyphs" >p &lt; 10</text>
<text x="529.10" y="230.60" font-size="6.2" textLength="7.40" lengthAdjust="spacingAndGlyphs" >-3</text>
<text x="545.00" y="236.80" font-size="8.8" textLength="23.30" lengthAdjust="spacingAndGlyphs" >p &lt; 10</text>
<text x="569.40" y="230.60" font-size="6.2" textLength="7.40" lengthAdjust="spacingAndGlyphs" >-3</text>
<line x1="514.30" y1="321.30" x2="521.80" y2="321.30" stroke="#2f6fbf" stroke-width="1.8" />
<text x="524.00" y="324.20" font-size="8.8" textLength="25.30" lengthAdjust="spacingAndGlyphs" >Left (L)</text>
<line x1="556.90" y1="320.90" x2="564.50" y2="320.90" stroke="#e8262d" stroke-width="1.8" />
<text x="565.70" y="323.90" font-size="8.8" textLength="31.80" lengthAdjust="spacingAndGlyphs" >Right (R)</text>
<text x="596.50" y="231.00" font-size="13" font-weight="bold" style="stroke-width:0.3px" >i</text>
<text transform="translate(609.80,284.40) rotate(-90)" x="0" y="0" font-size="10.2" text-anchor="middle" textLength="55.70" lengthAdjust="spacingAndGlyphs">Difference in</text>
<text transform="translate(619.20,282.70) rotate(-90)" x="0" y="0" font-size="10.2" text-anchor="middle" textLength="93.00" lengthAdjust="spacingAndGlyphs">mean estimate  (R-L)</text>
<line x1="633.20" y1="253.20" x2="633.20" y2="325.10" stroke="#b8b8b8" stroke-width="1.0" />
<line x1="633.20" y1="325.10" x2="714.20" y2="325.10" stroke="#b8b8b8" stroke-width="1.0" />
<text x="630.60" y="256.80" font-size="8.8" text-anchor="end" >1</text>
<text x="630.60" y="328.00" font-size="8.8" text-anchor="end" >0</text>
<line x1="647.50" y1="325.10" x2="647.50" y2="326.80" stroke="#b8b8b8" stroke-width="0.7" />
<line x1="675.60" y1="325.10" x2="675.60" y2="326.80" stroke="#b8b8b8" stroke-width="0.7" />
<line x1="701.60" y1="325.10" x2="701.60" y2="326.80" stroke="#b8b8b8" stroke-width="0.7" />
<path d="M633.2,319 L648.5,319 M691.4,319 L713,319" stroke="#888" stroke-width="0.6" fill="none" stroke-dasharray="1.2,2.2"/>
<path d="M647.3,281.7 L674.5,287.6 L700.7,298.2" stroke="#b4b4b4" stroke-width="1.3" fill="none" />
<line x1="647.30" y1="277.60" x2="647.30" y2="285.80" stroke="#b4b4b4" stroke-width="1.8" />
<line x1="674.50" y1="283.20" x2="674.50" y2="292.00" stroke="#b4b4b4" stroke-width="1.8" />
<line x1="700.70" y1="294.60" x2="700.70" y2="303.20" stroke="#b4b4b4" stroke-width="1.8" />
<path d="M648.6,297.6 L675.1,290.0 L701.8,287.4" stroke="#000" stroke-width="1.7" fill="none" />
<line x1="648.60" y1="292.80" x2="648.60" y2="302.60" stroke="#000" stroke-width="1.9" />
<line x1="675.10" y1="285.00" x2="675.10" y2="295.30" stroke="#000" stroke-width="1.9" />
<line x1="701.80" y1="282.40" x2="701.80" y2="292.40" stroke="#000" stroke-width="1.9" />
<text x="650.10" y="311.10" font-size="8.8" textLength="60.50" lengthAdjust="spacingAndGlyphs" >F(2,155) = 4.05</text>
<text x="650.10" y="321.20" font-size="8.8" textLength="36.80" lengthAdjust="spacingAndGlyphs" >p = 0.019</text>
<text x="627.50" y="337.10" font-size="8.8" textLength="26.70" lengthAdjust="spacingAndGlyphs" >Near-0</text>
<text x="660.50" y="337.10" font-size="8.8" textLength="29.30" lengthAdjust="spacingAndGlyphs" >Medium</text>
<text x="698.20" y="337.10" font-size="8.8" textLength="20.30" lengthAdjust="spacingAndGlyphs" >Large</text>
<text x="632.70" y="352.20" font-size="10.6" textLength="79.50" lengthAdjust="spacingAndGlyphs" >Evidence strength</text>
<line x1="636.30" y1="238.30" x2="644.20" y2="238.30" stroke="#000" stroke-width="1.8" />
<text x="646.00" y="241.00" font-size="8.8" textLength="25.30" lengthAdjust="spacingAndGlyphs" >Choice</text>
<line x1="636.30" y1="246.60" x2="644.20" y2="246.60" stroke="#b4b4b4" stroke-width="1.6" />
<text x="646.00" y="249.30" font-size="8.8" textLength="15.10" lengthAdjust="spacingAndGlyphs" >Cue</text>
<line x1="677.60" y1="220.50" x2="677.60" y2="258.60" stroke="#b8b8b8" stroke-width="0.7" />
<line x1="677.60" y1="258.60" x2="716.50" y2="258.60" stroke="#b8b8b8" stroke-width="0.7" />
<text x="674.20" y="225.20" font-size="7.6" text-anchor="end" >1</text>
<text x="675.00" y="258.00" font-size="7.6" text-anchor="end" >0</text>
<path d="M677.6,256.4 L716,256.4" stroke="#888" stroke-width="0.5" fill="none" stroke-dasharray="1,1.6"/>
<line x1="684.20" y1="248.10" x2="697.60" y2="253.40" stroke="#000" stroke-width="2.0" />
<line x1="683.30" y1="255.80" x2="710.30" y2="255.80" stroke="#bdbdbd" stroke-width="1.7" />
<text x="685.10" y="226.10" font-size="8.8" textLength="16.70" lengthAdjust="spacingAndGlyphs" >Ideal</text>
<text x="685.10" y="236.30" font-size="8.8" textLength="30.60" lengthAdjust="spacingAndGlyphs" >observer</text>
<line x1="682.70" y1="258.60" x2="682.70" y2="260.00" stroke="#b8b8b8" stroke-width="0.6" />
<text x="682.70" y="267.90" font-size="7.6" text-anchor="middle" >1</text>
<line x1="696.20" y1="258.60" x2="696.20" y2="260.00" stroke="#b8b8b8" stroke-width="0.6" />
<text x="696.20" y="267.90" font-size="7.6" text-anchor="middle" >2</text>
<line x1="709.20" y1="258.60" x2="709.20" y2="260.00" stroke="#b8b8b8" stroke-width="0.6" />
<text x="709.20" y="267.90" font-size="7.6" text-anchor="middle" >3</text>
<text x="689.70" y="275.30" font-size="7.2" textLength="13.40" lengthAdjust="spacingAndGlyphs" >Bins</text></svg>
</body></html>
